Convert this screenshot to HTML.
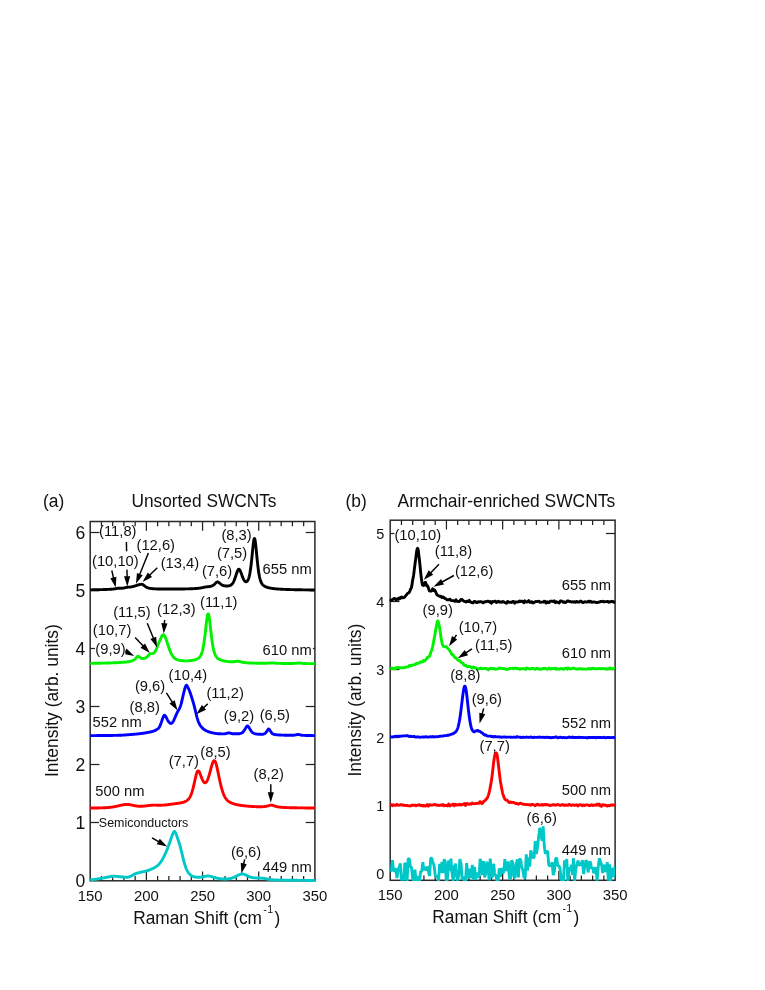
<!DOCTYPE html>
<html><head><meta charset="utf-8"><title>Raman spectra</title>
<style>html,body{margin:0;padding:0;background:#fff}body{width:765px;height:990px;overflow:hidden;font-family:"Liberation Sans",sans-serif}</style></head>
<body>
<svg width="765" height="990" viewBox="0 0 765 990" font-family='"Liberation Sans", sans-serif' fill="#111" style="display:block;will-change:transform">
<rect width="765" height="990" fill="#fff"/>
<rect x="90.20" y="521.50" width="224.70" height="359.30" fill="none" stroke="#2a2a2a" stroke-width="1.50"/>
<line x1="101.44" y1="880.80" x2="101.44" y2="876.00" stroke="#222" stroke-width="1.25"/>
<line x1="101.44" y1="521.50" x2="101.44" y2="526.30" stroke="#222" stroke-width="1.25"/>
<line x1="112.67" y1="880.80" x2="112.67" y2="876.00" stroke="#222" stroke-width="1.25"/>
<line x1="112.67" y1="521.50" x2="112.67" y2="526.30" stroke="#222" stroke-width="1.25"/>
<line x1="123.91" y1="880.80" x2="123.91" y2="876.00" stroke="#222" stroke-width="1.25"/>
<line x1="123.91" y1="521.50" x2="123.91" y2="526.30" stroke="#222" stroke-width="1.25"/>
<line x1="135.14" y1="880.80" x2="135.14" y2="876.00" stroke="#222" stroke-width="1.25"/>
<line x1="135.14" y1="521.50" x2="135.14" y2="526.30" stroke="#222" stroke-width="1.25"/>
<line x1="146.38" y1="880.80" x2="146.38" y2="871.50" stroke="#222" stroke-width="1.25"/>
<line x1="146.38" y1="521.50" x2="146.38" y2="530.80" stroke="#222" stroke-width="1.25"/>
<line x1="157.61" y1="880.80" x2="157.61" y2="876.00" stroke="#222" stroke-width="1.25"/>
<line x1="157.61" y1="521.50" x2="157.61" y2="526.30" stroke="#222" stroke-width="1.25"/>
<line x1="168.84" y1="880.80" x2="168.84" y2="876.00" stroke="#222" stroke-width="1.25"/>
<line x1="168.84" y1="521.50" x2="168.84" y2="526.30" stroke="#222" stroke-width="1.25"/>
<line x1="180.08" y1="880.80" x2="180.08" y2="876.00" stroke="#222" stroke-width="1.25"/>
<line x1="180.08" y1="521.50" x2="180.08" y2="526.30" stroke="#222" stroke-width="1.25"/>
<line x1="191.31" y1="880.80" x2="191.31" y2="876.00" stroke="#222" stroke-width="1.25"/>
<line x1="191.31" y1="521.50" x2="191.31" y2="526.30" stroke="#222" stroke-width="1.25"/>
<line x1="202.55" y1="880.80" x2="202.55" y2="871.50" stroke="#222" stroke-width="1.25"/>
<line x1="202.55" y1="521.50" x2="202.55" y2="530.80" stroke="#222" stroke-width="1.25"/>
<line x1="213.78" y1="880.80" x2="213.78" y2="876.00" stroke="#222" stroke-width="1.25"/>
<line x1="213.78" y1="521.50" x2="213.78" y2="526.30" stroke="#222" stroke-width="1.25"/>
<line x1="225.02" y1="880.80" x2="225.02" y2="876.00" stroke="#222" stroke-width="1.25"/>
<line x1="225.02" y1="521.50" x2="225.02" y2="526.30" stroke="#222" stroke-width="1.25"/>
<line x1="236.25" y1="880.80" x2="236.25" y2="876.00" stroke="#222" stroke-width="1.25"/>
<line x1="236.25" y1="521.50" x2="236.25" y2="526.30" stroke="#222" stroke-width="1.25"/>
<line x1="247.49" y1="880.80" x2="247.49" y2="876.00" stroke="#222" stroke-width="1.25"/>
<line x1="247.49" y1="521.50" x2="247.49" y2="526.30" stroke="#222" stroke-width="1.25"/>
<line x1="258.72" y1="880.80" x2="258.72" y2="871.50" stroke="#222" stroke-width="1.25"/>
<line x1="258.72" y1="521.50" x2="258.72" y2="530.80" stroke="#222" stroke-width="1.25"/>
<line x1="269.96" y1="880.80" x2="269.96" y2="876.00" stroke="#222" stroke-width="1.25"/>
<line x1="269.96" y1="521.50" x2="269.96" y2="526.30" stroke="#222" stroke-width="1.25"/>
<line x1="281.19" y1="880.80" x2="281.19" y2="876.00" stroke="#222" stroke-width="1.25"/>
<line x1="281.19" y1="521.50" x2="281.19" y2="526.30" stroke="#222" stroke-width="1.25"/>
<line x1="292.43" y1="880.80" x2="292.43" y2="876.00" stroke="#222" stroke-width="1.25"/>
<line x1="292.43" y1="521.50" x2="292.43" y2="526.30" stroke="#222" stroke-width="1.25"/>
<line x1="303.66" y1="880.80" x2="303.66" y2="876.00" stroke="#222" stroke-width="1.25"/>
<line x1="303.66" y1="521.50" x2="303.66" y2="526.30" stroke="#222" stroke-width="1.25"/>
<line x1="90.20" y1="822.50" x2="99.50" y2="822.50" stroke="#222" stroke-width="1.25"/>
<line x1="314.90" y1="822.50" x2="305.70" y2="822.50" stroke="#222" stroke-width="1.25"/>
<line x1="90.20" y1="764.50" x2="99.50" y2="764.50" stroke="#222" stroke-width="1.25"/>
<line x1="314.90" y1="764.50" x2="305.70" y2="764.50" stroke="#222" stroke-width="1.25"/>
<line x1="90.20" y1="706.50" x2="99.50" y2="706.50" stroke="#222" stroke-width="1.25"/>
<line x1="314.90" y1="706.50" x2="305.70" y2="706.50" stroke="#222" stroke-width="1.25"/>
<line x1="90.20" y1="648.50" x2="99.50" y2="648.50" stroke="#222" stroke-width="1.25"/>
<line x1="314.90" y1="648.50" x2="305.70" y2="648.50" stroke="#222" stroke-width="1.25"/>
<line x1="90.20" y1="590.50" x2="99.50" y2="590.50" stroke="#222" stroke-width="1.25"/>
<line x1="314.90" y1="590.50" x2="305.70" y2="590.50" stroke="#222" stroke-width="1.25"/>
<line x1="90.20" y1="532.50" x2="99.50" y2="532.50" stroke="#222" stroke-width="1.25"/>
<line x1="314.90" y1="532.50" x2="305.70" y2="532.50" stroke="#222" stroke-width="1.25"/>
<text transform="translate(90.20 900.60) scale(1 1.045)" font-size="14.90" text-anchor="middle">150</text>
<text transform="translate(146.38 900.60) scale(1 1.045)" font-size="14.90" text-anchor="middle">200</text>
<text transform="translate(202.55 900.60) scale(1 1.045)" font-size="14.90" text-anchor="middle">250</text>
<text transform="translate(258.72 900.60) scale(1 1.045)" font-size="14.90" text-anchor="middle">300</text>
<text transform="translate(314.90 900.60) scale(1 1.045)" font-size="14.90" text-anchor="middle">350</text>
<text transform="translate(85.20 886.92) scale(1 1.045)" font-size="17.60" text-anchor="end">0</text>
<text transform="translate(85.20 828.92) scale(1 1.045)" font-size="17.60" text-anchor="end">1</text>
<text transform="translate(85.20 770.92) scale(1 1.045)" font-size="17.60" text-anchor="end">2</text>
<text transform="translate(85.20 712.92) scale(1 1.045)" font-size="17.60" text-anchor="end">3</text>
<text transform="translate(85.20 654.92) scale(1 1.045)" font-size="17.60" text-anchor="end">4</text>
<text transform="translate(85.20 596.92) scale(1 1.045)" font-size="17.60" text-anchor="end">5</text>
<text transform="translate(85.20 538.92) scale(1 1.045)" font-size="17.60" text-anchor="end">6</text>
<g fill="none" stroke-width="2.9" stroke-linejoin="round" stroke-linecap="butt">
<path d="M90.20 879.80 L90.48 879.78 L90.76 879.75 L91.04 879.72 L91.32 879.69 L91.60 879.66 L91.89 879.64 L92.17 879.61 L92.45 879.58 L92.73 879.56 L93.01 879.53 L93.29 879.50 L93.57 879.47 L93.85 879.45 L94.13 879.42 L94.41 879.39 L94.69 879.36 L94.97 879.32 L95.26 879.29 L95.54 879.26 L95.82 879.22 L96.10 879.19 L96.38 879.15 L96.66 879.11 L96.94 879.07 L97.22 879.03 L97.50 878.99 L97.78 878.94 L98.06 878.90 L98.35 878.85 L98.63 878.80 L98.91 878.76 L99.19 878.71 L99.47 878.66 L99.75 878.61 L100.03 878.56 L100.31 878.51 L100.59 878.46 L100.87 878.41 L101.15 878.37 L101.44 878.32 L101.72 878.27 L102.00 878.22 L102.28 878.16 L102.56 878.11 L102.84 878.06 L103.12 878.00 L103.40 877.95 L103.68 877.89 L103.96 877.84 L104.24 877.78 L104.52 877.73 L104.81 877.67 L105.09 877.61 L105.37 877.56 L105.65 877.50 L105.93 877.45 L106.21 877.39 L106.49 877.34 L106.77 877.28 L107.05 877.23 L107.33 877.17 L107.61 877.12 L107.90 877.07 L108.18 877.02 L108.46 876.97 L108.74 876.91 L109.02 876.86 L109.30 876.80 L109.58 876.73 L109.86 876.67 L110.14 876.61 L110.42 876.55 L110.70 876.49 L110.98 876.43 L111.27 876.38 L111.55 876.33 L111.83 876.29 L112.11 876.25 L112.39 876.21 L112.67 876.18 L112.95 876.16 L113.23 876.15 L113.51 876.15 L113.79 876.15 L114.07 876.16 L114.36 876.17 L114.64 876.19 L114.92 876.21 L115.20 876.23 L115.48 876.25 L115.76 876.28 L116.04 876.31 L116.32 876.34 L116.60 876.37 L116.88 876.40 L117.16 876.43 L117.44 876.47 L117.73 876.50 L118.01 876.53 L118.29 876.56 L118.57 876.59 L118.85 876.62 L119.13 876.65 L119.41 876.67 L119.69 876.70 L119.97 876.72 L120.25 876.75 L120.53 876.77 L120.82 876.80 L121.10 876.83 L121.38 876.85 L121.66 876.88 L121.94 876.91 L122.22 876.94 L122.50 876.97 L122.78 876.99 L123.06 877.02 L123.34 877.05 L123.62 877.07 L123.91 877.10 L124.19 877.12 L124.47 877.14 L124.75 877.16 L125.03 877.18 L125.31 877.20 L125.59 877.21 L125.87 877.22 L126.15 877.23 L126.43 877.24 L126.71 877.25 L126.99 877.25 L127.28 877.25 L127.56 877.23 L127.84 877.19 L128.12 877.14 L128.40 877.07 L128.68 876.99 L128.96 876.89 L129.24 876.79 L129.52 876.68 L129.80 876.57 L130.08 876.45 L130.37 876.33 L130.65 876.21 L130.93 876.09 L131.21 875.98 L131.49 875.86 L131.77 875.73 L132.05 875.58 L132.33 875.43 L132.61 875.27 L132.89 875.10 L133.17 874.93 L133.45 874.76 L133.74 874.59 L134.02 874.43 L134.30 874.27 L134.58 874.11 L134.86 873.97 L135.14 873.84 L135.42 873.72 L135.70 873.62 L135.98 873.52 L136.26 873.43 L136.54 873.34 L136.83 873.25 L137.11 873.17 L137.39 873.09 L137.67 873.02 L137.95 872.94 L138.23 872.87 L138.51 872.80 L138.79 872.74 L139.07 872.67 L139.35 872.60 L139.63 872.53 L139.91 872.47 L140.20 872.40 L140.48 872.33 L140.76 872.26 L141.04 872.20 L141.32 872.13 L141.60 872.07 L141.88 872.00 L142.16 871.94 L142.44 871.88 L142.72 871.82 L143.00 871.76 L143.29 871.70 L143.57 871.64 L143.85 871.58 L144.13 871.52 L144.41 871.45 L144.69 871.39 L144.97 871.32 L145.25 871.25 L145.53 871.18 L145.81 871.10 L146.09 871.03 L146.38 870.95 L146.66 870.86 L146.94 870.78 L147.22 870.69 L147.50 870.60 L147.78 870.51 L148.06 870.42 L148.34 870.32 L148.62 870.22 L148.90 870.12 L149.18 870.02 L149.46 869.92 L149.75 869.81 L150.03 869.70 L150.31 869.59 L150.59 869.48 L150.87 869.36 L151.15 869.25 L151.43 869.13 L151.71 869.01 L151.99 868.89 L152.27 868.76 L152.55 868.63 L152.84 868.50 L153.12 868.36 L153.40 868.23 L153.68 868.08 L153.96 867.94 L154.24 867.79 L154.52 867.63 L154.80 867.47 L155.08 867.30 L155.36 867.13 L155.64 866.95 L155.92 866.77 L156.21 866.58 L156.49 866.38 L156.77 866.17 L157.05 865.95 L157.33 865.72 L157.61 865.48 L157.89 865.24 L158.17 864.98 L158.45 864.71 L158.73 864.43 L159.01 864.14 L159.30 863.84 L159.58 863.53 L159.86 863.21 L160.14 862.88 L160.42 862.53 L160.70 862.15 L160.98 861.74 L161.26 861.31 L161.54 860.86 L161.82 860.39 L162.10 859.90 L162.38 859.41 L162.67 858.90 L162.95 858.39 L163.23 857.88 L163.51 857.36 L163.79 856.82 L164.07 856.27 L164.35 855.71 L164.63 855.13 L164.91 854.54 L165.19 853.94 L165.47 853.33 L165.76 852.71 L166.04 852.08 L166.32 851.44 L166.60 850.79 L166.88 850.12 L167.16 849.44 L167.44 848.75 L167.72 848.04 L168.00 847.32 L168.28 846.59 L168.56 845.84 L168.84 845.06 L169.13 844.24 L169.41 843.41 L169.69 842.56 L169.97 841.70 L170.25 840.85 L170.53 840.02 L170.81 839.21 L171.09 838.43 L171.37 837.64 L171.65 836.86 L171.93 836.08 L172.22 835.33 L172.50 834.63 L172.78 833.98 L173.06 833.41 L173.34 832.82 L173.62 832.23 L173.90 831.74 L174.18 831.43 L174.46 831.40 L174.74 831.61 L175.02 832.00 L175.31 832.50 L175.59 833.02 L175.87 833.55 L176.15 834.19 L176.43 834.91 L176.71 835.71 L176.99 836.55 L177.27 837.40 L177.55 838.25 L177.83 839.06 L178.11 839.87 L178.39 840.69 L178.68 841.52 L178.96 842.36 L179.24 843.22 L179.52 844.11 L179.80 845.03 L180.08 845.99 L180.36 847.00 L180.64 848.07 L180.92 849.19 L181.20 850.34 L181.48 851.50 L181.77 852.68 L182.05 853.84 L182.33 854.98 L182.61 856.13 L182.89 857.31 L183.17 858.50 L183.45 859.68 L183.73 860.82 L184.01 861.91 L184.29 862.91 L184.57 863.84 L184.85 864.75 L185.14 865.63 L185.42 866.47 L185.70 867.27 L185.98 868.02 L186.26 868.72 L186.54 869.36 L186.82 869.95 L187.10 870.50 L187.38 871.03 L187.66 871.53 L187.94 872.00 L188.23 872.43 L188.51 872.83 L188.79 873.18 L189.07 873.51 L189.35 873.82 L189.63 874.12 L189.91 874.41 L190.19 874.67 L190.47 874.92 L190.75 875.15 L191.03 875.36 L191.31 875.55 L191.60 875.71 L191.88 875.86 L192.16 876.00 L192.44 876.14 L192.72 876.27 L193.00 876.40 L193.28 876.51 L193.56 876.62 L193.84 876.72 L194.12 876.81 L194.40 876.88 L194.69 876.95 L194.97 877.00 L195.25 877.03 L195.53 877.07 L195.81 877.10 L196.09 877.13 L196.37 877.16 L196.65 877.18 L196.93 877.21 L197.21 877.23 L197.49 877.25 L197.78 877.27 L198.06 877.28 L198.34 877.29 L198.62 877.30 L198.90 877.31 L199.18 877.31 L199.46 877.30 L199.74 877.29 L200.02 877.26 L200.30 877.22 L200.58 877.18 L200.86 877.13 L201.15 877.07 L201.43 877.01 L201.71 876.95 L201.99 876.89 L202.27 876.83 L202.55 876.77 L202.83 876.71 L203.11 876.65 L203.39 876.60 L203.67 876.56 L203.95 876.51 L204.24 876.47 L204.52 876.42 L204.80 876.37 L205.08 876.32 L205.36 876.28 L205.64 876.23 L205.92 876.18 L206.20 876.14 L206.48 876.10 L206.76 876.07 L207.04 876.04 L207.32 876.01 L207.61 875.99 L207.89 875.98 L208.17 875.98 L208.45 875.98 L208.73 876.00 L209.01 876.03 L209.29 876.07 L209.57 876.12 L209.85 876.18 L210.13 876.24 L210.41 876.31 L210.70 876.38 L210.98 876.45 L211.26 876.53 L211.54 876.61 L211.82 876.69 L212.10 876.76 L212.38 876.83 L212.66 876.90 L212.94 876.97 L213.22 877.05 L213.50 877.13 L213.78 877.21 L214.07 877.30 L214.35 877.39 L214.63 877.47 L214.91 877.56 L215.19 877.65 L215.47 877.74 L215.75 877.82 L216.03 877.90 L216.31 877.98 L216.59 878.05 L216.87 878.12 L217.16 878.18 L217.44 878.24 L217.72 878.29 L218.00 878.35 L218.28 878.41 L218.56 878.46 L218.84 878.51 L219.12 878.57 L219.40 878.62 L219.68 878.66 L219.96 878.71 L220.25 878.75 L220.53 878.78 L220.81 878.81 L221.09 878.84 L221.37 878.86 L221.65 878.88 L221.93 878.89 L222.21 878.90 L222.49 878.91 L222.77 878.92 L223.05 878.93 L223.33 878.94 L223.62 878.95 L223.90 878.96 L224.18 878.97 L224.46 878.97 L224.74 878.98 L225.02 878.98 L225.30 878.99 L225.58 878.99 L225.86 878.99 L226.14 878.99 L226.42 878.99 L226.71 878.98 L226.99 878.96 L227.27 878.94 L227.55 878.92 L227.83 878.88 L228.11 878.85 L228.39 878.81 L228.67 878.77 L228.95 878.72 L229.23 878.67 L229.51 878.62 L229.79 878.57 L230.08 878.52 L230.36 878.47 L230.64 878.41 L230.92 878.35 L231.20 878.28 L231.48 878.20 L231.76 878.12 L232.04 878.02 L232.32 877.92 L232.60 877.81 L232.88 877.70 L233.17 877.59 L233.45 877.47 L233.73 877.34 L234.01 877.22 L234.29 877.10 L234.57 876.97 L234.85 876.85 L235.13 876.73 L235.41 876.61 L235.69 876.47 L235.97 876.33 L236.25 876.18 L236.54 876.03 L236.82 875.88 L237.10 875.72 L237.38 875.57 L237.66 875.43 L237.94 875.29 L238.22 875.15 L238.50 875.03 L238.78 874.92 L239.06 874.82 L239.34 874.72 L239.63 874.63 L239.91 874.53 L240.19 874.44 L240.47 874.35 L240.75 874.26 L241.03 874.18 L241.31 874.12 L241.59 874.07 L241.87 874.03 L242.15 874.01 L242.43 874.01 L242.72 874.02 L243.00 874.06 L243.28 874.12 L243.56 874.19 L243.84 874.27 L244.12 874.36 L244.40 874.46 L244.68 874.56 L244.96 874.67 L245.24 874.78 L245.52 874.89 L245.80 874.99 L246.09 875.10 L246.37 875.22 L246.65 875.36 L246.93 875.51 L247.21 875.66 L247.49 875.82 L247.77 875.98 L248.05 876.14 L248.33 876.29 L248.61 876.44 L248.89 876.58 L249.18 876.70 L249.46 876.81 L249.74 876.90 L250.02 876.99 L250.30 877.06 L250.58 877.14 L250.86 877.22 L251.14 877.29 L251.42 877.36 L251.70 877.42 L251.98 877.49 L252.26 877.54 L252.55 877.60 L252.83 877.65 L253.11 877.70 L253.39 877.74 L253.67 877.77 L253.95 877.81 L254.23 877.83 L254.51 877.85 L254.79 877.87 L255.07 877.89 L255.35 877.91 L255.64 877.93 L255.92 877.94 L256.20 877.95 L256.48 877.97 L256.76 877.98 L257.04 877.99 L257.32 878.00 L257.60 878.01 L257.88 878.02 L258.16 878.04 L258.44 878.05 L258.72 878.06 L259.01 878.08 L259.29 878.09 L259.57 878.10 L259.85 878.12 L260.13 878.13 L260.41 878.14 L260.69 878.15 L260.97 878.16 L261.25 878.18 L261.53 878.19 L261.81 878.20 L262.10 878.22 L262.38 878.24 L262.66 878.25 L262.94 878.27 L263.22 878.30 L263.50 878.32 L263.78 878.36 L264.06 878.39 L264.34 878.44 L264.62 878.49 L264.90 878.54 L265.19 878.60 L265.47 878.65 L265.75 878.71 L266.03 878.77 L266.31 878.83 L266.59 878.89 L266.87 878.95 L267.15 879.01 L267.43 879.06 L267.71 879.11 L267.99 879.16 L268.27 879.21 L268.56 879.26 L268.84 879.31 L269.12 879.36 L269.40 879.41 L269.68 879.46 L269.96 879.51 L270.24 879.56 L270.52 879.61 L270.80 879.65 L271.08 879.69 L271.36 879.72 L271.65 879.76 L271.93 879.78 L272.21 879.80 L272.49 879.82 L272.77 879.84 L273.05 879.86 L273.33 879.87 L273.61 879.89 L273.89 879.91 L274.17 879.92 L274.45 879.93 L274.73 879.95 L275.02 879.96 L275.30 879.98 L275.58 879.99 L275.86 880.00 L276.14 880.01 L276.42 880.02 L276.70 880.03 L276.98 880.04 L277.26 880.05 L277.54 880.06 L277.82 880.07 L278.11 880.08 L278.39 880.09 L278.67 880.10 L278.95 880.10 L279.23 880.11 L279.51 880.12 L279.79 880.12 L280.07 880.13 L280.35 880.14 L280.63 880.14 L280.91 880.15 L281.19 880.15 L281.48 880.16 L281.76 880.16 L282.04 880.17 L282.32 880.17 L282.60 880.17 L282.88 880.18 L283.16 880.18 L283.44 880.19 L283.72 880.19 L284.00 880.19 L284.28 880.20 L284.57 880.20 L284.85 880.21 L285.13 880.21 L285.41 880.21 L285.69 880.22 L285.97 880.22 L286.25 880.22 L286.53 880.22 L286.81 880.23 L287.09 880.23 L287.37 880.23 L287.66 880.24 L287.94 880.24 L288.22 880.24 L288.50 880.24 L288.78 880.25 L289.06 880.25 L289.34 880.25 L289.62 880.25 L289.90 880.26 L290.18 880.26 L290.46 880.26 L290.74 880.26 L291.03 880.27 L291.31 880.27 L291.59 880.27 L291.87 880.27 L292.15 880.27 L292.43 880.28 L292.71 880.28 L292.99 880.28 L293.27 880.28 L293.55 880.29 L293.83 880.29 L294.12 880.29 L294.40 880.29 L294.68 880.29 L294.96 880.30 L295.24 880.30 L295.52 880.30 L295.80 880.30 L296.08 880.31 L296.36 880.31 L296.64 880.31 L296.92 880.31 L297.20 880.32 L297.49 880.32 L297.77 880.32 L298.05 880.33 L298.33 880.33 L298.61 880.33 L298.89 880.33 L299.17 880.34 L299.45 880.34 L299.73 880.34 L300.01 880.35 L300.29 880.35 L300.58 880.35 L300.86 880.36 L301.14 880.36 L301.42 880.36 L301.70 880.36 L301.98 880.37 L302.26 880.37 L302.54 880.37 L302.82 880.38 L303.10 880.38 L303.38 880.38 L303.66 880.38 L303.95 880.39 L304.23 880.39 L304.51 880.39 L304.79 880.40 L305.07 880.40 L305.35 880.40 L305.63 880.40 L305.91 880.41 L306.19 880.41 L306.47 880.41 L306.75 880.42 L307.04 880.42 L307.32 880.42 L307.60 880.42 L307.88 880.43 L308.16 880.43 L308.44 880.43 L308.72 880.44 L309.00 880.44 L309.28 880.44 L309.56 880.44 L309.84 880.45 L310.13 880.45 L310.41 880.45 L310.69 880.46 L310.97 880.46 L311.25 880.46 L311.53 880.47 L311.81 880.47 L312.09 880.47 L312.37 880.47 L312.65 880.48 L312.93 880.48 L313.21 880.48 L313.50 880.49 L313.78 880.49 L314.06 880.49 L314.34 880.49 L314.62 880.50 L314.90 880.50" stroke="#00c8c8"/>
<path d="M90.20 808.04 L90.48 808.04 L90.76 808.04 L91.04 808.04 L91.32 808.03 L91.60 808.03 L91.89 808.03 L92.17 808.02 L92.45 808.02 L92.73 808.02 L93.01 808.02 L93.29 808.01 L93.57 808.01 L93.85 808.01 L94.13 808.00 L94.41 808.00 L94.69 808.00 L94.97 807.99 L95.26 807.99 L95.54 807.98 L95.82 807.98 L96.10 807.98 L96.38 807.97 L96.66 807.97 L96.94 807.96 L97.22 807.96 L97.50 807.95 L97.78 807.95 L98.06 807.95 L98.35 807.94 L98.63 807.93 L98.91 807.93 L99.19 807.92 L99.47 807.92 L99.75 807.91 L100.03 807.91 L100.31 807.90 L100.59 807.89 L100.87 807.89 L101.15 807.88 L101.44 807.87 L101.72 807.86 L102.00 807.85 L102.28 807.85 L102.56 807.84 L102.84 807.83 L103.12 807.82 L103.40 807.81 L103.68 807.80 L103.96 807.78 L104.24 807.77 L104.52 807.76 L104.81 807.75 L105.09 807.73 L105.37 807.72 L105.65 807.70 L105.93 807.69 L106.21 807.67 L106.49 807.65 L106.77 807.63 L107.05 807.61 L107.33 807.59 L107.61 807.57 L107.90 807.55 L108.18 807.53 L108.46 807.50 L108.74 807.48 L109.02 807.45 L109.30 807.42 L109.58 807.39 L109.86 807.36 L110.14 807.33 L110.42 807.30 L110.70 807.27 L110.98 807.23 L111.27 807.20 L111.55 807.16 L111.83 807.12 L112.11 807.08 L112.39 807.04 L112.67 806.99 L112.95 806.95 L113.23 806.90 L113.51 806.85 L113.79 806.81 L114.07 806.76 L114.36 806.70 L114.64 806.65 L114.92 806.60 L115.20 806.54 L115.48 806.49 L115.76 806.43 L116.04 806.37 L116.32 806.31 L116.60 806.25 L116.88 806.19 L117.16 806.13 L117.44 806.06 L117.73 806.00 L118.01 805.93 L118.29 805.87 L118.57 805.80 L118.85 805.74 L119.13 805.67 L119.41 805.61 L119.69 805.54 L119.97 805.48 L120.25 805.41 L120.53 805.35 L120.82 805.28 L121.10 805.22 L121.38 805.16 L121.66 805.10 L121.94 805.04 L122.22 804.98 L122.50 804.93 L122.78 804.87 L123.06 804.82 L123.34 804.77 L123.62 804.73 L123.91 804.68 L124.19 804.64 L124.47 804.60 L124.75 804.57 L125.03 804.53 L125.31 804.51 L125.59 804.48 L125.87 804.46 L126.15 804.44 L126.43 804.43 L126.71 804.42 L126.99 804.41 L127.28 804.41 L127.56 804.42 L127.84 804.43 L128.12 804.45 L128.40 804.47 L128.68 804.50 L128.96 804.53 L129.24 804.57 L129.52 804.61 L129.80 804.66 L130.08 804.71 L130.37 804.76 L130.65 804.82 L130.93 804.87 L131.21 804.93 L131.49 804.99 L131.77 805.05 L132.05 805.12 L132.33 805.18 L132.61 805.24 L132.89 805.31 L133.17 805.37 L133.45 805.43 L133.74 805.49 L134.02 805.55 L134.30 805.61 L134.58 805.66 L134.86 805.72 L135.14 805.77 L135.42 805.82 L135.70 805.87 L135.98 805.91 L136.26 805.96 L136.54 806.00 L136.83 806.04 L137.11 806.07 L137.39 806.10 L137.67 806.13 L137.95 806.16 L138.23 806.19 L138.51 806.21 L138.79 806.23 L139.07 806.24 L139.35 806.26 L139.63 806.27 L139.91 806.27 L140.20 806.28 L140.48 806.28 L140.76 806.28 L141.04 806.28 L141.32 806.27 L141.60 806.26 L141.88 806.25 L142.16 806.24 L142.44 806.23 L142.72 806.21 L143.00 806.19 L143.29 806.17 L143.57 806.15 L143.85 806.12 L144.13 806.09 L144.41 806.07 L144.69 806.04 L144.97 806.01 L145.25 805.97 L145.53 805.94 L145.81 805.90 L146.09 805.87 L146.38 805.83 L146.66 805.80 L146.94 805.76 L147.22 805.72 L147.50 805.68 L147.78 805.64 L148.06 805.61 L148.34 805.57 L148.62 805.53 L148.90 805.50 L149.18 805.46 L149.46 805.43 L149.75 805.39 L150.03 805.36 L150.31 805.33 L150.59 805.31 L150.87 805.28 L151.15 805.26 L151.43 805.24 L151.71 805.22 L151.99 805.20 L152.27 805.19 L152.55 805.17 L152.84 805.16 L153.12 805.16 L153.40 805.15 L153.68 805.14 L153.96 805.14 L154.24 805.14 L154.52 805.14 L154.80 805.14 L155.08 805.15 L155.36 805.15 L155.64 805.16 L155.92 805.16 L156.21 805.17 L156.49 805.18 L156.77 805.18 L157.05 805.19 L157.33 805.20 L157.61 805.20 L157.89 805.21 L158.17 805.21 L158.45 805.22 L158.73 805.22 L159.01 805.22 L159.30 805.22 L159.58 805.22 L159.86 805.22 L160.14 805.22 L160.42 805.22 L160.70 805.21 L160.98 805.21 L161.26 805.20 L161.54 805.19 L161.82 805.18 L162.10 805.17 L162.38 805.16 L162.67 805.15 L162.95 805.13 L163.23 805.11 L163.51 805.10 L163.79 805.08 L164.07 805.06 L164.35 805.04 L164.63 805.01 L164.91 804.99 L165.19 804.96 L165.47 804.94 L165.76 804.91 L166.04 804.88 L166.32 804.85 L166.60 804.82 L166.88 804.79 L167.16 804.75 L167.44 804.72 L167.72 804.69 L168.00 804.65 L168.28 804.61 L168.56 804.58 L168.84 804.54 L169.13 804.50 L169.41 804.46 L169.69 804.43 L169.97 804.39 L170.25 804.35 L170.53 804.31 L170.81 804.27 L171.09 804.23 L171.37 804.19 L171.65 804.15 L171.93 804.11 L172.22 804.07 L172.50 804.03 L172.78 804.00 L173.06 803.96 L173.34 803.92 L173.62 803.88 L173.90 803.84 L174.18 803.81 L174.46 803.77 L174.74 803.73 L175.02 803.70 L175.31 803.66 L175.59 803.62 L175.87 803.59 L176.15 803.55 L176.43 803.52 L176.71 803.48 L176.99 803.44 L177.27 803.41 L177.55 803.37 L177.83 803.33 L178.11 803.29 L178.39 803.25 L178.68 803.21 L178.96 803.17 L179.24 803.12 L179.52 803.08 L179.80 803.03 L180.08 802.98 L180.36 802.93 L180.64 802.88 L180.92 802.83 L181.20 802.77 L181.48 802.71 L181.77 802.65 L182.05 802.58 L182.33 802.51 L182.61 802.44 L182.89 802.36 L183.17 802.28 L183.45 802.19 L183.73 802.10 L184.01 802.01 L184.29 801.90 L184.57 801.80 L184.85 801.68 L185.14 801.56 L185.42 801.43 L185.70 801.28 L185.98 801.13 L186.26 800.97 L186.54 800.80 L186.82 800.61 L187.10 800.40 L187.38 800.18 L187.66 799.94 L187.94 799.67 L188.23 799.39 L188.51 799.07 L188.79 798.73 L189.07 798.36 L189.35 797.96 L189.63 797.52 L189.91 797.04 L190.19 796.51 L190.47 795.95 L190.75 795.33 L191.03 794.67 L191.31 793.96 L191.60 793.19 L191.88 792.37 L192.16 791.49 L192.44 790.56 L192.72 789.57 L193.00 788.52 L193.28 787.43 L193.56 786.29 L193.84 785.10 L194.12 783.88 L194.40 782.62 L194.69 781.35 L194.97 780.07 L195.25 778.80 L195.53 777.55 L195.81 776.35 L196.09 775.21 L196.37 774.16 L196.65 773.23 L196.93 772.43 L197.21 771.79 L197.49 771.32 L197.78 771.03 L198.06 770.92 L198.34 770.96 L198.62 771.12 L198.90 771.41 L199.18 771.82 L199.46 772.32 L199.74 772.91 L200.02 773.56 L200.30 774.26 L200.58 774.99 L200.86 775.74 L201.15 776.50 L201.43 777.25 L201.71 777.98 L201.99 778.68 L202.27 779.35 L202.55 779.97 L202.83 780.55 L203.11 781.06 L203.39 781.51 L203.67 781.90 L203.95 782.22 L204.24 782.47 L204.52 782.64 L204.80 782.74 L205.08 782.77 L205.36 782.72 L205.64 782.59 L205.92 782.39 L206.20 782.12 L206.48 781.77 L206.76 781.34 L207.04 780.85 L207.32 780.29 L207.61 779.66 L207.89 778.96 L208.17 778.21 L208.45 777.40 L208.73 776.54 L209.01 775.62 L209.29 774.67 L209.57 773.68 L209.85 772.66 L210.13 771.62 L210.41 770.56 L210.70 769.50 L210.98 768.44 L211.26 767.39 L211.54 766.38 L211.82 765.40 L212.10 764.48 L212.38 763.63 L212.66 762.85 L212.94 762.18 L213.22 761.61 L213.50 761.16 L213.78 760.84 L214.07 760.66 L214.35 760.63 L214.63 760.74 L214.91 761.02 L215.19 761.46 L215.47 762.05 L215.75 762.79 L216.03 763.66 L216.31 764.65 L216.59 765.73 L216.87 766.90 L217.16 768.14 L217.44 769.44 L217.72 770.77 L218.00 772.14 L218.28 773.51 L218.56 774.89 L218.84 776.26 L219.12 777.62 L219.40 778.96 L219.68 780.28 L219.96 781.55 L220.25 782.80 L220.53 784.00 L220.81 785.16 L221.09 786.28 L221.37 787.35 L221.65 788.38 L221.93 789.36 L222.21 790.29 L222.49 791.17 L222.77 792.01 L223.05 792.81 L223.33 793.55 L223.62 794.26 L223.90 794.92 L224.18 795.54 L224.46 796.13 L224.74 796.67 L225.02 797.18 L225.30 797.66 L225.58 798.11 L225.86 798.52 L226.14 798.91 L226.42 799.28 L226.71 799.61 L226.99 799.93 L227.27 800.23 L227.55 800.50 L227.83 800.76 L228.11 801.00 L228.39 801.23 L228.67 801.44 L228.95 801.64 L229.23 801.83 L229.51 802.00 L229.79 802.17 L230.08 802.33 L230.36 802.48 L230.64 802.62 L230.92 802.76 L231.20 802.89 L231.48 803.01 L231.76 803.13 L232.04 803.24 L232.32 803.34 L232.60 803.45 L232.88 803.55 L233.17 803.64 L233.45 803.73 L233.73 803.82 L234.01 803.91 L234.29 803.99 L234.57 804.07 L234.85 804.15 L235.13 804.22 L235.41 804.30 L235.69 804.37 L235.97 804.44 L236.25 804.50 L236.54 804.57 L236.82 804.63 L237.10 804.69 L237.38 804.75 L237.66 804.81 L237.94 804.87 L238.22 804.92 L238.50 804.97 L238.78 805.03 L239.06 805.08 L239.34 805.13 L239.63 805.17 L239.91 805.22 L240.19 805.27 L240.47 805.31 L240.75 805.36 L241.03 805.40 L241.31 805.44 L241.59 805.48 L241.87 805.52 L242.15 805.56 L242.43 805.60 L242.72 805.63 L243.00 805.67 L243.28 805.71 L243.56 805.74 L243.84 805.77 L244.12 805.81 L244.40 805.84 L244.68 805.87 L244.96 805.90 L245.24 805.93 L245.52 805.96 L245.80 805.99 L246.09 806.02 L246.37 806.04 L246.65 806.07 L246.93 806.10 L247.21 806.12 L247.49 806.15 L247.77 806.17 L248.05 806.20 L248.33 806.22 L248.61 806.24 L248.89 806.27 L249.18 806.29 L249.46 806.31 L249.74 806.33 L250.02 806.35 L250.30 806.37 L250.58 806.39 L250.86 806.41 L251.14 806.43 L251.42 806.45 L251.70 806.46 L251.98 806.48 L252.26 806.50 L252.55 806.51 L252.83 806.53 L253.11 806.54 L253.39 806.56 L253.67 806.57 L253.95 806.59 L254.23 806.60 L254.51 806.61 L254.79 806.62 L255.07 806.64 L255.35 806.65 L255.64 806.66 L255.92 806.67 L256.20 806.68 L256.48 806.69 L256.76 806.70 L257.04 806.70 L257.32 806.71 L257.60 806.72 L257.88 806.72 L258.16 806.73 L258.44 806.73 L258.72 806.74 L259.01 806.74 L259.29 806.74 L259.57 806.74 L259.85 806.74 L260.13 806.74 L260.41 806.74 L260.69 806.74 L260.97 806.74 L261.25 806.73 L261.53 806.73 L261.81 806.72 L262.10 806.71 L262.38 806.70 L262.66 806.69 L262.94 806.67 L263.22 806.66 L263.50 806.64 L263.78 806.62 L264.06 806.59 L264.34 806.57 L264.62 806.54 L264.90 806.51 L265.19 806.47 L265.47 806.43 L265.75 806.39 L266.03 806.34 L266.31 806.29 L266.59 806.24 L266.87 806.18 L267.15 806.11 L267.43 806.04 L267.71 805.97 L267.99 805.89 L268.27 805.81 L268.56 805.73 L268.84 805.64 L269.12 805.55 L269.40 805.47 L269.68 805.39 L269.96 805.32 L270.24 805.25 L270.52 805.20 L270.80 805.16 L271.08 805.14 L271.36 805.14 L271.65 805.15 L271.93 805.18 L272.21 805.23 L272.49 805.29 L272.77 805.36 L273.05 805.45 L273.33 805.54 L273.61 805.64 L273.89 805.74 L274.17 805.84 L274.45 805.94 L274.73 806.04 L275.02 806.13 L275.30 806.22 L275.58 806.31 L275.86 806.39 L276.14 806.47 L276.42 806.54 L276.70 806.61 L276.98 806.67 L277.26 806.73 L277.54 806.79 L277.82 806.84 L278.11 806.89 L278.39 806.94 L278.67 806.98 L278.95 807.02 L279.23 807.06 L279.51 807.09 L279.79 807.13 L280.07 807.16 L280.35 807.19 L280.63 807.22 L280.91 807.24 L281.19 807.27 L281.48 807.29 L281.76 807.31 L282.04 807.34 L282.32 807.36 L282.60 807.38 L282.88 807.39 L283.16 807.41 L283.44 807.43 L283.72 807.44 L284.00 807.46 L284.28 807.47 L284.57 807.49 L284.85 807.50 L285.13 807.51 L285.41 807.53 L285.69 807.54 L285.97 807.55 L286.25 807.56 L286.53 807.57 L286.81 807.58 L287.09 807.59 L287.37 807.60 L287.66 807.61 L287.94 807.62 L288.22 807.63 L288.50 807.64 L288.78 807.65 L289.06 807.66 L289.34 807.66 L289.62 807.67 L289.90 807.68 L290.18 807.69 L290.46 807.69 L290.74 807.70 L291.03 807.71 L291.31 807.71 L291.59 807.72 L291.87 807.73 L292.15 807.73 L292.43 807.74 L292.71 807.75 L292.99 807.75 L293.27 807.76 L293.55 807.76 L293.83 807.77 L294.12 807.77 L294.40 807.78 L294.68 807.78 L294.96 807.79 L295.24 807.79 L295.52 807.80 L295.80 807.80 L296.08 807.81 L296.36 807.81 L296.64 807.82 L296.92 807.82 L297.20 807.83 L297.49 807.83 L297.77 807.84 L298.05 807.84 L298.33 807.84 L298.61 807.85 L298.89 807.85 L299.17 807.86 L299.45 807.86 L299.73 807.86 L300.01 807.87 L300.29 807.87 L300.58 807.88 L300.86 807.88 L301.14 807.88 L301.42 807.89 L301.70 807.89 L301.98 807.89 L302.26 807.90 L302.54 807.90 L302.82 807.90 L303.10 807.91 L303.38 807.91 L303.66 807.91 L303.95 807.92 L304.23 807.92 L304.51 807.92 L304.79 807.93 L305.07 807.93 L305.35 807.93 L305.63 807.94 L305.91 807.94 L306.19 807.94 L306.47 807.94 L306.75 807.95 L307.04 807.95 L307.32 807.95 L307.60 807.95 L307.88 807.96 L308.16 807.96 L308.44 807.96 L308.72 807.97 L309.00 807.97 L309.28 807.97 L309.56 807.97 L309.84 807.98 L310.13 807.98 L310.41 807.98 L310.69 807.98 L310.97 807.99 L311.25 807.99 L311.53 807.99 L311.81 807.99 L312.09 808.00 L312.37 808.00 L312.65 808.00 L312.93 808.00 L313.21 808.00 L313.50 808.01 L313.78 808.01 L314.06 808.01 L314.34 808.01 L314.62 808.01 L314.90 808.02" stroke="#ff0000"/>
<path d="M90.20 735.62 L90.48 735.61 L90.76 735.61 L91.04 735.61 L91.32 735.61 L91.60 735.61 L91.89 735.60 L92.17 735.60 L92.45 735.60 L92.73 735.60 L93.01 735.60 L93.29 735.60 L93.57 735.59 L93.85 735.59 L94.13 735.59 L94.41 735.59 L94.69 735.59 L94.97 735.59 L95.26 735.58 L95.54 735.58 L95.82 735.58 L96.10 735.58 L96.38 735.58 L96.66 735.58 L96.94 735.57 L97.22 735.57 L97.50 735.57 L97.78 735.57 L98.06 735.57 L98.35 735.57 L98.63 735.56 L98.91 735.56 L99.19 735.56 L99.47 735.56 L99.75 735.56 L100.03 735.56 L100.31 735.55 L100.59 735.55 L100.87 735.55 L101.15 735.55 L101.44 735.55 L101.72 735.54 L102.00 735.54 L102.28 735.54 L102.56 735.54 L102.84 735.54 L103.12 735.53 L103.40 735.53 L103.68 735.53 L103.96 735.53 L104.24 735.53 L104.52 735.52 L104.81 735.52 L105.09 735.52 L105.37 735.52 L105.65 735.51 L105.93 735.51 L106.21 735.51 L106.49 735.51 L106.77 735.50 L107.05 735.50 L107.33 735.50 L107.61 735.49 L107.90 735.49 L108.18 735.49 L108.46 735.49 L108.74 735.48 L109.02 735.48 L109.30 735.48 L109.58 735.47 L109.86 735.47 L110.14 735.46 L110.42 735.46 L110.70 735.46 L110.98 735.45 L111.27 735.45 L111.55 735.45 L111.83 735.44 L112.11 735.44 L112.39 735.43 L112.67 735.43 L112.95 735.42 L113.23 735.42 L113.51 735.41 L113.79 735.41 L114.07 735.40 L114.36 735.40 L114.64 735.39 L114.92 735.39 L115.20 735.38 L115.48 735.38 L115.76 735.37 L116.04 735.37 L116.32 735.36 L116.60 735.35 L116.88 735.35 L117.16 735.34 L117.44 735.33 L117.73 735.33 L118.01 735.32 L118.29 735.31 L118.57 735.31 L118.85 735.30 L119.13 735.29 L119.41 735.28 L119.69 735.28 L119.97 735.27 L120.25 735.26 L120.53 735.25 L120.82 735.24 L121.10 735.23 L121.38 735.21 L121.66 735.20 L121.94 735.19 L122.22 735.17 L122.50 735.16 L122.78 735.14 L123.06 735.12 L123.34 735.10 L123.62 735.09 L123.91 735.07 L124.19 735.05 L124.47 735.03 L124.75 735.01 L125.03 734.99 L125.31 734.96 L125.59 734.94 L125.87 734.92 L126.15 734.90 L126.43 734.88 L126.71 734.85 L126.99 734.83 L127.28 734.81 L127.56 734.79 L127.84 734.76 L128.12 734.74 L128.40 734.72 L128.68 734.70 L128.96 734.67 L129.24 734.65 L129.52 734.63 L129.80 734.61 L130.08 734.59 L130.37 734.56 L130.65 734.54 L130.93 734.52 L131.21 734.50 L131.49 734.48 L131.77 734.45 L132.05 734.43 L132.33 734.41 L132.61 734.38 L132.89 734.36 L133.17 734.34 L133.45 734.31 L133.74 734.29 L134.02 734.26 L134.30 734.24 L134.58 734.21 L134.86 734.19 L135.14 734.16 L135.42 734.14 L135.70 734.11 L135.98 734.08 L136.26 734.06 L136.54 734.03 L136.83 734.00 L137.11 733.97 L137.39 733.94 L137.67 733.92 L137.95 733.89 L138.23 733.86 L138.51 733.83 L138.79 733.80 L139.07 733.77 L139.35 733.73 L139.63 733.70 L139.91 733.67 L140.20 733.64 L140.48 733.60 L140.76 733.57 L141.04 733.53 L141.32 733.49 L141.60 733.46 L141.88 733.42 L142.16 733.38 L142.44 733.34 L142.72 733.30 L143.00 733.26 L143.29 733.22 L143.57 733.17 L143.85 733.13 L144.13 733.09 L144.41 733.04 L144.69 733.00 L144.97 732.95 L145.25 732.91 L145.53 732.86 L145.81 732.81 L146.09 732.76 L146.38 732.72 L146.66 732.67 L146.94 732.62 L147.22 732.57 L147.50 732.52 L147.78 732.47 L148.06 732.42 L148.34 732.37 L148.62 732.32 L148.90 732.27 L149.18 732.21 L149.46 732.16 L149.75 732.10 L150.03 732.04 L150.31 731.98 L150.59 731.92 L150.87 731.85 L151.15 731.79 L151.43 731.72 L151.71 731.65 L151.99 731.57 L152.27 731.49 L152.55 731.41 L152.84 731.33 L153.12 731.24 L153.40 731.15 L153.68 731.05 L153.96 730.94 L154.24 730.83 L154.52 730.71 L154.80 730.58 L155.08 730.45 L155.36 730.31 L155.64 730.17 L155.92 730.02 L156.21 729.86 L156.49 729.70 L156.77 729.53 L157.05 729.35 L157.33 729.16 L157.61 728.95 L157.89 728.72 L158.17 728.48 L158.45 728.21 L158.73 727.91 L159.01 727.59 L159.30 727.23 L159.58 726.76 L159.86 726.18 L160.14 725.53 L160.42 724.82 L160.70 724.08 L160.98 723.33 L161.26 722.59 L161.54 721.78 L161.82 720.88 L162.10 719.98 L162.38 719.12 L162.67 718.36 L162.95 717.72 L163.23 717.06 L163.51 716.43 L163.79 715.87 L164.07 715.45 L164.35 715.22 L164.63 715.23 L164.91 715.43 L165.19 715.75 L165.47 716.16 L165.76 716.61 L166.04 717.06 L166.32 717.50 L166.60 718.02 L166.88 718.60 L167.16 719.22 L167.44 719.83 L167.72 720.40 L168.00 720.90 L168.28 721.29 L168.56 721.62 L168.84 721.95 L169.13 722.26 L169.41 722.56 L169.69 722.84 L169.97 723.07 L170.25 723.26 L170.53 723.40 L170.81 723.48 L171.09 723.49 L171.37 723.39 L171.65 723.21 L171.93 722.97 L172.22 722.67 L172.50 722.35 L172.78 722.01 L173.06 721.65 L173.34 721.19 L173.62 720.64 L173.90 720.04 L174.18 719.41 L174.46 718.77 L174.74 718.15 L175.02 717.52 L175.31 716.85 L175.59 716.17 L175.87 715.49 L176.15 714.83 L176.43 714.21 L176.71 713.61 L176.99 713.02 L177.27 712.45 L177.55 711.89 L177.83 711.35 L178.11 710.84 L178.39 710.37 L178.68 709.92 L178.96 709.45 L179.24 708.93 L179.52 708.35 L179.80 707.74 L180.08 707.07 L180.36 706.35 L180.64 705.56 L180.92 704.68 L181.20 703.67 L181.48 702.55 L181.77 701.36 L182.05 700.15 L182.33 698.96 L182.61 697.76 L182.89 696.50 L183.17 695.23 L183.45 693.98 L183.73 692.79 L184.01 691.68 L184.29 690.56 L184.57 689.47 L184.85 688.48 L185.14 687.64 L185.42 686.96 L185.70 686.29 L185.98 685.71 L186.26 685.32 L186.54 685.22 L186.82 685.43 L187.10 685.87 L187.38 686.42 L187.66 686.97 L187.94 687.48 L188.23 688.03 L188.51 688.61 L188.79 689.23 L189.07 689.88 L189.35 690.55 L189.63 691.25 L189.91 691.97 L190.19 692.72 L190.47 693.53 L190.75 694.38 L191.03 695.27 L191.31 696.18 L191.60 697.10 L191.88 698.02 L192.16 698.93 L192.44 699.84 L192.72 700.76 L193.00 701.69 L193.28 702.64 L193.56 703.61 L193.84 704.61 L194.12 705.64 L194.40 706.73 L194.69 707.86 L194.97 709.01 L195.25 710.18 L195.53 711.33 L195.81 712.46 L196.09 713.63 L196.37 714.81 L196.65 715.97 L196.93 717.07 L197.21 718.09 L197.49 719.01 L197.78 719.89 L198.06 720.74 L198.34 721.53 L198.62 722.25 L198.90 722.91 L199.18 723.50 L199.46 724.05 L199.74 724.56 L200.02 725.03 L200.30 725.47 L200.58 725.88 L200.86 726.25 L201.15 726.61 L201.43 726.95 L201.71 727.27 L201.99 727.58 L202.27 727.88 L202.55 728.16 L202.83 728.42 L203.11 728.67 L203.39 728.90 L203.67 729.12 L203.95 729.33 L204.24 729.53 L204.52 729.72 L204.80 729.91 L205.08 730.09 L205.36 730.26 L205.64 730.42 L205.92 730.58 L206.20 730.73 L206.48 730.88 L206.76 731.01 L207.04 731.14 L207.32 731.27 L207.61 731.38 L207.89 731.49 L208.17 731.60 L208.45 731.70 L208.73 731.80 L209.01 731.90 L209.29 732.00 L209.57 732.09 L209.85 732.18 L210.13 732.26 L210.41 732.34 L210.70 732.42 L210.98 732.50 L211.26 732.57 L211.54 732.64 L211.82 732.71 L212.10 732.77 L212.38 732.83 L212.66 732.89 L212.94 732.95 L213.22 733.00 L213.50 733.06 L213.78 733.11 L214.07 733.17 L214.35 733.22 L214.63 733.27 L214.91 733.32 L215.19 733.37 L215.47 733.42 L215.75 733.46 L216.03 733.50 L216.31 733.54 L216.59 733.57 L216.87 733.61 L217.16 733.64 L217.44 733.66 L217.72 733.68 L218.00 733.70 L218.28 733.71 L218.56 733.73 L218.84 733.74 L219.12 733.75 L219.40 733.77 L219.68 733.78 L219.96 733.79 L220.25 733.80 L220.53 733.81 L220.81 733.82 L221.09 733.83 L221.37 733.84 L221.65 733.85 L221.93 733.85 L222.21 733.86 L222.49 733.86 L222.77 733.87 L223.05 733.87 L223.33 733.87 L223.62 733.88 L223.90 733.88 L224.18 733.87 L224.46 733.84 L224.74 733.80 L225.02 733.75 L225.30 733.69 L225.58 733.62 L225.86 733.54 L226.14 733.46 L226.42 733.38 L226.71 733.30 L226.99 733.22 L227.27 733.15 L227.55 733.08 L227.83 733.01 L228.11 732.96 L228.39 732.92 L228.67 732.90 L228.95 732.89 L229.23 732.90 L229.51 732.94 L229.79 732.99 L230.08 733.06 L230.36 733.14 L230.64 733.23 L230.92 733.33 L231.20 733.42 L231.48 733.51 L231.76 733.59 L232.04 733.66 L232.32 733.71 L232.60 733.75 L232.88 733.76 L233.17 733.76 L233.45 733.76 L233.73 733.76 L234.01 733.76 L234.29 733.76 L234.57 733.76 L234.85 733.76 L235.13 733.76 L235.41 733.76 L235.69 733.76 L235.97 733.76 L236.25 733.76 L236.54 733.76 L236.82 733.76 L237.10 733.76 L237.38 733.76 L237.66 733.76 L237.94 733.76 L238.22 733.76 L238.50 733.76 L238.78 733.75 L239.06 733.73 L239.34 733.70 L239.63 733.65 L239.91 733.59 L240.19 733.51 L240.47 733.43 L240.75 733.34 L241.03 733.23 L241.31 733.12 L241.59 733.00 L241.87 732.87 L242.15 732.74 L242.43 732.60 L242.72 732.41 L243.00 732.12 L243.28 731.77 L243.56 731.38 L243.84 730.95 L244.12 730.51 L244.40 730.09 L244.68 729.70 L244.96 729.30 L245.24 728.84 L245.52 728.34 L245.80 727.84 L246.09 727.35 L246.37 726.90 L246.65 726.51 L246.93 726.20 L247.21 726.00 L247.49 725.93 L247.77 726.00 L248.05 726.20 L248.33 726.51 L248.61 726.90 L248.89 727.35 L249.18 727.84 L249.46 728.34 L249.74 728.84 L250.02 729.30 L250.30 729.70 L250.58 730.09 L250.86 730.51 L251.14 730.93 L251.42 731.35 L251.70 731.74 L251.98 732.09 L252.26 732.39 L252.55 732.60 L252.83 732.77 L253.11 732.92 L253.39 733.07 L253.67 733.21 L253.95 733.34 L254.23 733.46 L254.51 733.58 L254.79 733.68 L255.07 733.77 L255.35 733.85 L255.64 733.92 L255.92 733.97 L256.20 734.02 L256.48 734.05 L256.76 734.08 L257.04 734.10 L257.32 734.13 L257.60 734.15 L257.88 734.17 L258.16 734.19 L258.44 734.21 L258.72 734.23 L259.01 734.25 L259.29 734.26 L259.57 734.28 L259.85 734.29 L260.13 734.30 L260.41 734.31 L260.69 734.32 L260.97 734.33 L261.25 734.33 L261.53 734.34 L261.81 734.34 L262.10 734.34 L262.38 734.33 L262.66 734.29 L262.94 734.24 L263.22 734.17 L263.50 734.08 L263.78 733.98 L264.06 733.87 L264.34 733.74 L264.62 733.61 L264.90 733.47 L265.19 733.28 L265.47 733.02 L265.75 732.69 L266.03 732.33 L266.31 731.95 L266.59 731.57 L266.87 731.22 L267.15 730.86 L267.43 730.43 L267.71 729.99 L267.99 729.57 L268.27 729.24 L268.56 729.04 L268.84 729.02 L269.12 729.18 L269.40 729.49 L269.68 729.88 L269.96 730.32 L270.24 730.76 L270.52 731.15 L270.80 731.53 L271.08 731.95 L271.36 732.39 L271.65 732.82 L271.93 733.20 L272.21 733.52 L272.49 733.73 L272.77 733.86 L273.05 733.98 L273.33 734.08 L273.61 734.18 L273.89 734.28 L274.17 734.36 L274.45 734.44 L274.73 734.51 L275.02 734.57 L275.30 734.62 L275.58 734.67 L275.86 734.71 L276.14 734.75 L276.42 734.78 L276.70 734.80 L276.98 734.83 L277.26 734.85 L277.54 734.87 L277.82 734.89 L278.11 734.91 L278.39 734.92 L278.67 734.94 L278.95 734.96 L279.23 734.98 L279.51 734.99 L279.79 735.01 L280.07 735.02 L280.35 735.04 L280.63 735.05 L280.91 735.07 L281.19 735.08 L281.48 735.09 L281.76 735.10 L282.04 735.12 L282.32 735.13 L282.60 735.14 L282.88 735.15 L283.16 735.15 L283.44 735.16 L283.72 735.17 L284.00 735.18 L284.28 735.18 L284.57 735.19 L284.85 735.19 L285.13 735.20 L285.41 735.20 L285.69 735.20 L285.97 735.21 L286.25 735.21 L286.53 735.21 L286.81 735.21 L287.09 735.21 L287.37 735.21 L287.66 735.21 L287.94 735.21 L288.22 735.21 L288.50 735.21 L288.78 735.21 L289.06 735.21 L289.34 735.21 L289.62 735.21 L289.90 735.21 L290.18 735.21 L290.46 735.21 L290.74 735.21 L291.03 735.21 L291.31 735.21 L291.59 735.21 L291.87 735.21 L292.15 735.21 L292.43 735.21 L292.71 735.21 L292.99 735.21 L293.27 735.21 L293.55 735.21 L293.83 735.20 L294.12 735.18 L294.40 735.15 L294.68 735.10 L294.96 735.05 L295.24 734.99 L295.52 734.93 L295.80 734.86 L296.08 734.80 L296.36 734.73 L296.64 734.68 L296.92 734.62 L297.20 734.58 L297.49 734.54 L297.77 734.52 L298.05 734.51 L298.33 734.52 L298.61 734.55 L298.89 734.58 L299.17 734.63 L299.45 734.69 L299.73 734.75 L300.01 734.82 L300.29 734.89 L300.58 734.97 L300.86 735.04 L301.14 735.11 L301.42 735.17 L301.70 735.22 L301.98 735.27 L302.26 735.31 L302.54 735.33 L302.82 735.34 L303.10 735.35 L303.38 735.36 L303.66 735.37 L303.95 735.39 L304.23 735.40 L304.51 735.41 L304.79 735.41 L305.07 735.42 L305.35 735.43 L305.63 735.44 L305.91 735.45 L306.19 735.45 L306.47 735.46 L306.75 735.47 L307.04 735.47 L307.32 735.48 L307.60 735.49 L307.88 735.49 L308.16 735.50 L308.44 735.50 L308.72 735.51 L309.00 735.51 L309.28 735.52 L309.56 735.52 L309.84 735.53 L310.13 735.53 L310.41 735.54 L310.69 735.54 L310.97 735.54 L311.25 735.55 L311.53 735.55 L311.81 735.56 L312.09 735.56 L312.37 735.57 L312.65 735.57 L312.93 735.58 L313.21 735.58 L313.50 735.59 L313.78 735.59 L314.06 735.60 L314.34 735.60 L314.62 735.61 L314.90 735.62" stroke="#0000ff"/>
<path d="M90.20 663.35 L90.48 663.35 L90.76 663.35 L91.04 663.34 L91.32 663.34 L91.60 663.33 L91.89 663.33 L92.17 663.33 L92.45 663.32 L92.73 663.32 L93.01 663.31 L93.29 663.31 L93.57 663.31 L93.85 663.30 L94.13 663.30 L94.41 663.29 L94.69 663.29 L94.97 663.29 L95.26 663.28 L95.54 663.28 L95.82 663.27 L96.10 663.27 L96.38 663.26 L96.66 663.26 L96.94 663.25 L97.22 663.25 L97.50 663.24 L97.78 663.24 L98.06 663.23 L98.35 663.23 L98.63 663.22 L98.91 663.22 L99.19 663.21 L99.47 663.21 L99.75 663.20 L100.03 663.20 L100.31 663.19 L100.59 663.18 L100.87 663.18 L101.15 663.17 L101.44 663.17 L101.72 663.16 L102.00 663.16 L102.28 663.15 L102.56 663.14 L102.84 663.14 L103.12 663.13 L103.40 663.12 L103.68 663.12 L103.96 663.11 L104.24 663.11 L104.52 663.10 L104.81 663.09 L105.09 663.08 L105.37 663.08 L105.65 663.07 L105.93 663.06 L106.21 663.06 L106.49 663.05 L106.77 663.04 L107.05 663.03 L107.33 663.03 L107.61 663.02 L107.90 663.01 L108.18 663.00 L108.46 662.99 L108.74 662.99 L109.02 662.98 L109.30 662.97 L109.58 662.96 L109.86 662.95 L110.14 662.94 L110.42 662.93 L110.70 662.92 L110.98 662.91 L111.27 662.90 L111.55 662.89 L111.83 662.88 L112.11 662.87 L112.39 662.86 L112.67 662.85 L112.95 662.84 L113.23 662.83 L113.51 662.82 L113.79 662.81 L114.07 662.80 L114.36 662.79 L114.64 662.78 L114.92 662.76 L115.20 662.75 L115.48 662.74 L115.76 662.73 L116.04 662.71 L116.32 662.70 L116.60 662.69 L116.88 662.68 L117.16 662.66 L117.44 662.65 L117.73 662.63 L118.01 662.62 L118.29 662.60 L118.57 662.59 L118.85 662.57 L119.13 662.56 L119.41 662.54 L119.69 662.52 L119.97 662.51 L120.25 662.49 L120.53 662.47 L120.82 662.45 L121.10 662.44 L121.38 662.42 L121.66 662.40 L121.94 662.38 L122.22 662.36 L122.50 662.34 L122.78 662.31 L123.06 662.29 L123.34 662.27 L123.62 662.25 L123.91 662.22 L124.19 662.20 L124.47 662.17 L124.75 662.15 L125.03 662.12 L125.31 662.09 L125.59 662.06 L125.87 662.03 L126.15 662.00 L126.43 661.97 L126.71 661.94 L126.99 661.90 L127.28 661.87 L127.56 661.83 L127.84 661.79 L128.12 661.75 L128.40 661.70 L128.68 661.66 L128.96 661.61 L129.24 661.56 L129.52 661.51 L129.80 661.45 L130.08 661.40 L130.37 661.33 L130.65 661.27 L130.93 661.19 L131.21 661.12 L131.49 661.04 L131.77 660.95 L132.05 660.85 L132.33 660.75 L132.61 660.64 L132.89 660.51 L133.17 660.38 L133.45 660.23 L133.74 660.07 L134.02 659.89 L134.30 659.70 L134.58 659.48 L134.86 659.25 L135.14 658.99 L135.42 658.71 L135.70 658.40 L135.98 658.09 L136.26 657.76 L136.54 657.43 L136.83 657.11 L137.11 656.82 L137.39 656.58 L137.67 656.41 L137.95 656.32 L138.23 656.31 L138.51 656.38 L138.79 656.52 L139.07 656.71 L139.35 656.92 L139.63 657.15 L139.91 657.37 L140.20 657.59 L140.48 657.78 L140.76 657.95 L141.04 658.10 L141.32 658.22 L141.60 658.32 L141.88 658.40 L142.16 658.46 L142.44 658.49 L142.72 658.51 L143.00 658.51 L143.29 658.50 L143.57 658.47 L143.85 658.42 L144.13 658.36 L144.41 658.28 L144.69 658.19 L144.97 658.08 L145.25 657.96 L145.53 657.83 L145.81 657.67 L146.09 657.50 L146.38 657.32 L146.66 657.11 L146.94 656.89 L147.22 656.65 L147.50 656.39 L147.78 656.12 L148.06 655.83 L148.34 655.54 L148.62 655.24 L148.90 654.95 L149.18 654.66 L149.46 654.40 L149.75 654.17 L150.03 653.98 L150.31 653.83 L150.59 653.72 L150.87 653.65 L151.15 653.62 L151.43 653.60 L151.71 653.61 L151.99 653.61 L152.27 653.60 L152.55 653.58 L152.84 653.52 L153.12 653.44 L153.40 653.32 L153.68 653.15 L153.96 652.94 L154.24 652.67 L154.52 652.36 L154.80 651.99 L155.08 651.56 L155.36 651.08 L155.64 650.55 L155.92 649.96 L156.21 649.32 L156.49 648.65 L156.77 647.94 L157.05 647.22 L157.33 646.49 L157.61 645.78 L157.89 645.08 L158.17 644.41 L158.45 643.76 L158.73 643.12 L159.01 642.49 L159.30 641.86 L159.58 641.22 L159.86 640.57 L160.14 639.91 L160.42 639.25 L160.70 638.59 L160.98 637.95 L161.26 637.33 L161.54 636.75 L161.82 636.22 L162.10 635.75 L162.38 635.36 L162.67 635.06 L162.95 634.86 L163.23 634.77 L163.51 634.79 L163.79 634.93 L164.07 635.16 L164.35 635.49 L164.63 635.91 L164.91 636.41 L165.19 637.00 L165.47 637.65 L165.76 638.36 L166.04 639.12 L166.32 639.92 L166.60 640.75 L166.88 641.60 L167.16 642.46 L167.44 643.33 L167.72 644.21 L168.00 645.07 L168.28 645.93 L168.56 646.77 L168.84 647.59 L169.13 648.40 L169.41 649.17 L169.69 649.92 L169.97 650.64 L170.25 651.33 L170.53 651.99 L170.81 652.61 L171.09 653.21 L171.37 653.77 L171.65 654.30 L171.93 654.80 L172.22 655.27 L172.50 655.71 L172.78 656.12 L173.06 656.50 L173.34 656.86 L173.62 657.18 L173.90 657.49 L174.18 657.77 L174.46 658.03 L174.74 658.27 L175.02 658.49 L175.31 658.70 L175.59 658.88 L175.87 659.06 L176.15 659.21 L176.43 659.36 L176.71 659.49 L176.99 659.61 L177.27 659.73 L177.55 659.83 L177.83 659.93 L178.11 660.01 L178.39 660.09 L178.68 660.17 L178.96 660.23 L179.24 660.30 L179.52 660.36 L179.80 660.41 L180.08 660.46 L180.36 660.50 L180.64 660.55 L180.92 660.58 L181.20 660.62 L181.48 660.65 L181.77 660.68 L182.05 660.71 L182.33 660.73 L182.61 660.76 L182.89 660.78 L183.17 660.80 L183.45 660.81 L183.73 660.83 L184.01 660.84 L184.29 660.85 L184.57 660.86 L184.85 660.86 L185.14 660.87 L185.42 660.87 L185.70 660.87 L185.98 660.87 L186.26 660.87 L186.54 660.87 L186.82 660.86 L187.10 660.85 L187.38 660.85 L187.66 660.83 L187.94 660.82 L188.23 660.81 L188.51 660.79 L188.79 660.77 L189.07 660.76 L189.35 660.73 L189.63 660.71 L189.91 660.68 L190.19 660.66 L190.47 660.63 L190.75 660.60 L191.03 660.56 L191.31 660.53 L191.60 660.49 L191.88 660.45 L192.16 660.40 L192.44 660.35 L192.72 660.30 L193.00 660.25 L193.28 660.19 L193.56 660.13 L193.84 660.07 L194.12 660.00 L194.40 659.93 L194.69 659.86 L194.97 659.78 L195.25 659.69 L195.53 659.60 L195.81 659.50 L196.09 659.40 L196.37 659.29 L196.65 659.17 L196.93 659.04 L197.21 658.90 L197.49 658.75 L197.78 658.59 L198.06 658.41 L198.34 658.22 L198.62 658.01 L198.90 657.78 L199.18 657.52 L199.46 657.23 L199.74 656.91 L200.02 656.55 L200.30 656.14 L200.58 655.68 L200.86 655.16 L201.15 654.57 L201.43 653.91 L201.71 653.16 L201.99 652.31 L202.27 651.36 L202.55 650.30 L202.83 649.11 L203.11 647.79 L203.39 646.33 L203.67 644.73 L203.95 642.98 L204.24 641.09 L204.52 639.04 L204.80 636.87 L205.08 634.57 L205.36 632.16 L205.64 629.68 L205.92 627.17 L206.20 624.66 L206.48 622.24 L206.76 619.97 L207.04 617.93 L207.32 616.22 L207.61 614.93 L207.89 614.12 L208.17 613.85 L208.45 614.13 L208.73 614.94 L209.01 616.25 L209.29 617.96 L209.57 620.01 L209.85 622.29 L210.13 624.72 L210.41 627.23 L210.70 629.76 L210.98 632.25 L211.26 634.66 L211.54 636.97 L211.82 639.15 L212.10 641.20 L212.38 643.11 L212.66 644.87 L212.94 646.48 L213.22 647.95 L213.50 649.27 L213.78 650.47 L214.07 651.54 L214.35 652.50 L214.63 653.36 L214.91 654.11 L215.19 654.79 L215.47 655.38 L215.75 655.91 L216.03 656.38 L216.31 656.80 L216.59 657.17 L216.87 657.50 L217.16 657.80 L217.44 658.07 L217.72 658.31 L218.00 658.54 L218.28 658.74 L218.56 658.92 L218.84 659.10 L219.12 659.26 L219.40 659.40 L219.68 659.54 L219.96 659.67 L220.25 659.80 L220.53 659.91 L220.81 660.02 L221.09 660.12 L221.37 660.22 L221.65 660.31 L221.93 660.40 L222.21 660.48 L222.49 660.56 L222.77 660.64 L223.05 660.71 L223.33 660.78 L223.62 660.84 L223.90 660.91 L224.18 660.97 L224.46 661.02 L224.74 661.08 L225.02 661.13 L225.30 661.18 L225.58 661.23 L225.86 661.27 L226.14 661.32 L226.42 661.36 L226.71 661.40 L226.99 661.43 L227.27 661.47 L227.55 661.50 L227.83 661.54 L228.11 661.57 L228.39 661.59 L228.67 661.62 L228.95 661.64 L229.23 661.67 L229.51 661.69 L229.79 661.71 L230.08 661.72 L230.36 661.74 L230.64 661.75 L230.92 661.76 L231.20 661.76 L231.48 661.77 L231.76 661.77 L232.04 661.77 L232.32 661.76 L232.60 661.76 L232.88 661.74 L233.17 661.73 L233.45 661.71 L233.73 661.69 L234.01 661.66 L234.29 661.63 L234.57 661.59 L234.85 661.55 L235.13 661.51 L235.41 661.46 L235.69 661.42 L235.97 661.37 L236.25 661.32 L236.54 661.28 L236.82 661.24 L237.10 661.21 L237.38 661.20 L237.66 661.19 L237.94 661.20 L238.22 661.23 L238.50 661.26 L238.78 661.31 L239.06 661.37 L239.34 661.44 L239.63 661.52 L239.91 661.60 L240.19 661.68 L240.47 661.76 L240.75 661.84 L241.03 661.92 L241.31 661.99 L241.59 662.06 L241.87 662.13 L242.15 662.19 L242.43 662.25 L242.72 662.30 L243.00 662.35 L243.28 662.40 L243.56 662.44 L243.84 662.48 L244.12 662.52 L244.40 662.56 L244.68 662.59 L244.96 662.63 L245.24 662.66 L245.52 662.68 L245.80 662.71 L246.09 662.74 L246.37 662.76 L246.65 662.78 L246.93 662.80 L247.21 662.83 L247.49 662.84 L247.77 662.86 L248.05 662.88 L248.33 662.90 L248.61 662.91 L248.89 662.93 L249.18 662.94 L249.46 662.96 L249.74 662.97 L250.02 662.99 L250.30 663.00 L250.58 663.01 L250.86 663.02 L251.14 663.03 L251.42 663.04 L251.70 663.05 L251.98 663.06 L252.26 663.07 L252.55 663.08 L252.83 663.09 L253.11 663.10 L253.39 663.11 L253.67 663.12 L253.95 663.13 L254.23 663.13 L254.51 663.14 L254.79 663.15 L255.07 663.16 L255.35 663.16 L255.64 663.17 L255.92 663.18 L256.20 663.18 L256.48 663.19 L256.76 663.19 L257.04 663.20 L257.32 663.20 L257.60 663.21 L257.88 663.21 L258.16 663.22 L258.44 663.22 L258.72 663.23 L259.01 663.23 L259.29 663.23 L259.57 663.24 L259.85 663.24 L260.13 663.24 L260.41 663.25 L260.69 663.25 L260.97 663.25 L261.25 663.25 L261.53 663.25 L261.81 663.25 L262.10 663.25 L262.38 663.25 L262.66 663.25 L262.94 663.25 L263.22 663.25 L263.50 663.25 L263.78 663.25 L264.06 663.25 L264.34 663.24 L264.62 663.24 L264.90 663.24 L265.19 663.23 L265.47 663.22 L265.75 663.22 L266.03 663.21 L266.31 663.20 L266.59 663.19 L266.87 663.18 L267.15 663.17 L267.43 663.16 L267.71 663.14 L267.99 663.13 L268.27 663.11 L268.56 663.09 L268.84 663.08 L269.12 663.06 L269.40 663.04 L269.68 663.02 L269.96 663.00 L270.24 662.98 L270.52 662.96 L270.80 662.94 L271.08 662.93 L271.36 662.91 L271.65 662.91 L271.93 662.90 L272.21 662.90 L272.49 662.91 L272.77 662.92 L273.05 662.93 L273.33 662.95 L273.61 662.97 L273.89 662.99 L274.17 663.01 L274.45 663.04 L274.73 663.07 L275.02 663.09 L275.30 663.12 L275.58 663.14 L275.86 663.17 L276.14 663.19 L276.42 663.21 L276.70 663.23 L276.98 663.25 L277.26 663.27 L277.54 663.29 L277.82 663.30 L278.11 663.32 L278.39 663.33 L278.67 663.35 L278.95 663.36 L279.23 663.37 L279.51 663.38 L279.79 663.39 L280.07 663.40 L280.35 663.41 L280.63 663.42 L280.91 663.42 L281.19 663.43 L281.48 663.44 L281.76 663.45 L282.04 663.45 L282.32 663.46 L282.60 663.46 L282.88 663.47 L283.16 663.47 L283.44 663.48 L283.72 663.48 L284.00 663.48 L284.28 663.49 L284.57 663.49 L284.85 663.49 L285.13 663.50 L285.41 663.50 L285.69 663.50 L285.97 663.50 L286.25 663.51 L286.53 663.51 L286.81 663.51 L287.09 663.51 L287.37 663.51 L287.66 663.51 L287.94 663.51 L288.22 663.51 L288.50 663.51 L288.78 663.51 L289.06 663.51 L289.34 663.51 L289.62 663.51 L289.90 663.51 L290.18 663.50 L290.46 663.50 L290.74 663.50 L291.03 663.49 L291.31 663.49 L291.59 663.48 L291.87 663.48 L292.15 663.47 L292.43 663.46 L292.71 663.45 L292.99 663.44 L293.27 663.43 L293.55 663.42 L293.83 663.41 L294.12 663.39 L294.40 663.37 L294.68 663.35 L294.96 663.33 L295.24 663.31 L295.52 663.28 L295.80 663.25 L296.08 663.22 L296.36 663.19 L296.64 663.15 L296.92 663.12 L297.20 663.08 L297.49 663.05 L297.77 663.01 L298.05 662.99 L298.33 662.97 L298.61 662.96 L298.89 662.96 L299.17 662.97 L299.45 662.98 L299.73 663.01 L300.01 663.04 L300.29 663.07 L300.58 663.11 L300.86 663.15 L301.14 663.19 L301.42 663.23 L301.70 663.26 L301.98 663.30 L302.26 663.33 L302.54 663.36 L302.82 663.38 L303.10 663.41 L303.38 663.43 L303.66 663.45 L303.95 663.47 L304.23 663.48 L304.51 663.50 L304.79 663.51 L305.07 663.52 L305.35 663.53 L305.63 663.55 L305.91 663.56 L306.19 663.56 L306.47 663.57 L306.75 663.58 L307.04 663.59 L307.32 663.59 L307.60 663.60 L307.88 663.61 L308.16 663.61 L308.44 663.62 L308.72 663.62 L309.00 663.63 L309.28 663.63 L309.56 663.63 L309.84 663.64 L310.13 663.64 L310.41 663.65 L310.69 663.65 L310.97 663.65 L311.25 663.65 L311.53 663.66 L311.81 663.66 L312.09 663.66 L312.37 663.67 L312.65 663.67 L312.93 663.67 L313.21 663.67 L313.50 663.67 L313.78 663.68 L314.06 663.68 L314.34 663.68 L314.62 663.68 L314.90 663.68" stroke="#00f200"/>
<path d="M90.20 589.85 L90.48 589.85 L90.76 589.85 L91.04 589.84 L91.32 589.84 L91.60 589.83 L91.89 589.83 L92.17 589.82 L92.45 589.82 L92.73 589.81 L93.01 589.81 L93.29 589.80 L93.57 589.80 L93.85 589.79 L94.13 589.79 L94.41 589.78 L94.69 589.78 L94.97 589.77 L95.26 589.76 L95.54 589.76 L95.82 589.75 L96.10 589.75 L96.38 589.74 L96.66 589.74 L96.94 589.73 L97.22 589.72 L97.50 589.72 L97.78 589.71 L98.06 589.70 L98.35 589.70 L98.63 589.69 L98.91 589.68 L99.19 589.68 L99.47 589.67 L99.75 589.66 L100.03 589.66 L100.31 589.65 L100.59 589.64 L100.87 589.64 L101.15 589.63 L101.44 589.62 L101.72 589.61 L102.00 589.60 L102.28 589.60 L102.56 589.59 L102.84 589.58 L103.12 589.57 L103.40 589.56 L103.68 589.55 L103.96 589.55 L104.24 589.54 L104.52 589.53 L104.81 589.52 L105.09 589.51 L105.37 589.50 L105.65 589.49 L105.93 589.48 L106.21 589.47 L106.49 589.46 L106.77 589.45 L107.05 589.43 L107.33 589.42 L107.61 589.41 L107.90 589.40 L108.18 589.39 L108.46 589.37 L108.74 589.36 L109.02 589.35 L109.30 589.33 L109.58 589.32 L109.86 589.30 L110.14 589.29 L110.42 589.27 L110.70 589.25 L110.98 589.23 L111.27 589.22 L111.55 589.20 L111.83 589.18 L112.11 589.15 L112.39 589.13 L112.67 589.11 L112.95 589.08 L113.23 589.05 L113.51 589.02 L113.79 588.99 L114.07 588.96 L114.36 588.92 L114.64 588.88 L114.92 588.84 L115.20 588.79 L115.48 588.74 L115.76 588.69 L116.04 588.63 L116.32 588.57 L116.60 588.51 L116.88 588.44 L117.16 588.38 L117.44 588.32 L117.73 588.27 L118.01 588.22 L118.29 588.19 L118.57 588.18 L118.85 588.17 L119.13 588.18 L119.41 588.19 L119.69 588.21 L119.97 588.22 L120.25 588.24 L120.53 588.25 L120.82 588.26 L121.10 588.26 L121.38 588.26 L121.66 588.25 L121.94 588.24 L122.22 588.22 L122.50 588.19 L122.78 588.16 L123.06 588.13 L123.34 588.09 L123.62 588.05 L123.91 588.00 L124.19 587.94 L124.47 587.88 L124.75 587.82 L125.03 587.75 L125.31 587.67 L125.59 587.59 L125.87 587.52 L126.15 587.44 L126.43 587.37 L126.71 587.31 L126.99 587.26 L127.28 587.22 L127.56 587.19 L127.84 587.18 L128.12 587.17 L128.40 587.16 L128.68 587.15 L128.96 587.15 L129.24 587.13 L129.52 587.12 L129.80 587.10 L130.08 587.07 L130.37 587.04 L130.65 587.00 L130.93 586.96 L131.21 586.91 L131.49 586.86 L131.77 586.81 L132.05 586.75 L132.33 586.68 L132.61 586.62 L132.89 586.55 L133.17 586.47 L133.45 586.40 L133.74 586.32 L134.02 586.24 L134.30 586.16 L134.58 586.07 L134.86 585.99 L135.14 585.90 L135.42 585.81 L135.70 585.72 L135.98 585.63 L136.26 585.53 L136.54 585.44 L136.83 585.35 L137.11 585.26 L137.39 585.17 L137.67 585.08 L137.95 585.00 L138.23 584.92 L138.51 584.84 L138.79 584.76 L139.07 584.69 L139.35 584.62 L139.63 584.56 L139.91 584.50 L140.20 584.45 L140.48 584.41 L140.76 584.37 L141.04 584.34 L141.32 584.32 L141.60 584.31 L141.88 584.30 L142.16 584.33 L142.44 584.40 L142.72 584.52 L143.00 584.68 L143.29 584.87 L143.57 585.08 L143.85 585.31 L144.13 585.54 L144.41 585.77 L144.69 586.00 L144.97 586.22 L145.25 586.44 L145.53 586.63 L145.81 586.82 L146.09 586.99 L146.38 587.15 L146.66 587.30 L146.94 587.44 L147.22 587.56 L147.50 587.68 L147.78 587.78 L148.06 587.88 L148.34 587.97 L148.62 588.05 L148.90 588.12 L149.18 588.19 L149.46 588.26 L149.75 588.31 L150.03 588.37 L150.31 588.42 L150.59 588.46 L150.87 588.50 L151.15 588.54 L151.43 588.58 L151.71 588.61 L151.99 588.64 L152.27 588.67 L152.55 588.70 L152.84 588.72 L153.12 588.75 L153.40 588.77 L153.68 588.79 L153.96 588.81 L154.24 588.82 L154.52 588.84 L154.80 588.85 L155.08 588.87 L155.36 588.88 L155.64 588.89 L155.92 588.91 L156.21 588.92 L156.49 588.93 L156.77 588.94 L157.05 588.94 L157.33 588.95 L157.61 588.96 L157.89 588.97 L158.17 588.98 L158.45 588.98 L158.73 588.99 L159.01 588.99 L159.30 589.00 L159.58 589.00 L159.86 589.01 L160.14 589.01 L160.42 589.02 L160.70 589.02 L160.98 589.02 L161.26 589.03 L161.54 589.03 L161.82 589.03 L162.10 589.04 L162.38 589.04 L162.67 589.04 L162.95 589.04 L163.23 589.04 L163.51 589.05 L163.79 589.05 L164.07 589.05 L164.35 589.05 L164.63 589.05 L164.91 589.05 L165.19 589.05 L165.47 589.05 L165.76 589.06 L166.04 589.06 L166.32 589.06 L166.60 589.06 L166.88 589.06 L167.16 589.06 L167.44 589.06 L167.72 589.06 L168.00 589.06 L168.28 589.06 L168.56 589.06 L168.84 589.06 L169.13 589.06 L169.41 589.06 L169.69 589.06 L169.97 589.06 L170.25 589.06 L170.53 589.05 L170.81 589.05 L171.09 589.05 L171.37 589.05 L171.65 589.05 L171.93 589.05 L172.22 589.05 L172.50 589.05 L172.78 589.05 L173.06 589.05 L173.34 589.04 L173.62 589.04 L173.90 589.04 L174.18 589.04 L174.46 589.04 L174.74 589.04 L175.02 589.04 L175.31 589.03 L175.59 589.03 L175.87 589.03 L176.15 589.03 L176.43 589.03 L176.71 589.02 L176.99 589.02 L177.27 589.02 L177.55 589.02 L177.83 589.02 L178.11 589.01 L178.39 589.01 L178.68 589.01 L178.96 589.01 L179.24 589.00 L179.52 589.00 L179.80 589.00 L180.08 588.99 L180.36 588.99 L180.64 588.99 L180.92 588.98 L181.20 588.98 L181.48 588.98 L181.77 588.97 L182.05 588.97 L182.33 588.97 L182.61 588.96 L182.89 588.96 L183.17 588.95 L183.45 588.95 L183.73 588.95 L184.01 588.94 L184.29 588.94 L184.57 588.93 L184.85 588.93 L185.14 588.92 L185.42 588.92 L185.70 588.91 L185.98 588.90 L186.26 588.90 L186.54 588.89 L186.82 588.89 L187.10 588.88 L187.38 588.87 L187.66 588.87 L187.94 588.86 L188.23 588.85 L188.51 588.84 L188.79 588.83 L189.07 588.83 L189.35 588.82 L189.63 588.81 L189.91 588.80 L190.19 588.79 L190.47 588.78 L190.75 588.77 L191.03 588.76 L191.31 588.75 L191.60 588.74 L191.88 588.72 L192.16 588.71 L192.44 588.70 L192.72 588.69 L193.00 588.67 L193.28 588.66 L193.56 588.64 L193.84 588.63 L194.12 588.61 L194.40 588.59 L194.69 588.58 L194.97 588.56 L195.25 588.54 L195.53 588.52 L195.81 588.50 L196.09 588.48 L196.37 588.46 L196.65 588.44 L196.93 588.41 L197.21 588.39 L197.49 588.36 L197.78 588.33 L198.06 588.31 L198.34 588.28 L198.62 588.25 L198.90 588.21 L199.18 588.18 L199.46 588.14 L199.74 588.11 L200.02 588.07 L200.30 588.03 L200.58 587.98 L200.86 587.94 L201.15 587.89 L201.43 587.84 L201.71 587.79 L201.99 587.73 L202.27 587.67 L202.55 587.61 L202.83 587.55 L203.11 587.49 L203.39 587.42 L203.67 587.36 L203.95 587.29 L204.24 587.23 L204.52 587.17 L204.80 587.11 L205.08 587.05 L205.36 587.00 L205.64 586.95 L205.92 586.90 L206.20 586.87 L206.48 586.83 L206.76 586.81 L207.04 586.78 L207.32 586.76 L207.61 586.74 L207.89 586.72 L208.17 586.69 L208.45 586.67 L208.73 586.64 L209.01 586.61 L209.29 586.58 L209.57 586.54 L209.85 586.49 L210.13 586.43 L210.41 586.37 L210.70 586.30 L210.98 586.23 L211.26 586.14 L211.54 586.04 L211.82 585.93 L212.10 585.81 L212.38 585.68 L212.66 585.54 L212.94 585.38 L213.22 585.20 L213.50 585.01 L213.78 584.81 L214.07 584.58 L214.35 584.34 L214.63 584.09 L214.91 583.82 L215.19 583.54 L215.47 583.26 L215.75 582.99 L216.03 582.72 L216.31 582.48 L216.59 582.26 L216.87 582.10 L217.16 581.98 L217.44 581.92 L217.72 581.93 L218.00 582.00 L218.28 582.12 L218.56 582.29 L218.84 582.50 L219.12 582.73 L219.40 582.98 L219.68 583.24 L219.96 583.49 L220.25 583.74 L220.53 583.98 L220.81 584.20 L221.09 584.41 L221.37 584.60 L221.65 584.77 L221.93 584.93 L222.21 585.07 L222.49 585.20 L222.77 585.32 L223.05 585.43 L223.33 585.52 L223.62 585.60 L223.90 585.67 L224.18 585.74 L224.46 585.80 L224.74 585.84 L225.02 585.89 L225.30 585.92 L225.58 585.95 L225.86 585.97 L226.14 585.99 L226.42 586.00 L226.71 586.01 L226.99 586.01 L227.27 586.01 L227.55 586.00 L227.83 585.98 L228.11 585.95 L228.39 585.92 L228.67 585.88 L228.95 585.83 L229.23 585.77 L229.51 585.69 L229.79 585.60 L230.08 585.50 L230.36 585.37 L230.64 585.23 L230.92 585.06 L231.20 584.86 L231.48 584.64 L231.76 584.38 L232.04 584.08 L232.32 583.75 L232.60 583.37 L232.88 582.95 L233.17 582.48 L233.45 581.96 L233.73 581.39 L234.01 580.78 L234.29 580.11 L234.57 579.40 L234.85 578.64 L235.13 577.85 L235.41 577.03 L235.69 576.18 L235.97 575.31 L236.25 574.44 L236.54 573.59 L236.82 572.76 L237.10 571.97 L237.38 571.25 L237.66 570.60 L237.94 570.07 L238.22 569.65 L238.50 569.37 L238.78 569.23 L239.06 569.25 L239.34 569.41 L239.63 569.72 L239.91 570.15 L240.19 570.69 L240.47 571.32 L240.75 572.01 L241.03 572.76 L241.31 573.54 L241.59 574.33 L241.87 575.12 L242.15 575.90 L242.43 576.65 L242.72 577.37 L243.00 578.05 L243.28 578.68 L243.56 579.25 L243.84 579.77 L244.12 580.24 L244.40 580.64 L244.68 580.98 L244.96 581.26 L245.24 581.48 L245.52 581.63 L245.80 581.73 L246.09 581.75 L246.37 581.72 L246.65 581.61 L246.93 581.43 L247.21 581.18 L247.49 580.84 L247.77 580.41 L248.05 579.89 L248.33 579.25 L248.61 578.50 L248.89 577.61 L249.18 576.58 L249.46 575.39 L249.74 574.04 L250.02 572.50 L250.30 570.79 L250.58 568.88 L250.86 566.78 L251.14 564.49 L251.42 562.02 L251.70 559.39 L251.98 556.64 L252.26 553.80 L252.55 550.93 L252.83 548.11 L253.11 545.44 L253.39 543.04 L253.67 541.04 L253.95 539.55 L254.23 538.68 L254.51 538.49 L254.79 539.01 L255.07 540.20 L255.35 541.97 L255.64 544.21 L255.92 546.79 L256.20 549.58 L256.48 552.49 L256.76 555.42 L257.04 558.29 L257.32 561.06 L257.60 563.69 L257.88 566.16 L258.16 568.44 L258.44 570.54 L258.72 572.44 L259.01 574.16 L259.29 575.70 L259.57 577.07 L259.85 578.29 L260.13 579.36 L260.41 580.30 L260.69 581.13 L260.97 581.85 L261.25 582.48 L261.53 583.04 L261.81 583.52 L262.10 583.95 L262.38 584.32 L262.66 584.66 L262.94 584.96 L263.22 585.22 L263.50 585.46 L263.78 585.68 L264.06 585.88 L264.34 586.07 L264.62 586.24 L264.90 586.39 L265.19 586.54 L265.47 586.67 L265.75 586.80 L266.03 586.92 L266.31 587.03 L266.59 587.13 L266.87 587.23 L267.15 587.33 L267.43 587.41 L267.71 587.50 L267.99 587.58 L268.27 587.65 L268.56 587.73 L268.84 587.79 L269.12 587.86 L269.40 587.92 L269.68 587.98 L269.96 588.04 L270.24 588.09 L270.52 588.14 L270.80 588.19 L271.08 588.24 L271.36 588.29 L271.65 588.33 L271.93 588.37 L272.21 588.41 L272.49 588.45 L272.77 588.49 L273.05 588.53 L273.33 588.56 L273.61 588.60 L273.89 588.63 L274.17 588.66 L274.45 588.69 L274.73 588.72 L275.02 588.75 L275.30 588.78 L275.58 588.81 L275.86 588.83 L276.14 588.86 L276.42 588.88 L276.70 588.91 L276.98 588.93 L277.26 588.95 L277.54 588.97 L277.82 589.00 L278.11 589.02 L278.39 589.04 L278.67 589.06 L278.95 589.08 L279.23 589.09 L279.51 589.11 L279.79 589.13 L280.07 589.15 L280.35 589.17 L280.63 589.18 L280.91 589.20 L281.19 589.21 L281.48 589.23 L281.76 589.24 L282.04 589.26 L282.32 589.27 L282.60 589.29 L282.88 589.30 L283.16 589.31 L283.44 589.33 L283.72 589.34 L284.00 589.35 L284.28 589.36 L284.57 589.38 L284.85 589.39 L285.13 589.40 L285.41 589.41 L285.69 589.42 L285.97 589.43 L286.25 589.44 L286.53 589.45 L286.81 589.47 L287.09 589.48 L287.37 589.49 L287.66 589.49 L287.94 589.50 L288.22 589.51 L288.50 589.52 L288.78 589.53 L289.06 589.54 L289.34 589.55 L289.62 589.56 L289.90 589.57 L290.18 589.57 L290.46 589.58 L290.74 589.59 L291.03 589.60 L291.31 589.61 L291.59 589.61 L291.87 589.62 L292.15 589.63 L292.43 589.64 L292.71 589.64 L292.99 589.65 L293.27 589.66 L293.55 589.66 L293.83 589.67 L294.12 589.68 L294.40 589.68 L294.68 589.69 L294.96 589.70 L295.24 589.70 L295.52 589.71 L295.80 589.71 L296.08 589.72 L296.36 589.73 L296.64 589.73 L296.92 589.74 L297.20 589.74 L297.49 589.75 L297.77 589.75 L298.05 589.76 L298.33 589.76 L298.61 589.77 L298.89 589.77 L299.17 589.78 L299.45 589.78 L299.73 589.79 L300.01 589.79 L300.29 589.80 L300.58 589.80 L300.86 589.81 L301.14 589.81 L301.42 589.82 L301.70 589.82 L301.98 589.83 L302.26 589.83 L302.54 589.83 L302.82 589.84 L303.10 589.84 L303.38 589.85 L303.66 589.85 L303.95 589.85 L304.23 589.86 L304.51 589.86 L304.79 589.87 L305.07 589.87 L305.35 589.87 L305.63 589.88 L305.91 589.88 L306.19 589.88 L306.47 589.89 L306.75 589.89 L307.04 589.90 L307.32 589.90 L307.60 589.90 L307.88 589.91 L308.16 589.91 L308.44 589.91 L308.72 589.92 L309.00 589.92 L309.28 589.92 L309.56 589.92 L309.84 589.93 L310.13 589.93 L310.41 589.93 L310.69 589.94 L310.97 589.94 L311.25 589.94 L311.53 589.95 L311.81 589.95 L312.09 589.95 L312.37 589.95 L312.65 589.96 L312.93 589.96 L313.21 589.96 L313.50 589.96 L313.78 589.97 L314.06 589.97 L314.34 589.97 L314.62 589.97 L314.90 589.98" stroke="#000000"/>
</g>
<line x1="126.40" y1="542.00" x2="127.13" y2="577.20" stroke="#000" stroke-width="1.45"/>
<polygon points="127.32,586.50 124.01,576.27 130.21,576.14" fill="#000"/>
<line x1="111.80" y1="570.50" x2="113.62" y2="578.41" stroke="#000" stroke-width="1.45"/>
<polygon points="115.70,587.48 110.37,578.13 116.42,576.74" fill="#000"/>
<line x1="148.40" y1="553.00" x2="139.46" y2="575.02" stroke="#000" stroke-width="1.45"/>
<polygon points="135.96,583.63 136.96,572.92 142.71,575.26" fill="#000"/>
<line x1="157.30" y1="567.70" x2="149.25" y2="575.47" stroke="#000" stroke-width="1.45"/>
<polygon points="142.55,581.92 147.81,572.54 152.12,577.01" fill="#000"/>
<line x1="164.60" y1="620.00" x2="164.33" y2="624.22" stroke="#000" stroke-width="1.45"/>
<polygon points="163.74,633.50 161.30,623.02 167.49,623.42" fill="#000"/>
<line x1="147.30" y1="623.20" x2="153.64" y2="638.82" stroke="#000" stroke-width="1.45"/>
<polygon points="157.14,647.43 150.39,639.06 156.14,636.72" fill="#000"/>
<line x1="135.10" y1="637.40" x2="143.45" y2="646.28" stroke="#000" stroke-width="1.45"/>
<polygon points="149.82,653.06 140.50,647.67 145.02,643.43" fill="#000"/>
<line x1="118.00" y1="647.80" x2="125.98" y2="651.76" stroke="#000" stroke-width="1.45"/>
<polygon points="134.31,655.90 123.70,654.09 126.46,648.54" fill="#000"/>
<line x1="166.40" y1="692.90" x2="172.61" y2="702.70" stroke="#000" stroke-width="1.45"/>
<polygon points="177.58,710.56 169.45,703.52 174.69,700.20" fill="#000"/>
<line x1="207.80" y1="703.90" x2="203.25" y2="707.99" stroke="#000" stroke-width="1.45"/>
<polygon points="196.33,714.20 201.92,705.01 206.06,709.63" fill="#000"/>
<line x1="270.80" y1="784.20" x2="270.80" y2="793.20" stroke="#000" stroke-width="1.45"/>
<polygon points="270.80,802.50 267.70,792.20 273.90,792.20" fill="#000"/>
<line x1="152.00" y1="837.90" x2="159.10" y2="841.94" stroke="#000" stroke-width="1.45"/>
<polygon points="167.18,846.55 156.70,844.14 159.77,838.75" fill="#000"/>
<line x1="244.70" y1="859.40" x2="243.51" y2="864.52" stroke="#000" stroke-width="1.45"/>
<polygon points="241.40,873.58 240.71,862.84 246.75,864.25" fill="#000"/>
<rect x="91.80" y="551.30" width="46.50" height="18.30" fill="#fff"/>
<rect x="95.00" y="642.00" width="30.30" height="16.20" fill="#fff"/>
<rect x="262.00" y="642.50" width="50.90" height="14.30" fill="#fff"/>
<rect x="99.20" y="816.00" width="89.30" height="13.50" fill="#fff"/>
<text transform="translate(99.10 536.40) scale(1 1.045)" font-size="14.75" text-anchor="start">(11,8)</text>
<text transform="translate(136.50 549.50) scale(1 1.045)" font-size="14.75" text-anchor="start">(12,6)</text>
<text transform="translate(92.00 565.50) scale(1 1.045)" font-size="14.75" text-anchor="start">(10,10)</text>
<text transform="translate(160.70 568.00) scale(1 1.045)" font-size="14.75" text-anchor="start">(13,4)</text>
<text transform="translate(201.90 576.00) scale(1 1.045)" font-size="14.75" text-anchor="start">(7,6)</text>
<text transform="translate(216.90 557.80) scale(1 1.045)" font-size="14.75" text-anchor="start">(7,5)</text>
<text transform="translate(221.40 540.20) scale(1 1.045)" font-size="14.75" text-anchor="start">(8,3)</text>
<text transform="translate(262.50 574.20) scale(1 1.045)" font-size="14.75" text-anchor="start">655 nm</text>
<text transform="translate(113.20 617.40) scale(1 1.045)" font-size="14.75" text-anchor="start">(11,5)</text>
<text transform="translate(157.10 614.10) scale(1 1.045)" font-size="14.75" text-anchor="start">(12,3)</text>
<text transform="translate(92.80 635.00) scale(1 1.045)" font-size="14.75" text-anchor="start">(10,7)</text>
<text transform="translate(95.30 654.30) scale(1 1.045)" font-size="14.75" text-anchor="start">(9,9)</text>
<text transform="translate(200.10 606.60) scale(1 1.045)" font-size="14.75" text-anchor="start">(11,1)</text>
<text transform="translate(262.50 655.10) scale(1 1.045)" font-size="14.75" text-anchor="start">610 nm</text>
<text transform="translate(168.60 679.90) scale(1 1.045)" font-size="14.75" text-anchor="start">(10,4)</text>
<text transform="translate(134.90 691.10) scale(1 1.045)" font-size="14.75" text-anchor="start">(9,6)</text>
<text transform="translate(129.60 712.30) scale(1 1.045)" font-size="14.75" text-anchor="start">(8,8)</text>
<text transform="translate(92.50 726.90) scale(1 1.045)" font-size="14.75" text-anchor="start">552 nm</text>
<text transform="translate(206.40 697.60) scale(1 1.045)" font-size="14.75" text-anchor="start">(11,2)</text>
<text transform="translate(223.80 721.40) scale(1 1.045)" font-size="14.75" text-anchor="start">(9,2)</text>
<text transform="translate(259.70 720.10) scale(1 1.045)" font-size="14.75" text-anchor="start">(6,5)</text>
<text transform="translate(168.70 765.60) scale(1 1.045)" font-size="14.75" text-anchor="start">(7,7)</text>
<text transform="translate(95.30 796.20) scale(1 1.045)" font-size="14.75" text-anchor="start">500 nm</text>
<text transform="translate(200.30 756.70) scale(1 1.045)" font-size="14.75" text-anchor="start">(8,5)</text>
<text transform="translate(253.50 779.40) scale(1 1.045)" font-size="14.75" text-anchor="start">(8,2)</text>
<text transform="translate(230.90 856.70) scale(1 1.045)" font-size="14.75" text-anchor="start">(6,6)</text>
<text transform="translate(262.50 872.10) scale(1 1.045)" font-size="14.75" text-anchor="start">449 nm</text>
<text transform="translate(98.80 826.50) scale(1 1.045)" font-size="12.50" text-anchor="start">Semiconductors</text>
<text transform="translate(43.00 507.00) scale(1 1.045)" font-size="17.40" text-anchor="start">(a)</text>
<text transform="translate(131.40 507.00) scale(1 1.045)" font-size="17.30" text-anchor="start">Unsorted SWCNTs</text>
<text transform="translate(133.2 924.1) scale(1 1.045)" font-size="17.3">Raman Shift (cm<tspan font-size="10.6" dy="-11.0" dx="1.3" letter-spacing="0.4">-1</tspan><tspan dy="11.0" dx="0.9">)</tspan></text>
<text transform="translate(57.5 777.0) rotate(-90) scale(1 1.045)" font-size="17.42">Intensity (arb. units)</text>
<defs><clipPath id="clipB"><rect x="390.20" y="520.20" width="224.90" height="360.80"/></clipPath></defs>
<rect x="390.20" y="520.20" width="224.90" height="360.10" fill="none" stroke="#2a2a2a" stroke-width="1.50"/>
<line x1="401.44" y1="880.30" x2="401.44" y2="875.50" stroke="#222" stroke-width="1.25"/>
<line x1="401.44" y1="520.20" x2="401.44" y2="525.00" stroke="#222" stroke-width="1.25"/>
<line x1="412.69" y1="880.30" x2="412.69" y2="875.50" stroke="#222" stroke-width="1.25"/>
<line x1="412.69" y1="520.20" x2="412.69" y2="525.00" stroke="#222" stroke-width="1.25"/>
<line x1="423.94" y1="880.30" x2="423.94" y2="875.50" stroke="#222" stroke-width="1.25"/>
<line x1="423.94" y1="520.20" x2="423.94" y2="525.00" stroke="#222" stroke-width="1.25"/>
<line x1="435.18" y1="880.30" x2="435.18" y2="875.50" stroke="#222" stroke-width="1.25"/>
<line x1="435.18" y1="520.20" x2="435.18" y2="525.00" stroke="#222" stroke-width="1.25"/>
<line x1="446.43" y1="880.30" x2="446.43" y2="871.00" stroke="#222" stroke-width="1.25"/>
<line x1="446.43" y1="520.20" x2="446.43" y2="529.50" stroke="#222" stroke-width="1.25"/>
<line x1="457.67" y1="880.30" x2="457.67" y2="875.50" stroke="#222" stroke-width="1.25"/>
<line x1="457.67" y1="520.20" x2="457.67" y2="525.00" stroke="#222" stroke-width="1.25"/>
<line x1="468.91" y1="880.30" x2="468.91" y2="875.50" stroke="#222" stroke-width="1.25"/>
<line x1="468.91" y1="520.20" x2="468.91" y2="525.00" stroke="#222" stroke-width="1.25"/>
<line x1="480.16" y1="880.30" x2="480.16" y2="875.50" stroke="#222" stroke-width="1.25"/>
<line x1="480.16" y1="520.20" x2="480.16" y2="525.00" stroke="#222" stroke-width="1.25"/>
<line x1="491.40" y1="880.30" x2="491.40" y2="875.50" stroke="#222" stroke-width="1.25"/>
<line x1="491.40" y1="520.20" x2="491.40" y2="525.00" stroke="#222" stroke-width="1.25"/>
<line x1="502.65" y1="880.30" x2="502.65" y2="871.00" stroke="#222" stroke-width="1.25"/>
<line x1="502.65" y1="520.20" x2="502.65" y2="529.50" stroke="#222" stroke-width="1.25"/>
<line x1="513.89" y1="880.30" x2="513.89" y2="875.50" stroke="#222" stroke-width="1.25"/>
<line x1="513.89" y1="520.20" x2="513.89" y2="525.00" stroke="#222" stroke-width="1.25"/>
<line x1="525.14" y1="880.30" x2="525.14" y2="875.50" stroke="#222" stroke-width="1.25"/>
<line x1="525.14" y1="520.20" x2="525.14" y2="525.00" stroke="#222" stroke-width="1.25"/>
<line x1="536.38" y1="880.30" x2="536.38" y2="875.50" stroke="#222" stroke-width="1.25"/>
<line x1="536.38" y1="520.20" x2="536.38" y2="525.00" stroke="#222" stroke-width="1.25"/>
<line x1="547.63" y1="880.30" x2="547.63" y2="875.50" stroke="#222" stroke-width="1.25"/>
<line x1="547.63" y1="520.20" x2="547.63" y2="525.00" stroke="#222" stroke-width="1.25"/>
<line x1="558.88" y1="880.30" x2="558.88" y2="871.00" stroke="#222" stroke-width="1.25"/>
<line x1="558.88" y1="520.20" x2="558.88" y2="529.50" stroke="#222" stroke-width="1.25"/>
<line x1="570.12" y1="880.30" x2="570.12" y2="875.50" stroke="#222" stroke-width="1.25"/>
<line x1="570.12" y1="520.20" x2="570.12" y2="525.00" stroke="#222" stroke-width="1.25"/>
<line x1="581.37" y1="880.30" x2="581.37" y2="875.50" stroke="#222" stroke-width="1.25"/>
<line x1="581.37" y1="520.20" x2="581.37" y2="525.00" stroke="#222" stroke-width="1.25"/>
<line x1="592.61" y1="880.30" x2="592.61" y2="875.50" stroke="#222" stroke-width="1.25"/>
<line x1="592.61" y1="520.20" x2="592.61" y2="525.00" stroke="#222" stroke-width="1.25"/>
<line x1="603.86" y1="880.30" x2="603.86" y2="875.50" stroke="#222" stroke-width="1.25"/>
<line x1="603.86" y1="520.20" x2="603.86" y2="525.00" stroke="#222" stroke-width="1.25"/>
<line x1="390.20" y1="805.50" x2="399.50" y2="805.50" stroke="#222" stroke-width="1.25"/>
<line x1="615.10" y1="805.50" x2="605.90" y2="805.50" stroke="#222" stroke-width="1.25"/>
<line x1="390.20" y1="737.50" x2="399.50" y2="737.50" stroke="#222" stroke-width="1.25"/>
<line x1="615.10" y1="737.50" x2="605.90" y2="737.50" stroke="#222" stroke-width="1.25"/>
<line x1="390.20" y1="669.50" x2="399.50" y2="669.50" stroke="#222" stroke-width="1.25"/>
<line x1="615.10" y1="669.50" x2="605.90" y2="669.50" stroke="#222" stroke-width="1.25"/>
<line x1="390.20" y1="601.50" x2="399.50" y2="601.50" stroke="#222" stroke-width="1.25"/>
<line x1="615.10" y1="601.50" x2="605.90" y2="601.50" stroke="#222" stroke-width="1.25"/>
<line x1="390.20" y1="533.50" x2="399.50" y2="533.50" stroke="#222" stroke-width="1.25"/>
<line x1="615.10" y1="533.50" x2="605.90" y2="533.50" stroke="#222" stroke-width="1.25"/>
<text transform="translate(390.20 900.10) scale(1 1.045)" font-size="14.90" text-anchor="middle">150</text>
<text transform="translate(446.43 900.10) scale(1 1.045)" font-size="14.90" text-anchor="middle">200</text>
<text transform="translate(502.65 900.10) scale(1 1.045)" font-size="14.90" text-anchor="middle">250</text>
<text transform="translate(558.88 900.10) scale(1 1.045)" font-size="14.90" text-anchor="middle">300</text>
<text transform="translate(615.10 900.10) scale(1 1.045)" font-size="14.90" text-anchor="middle">350</text>
<text transform="translate(384.40 878.79) scale(1 1.045)" font-size="14.50" text-anchor="end">0</text>
<text transform="translate(384.40 810.79) scale(1 1.045)" font-size="14.50" text-anchor="end">1</text>
<text transform="translate(384.40 742.79) scale(1 1.045)" font-size="14.50" text-anchor="end">2</text>
<text transform="translate(384.40 674.79) scale(1 1.045)" font-size="14.50" text-anchor="end">3</text>
<text transform="translate(384.40 606.79) scale(1 1.045)" font-size="14.50" text-anchor="end">4</text>
<text transform="translate(384.40 538.79) scale(1 1.045)" font-size="14.50" text-anchor="end">5</text>
<g fill="none" stroke-width="2.9" stroke-linejoin="round" stroke-linecap="butt">
<path d="M390.20 871.61 L390.31 871.34 L390.42 871.08 L390.54 870.82 L390.65 870.55 L390.76 870.29 L390.87 870.03 L390.99 869.77 L391.10 869.50 L391.21 869.24 L391.32 868.98 L391.44 868.08 L391.55 867.19 L391.66 866.30 L391.77 865.41 L391.89 864.52 L392.00 863.62 L392.11 862.73 L392.22 861.84 L392.34 860.95 L392.45 860.06 L392.56 861.18 L392.67 862.30 L392.79 863.42 L392.90 864.55 L393.01 865.67 L393.12 866.79 L393.24 867.91 L393.35 869.04 L393.46 870.16 L393.57 871.28 L393.69 871.18 L393.80 871.07 L393.91 870.97 L394.02 870.87 L394.14 870.76 L394.25 870.66 L394.36 870.56 L394.47 870.45 L394.59 870.35 L394.70 870.25 L394.81 870.05 L394.92 869.86 L395.04 869.66 L395.15 869.47 L395.26 869.27 L395.37 869.08 L395.49 868.88 L395.60 868.69 L395.71 868.50 L395.82 868.30 L395.93 869.29 L396.05 870.27 L396.16 871.26 L396.27 872.24 L396.38 873.23 L396.50 874.22 L396.61 875.20 L396.72 876.19 L396.83 877.17 L396.95 878.16 L397.06 877.36 L397.17 876.56 L397.28 875.76 L397.40 874.96 L397.51 874.15 L397.62 873.35 L397.73 872.55 L397.85 871.75 L397.96 870.95 L398.07 870.15 L398.18 869.86 L398.30 869.57 L398.41 869.28 L398.52 868.99 L398.63 868.70 L398.75 868.42 L398.86 868.13 L398.97 867.84 L399.08 867.55 L399.20 867.26 L399.31 866.86 L399.42 866.46 L399.53 866.06 L399.65 865.66 L399.76 865.26 L399.87 864.86 L399.98 864.47 L400.10 864.07 L400.21 863.67 L400.32 863.27 L400.43 864.98 L400.55 866.69 L400.66 868.40 L400.77 870.11 L400.88 871.82 L401.00 873.53 L401.11 875.24 L401.22 876.95 L401.33 878.67 L401.44 880.38 L401.56 879.86 L401.67 879.35 L401.78 878.84 L401.89 878.33 L402.01 877.81 L402.12 877.30 L402.23 876.79 L402.34 876.28 L402.46 875.77 L402.57 875.25 L402.68 875.77 L402.79 876.29 L402.91 876.82 L403.02 877.34 L403.13 877.86 L403.24 878.38 L403.36 878.90 L403.47 879.42 L403.58 879.94 L403.69 880.46 L403.81 878.70 L403.92 876.94 L404.03 875.18 L404.14 873.42 L404.26 871.66 L404.37 869.90 L404.48 868.14 L404.59 866.38 L404.71 864.62 L404.82 862.86 L404.93 863.14 L405.04 863.43 L405.16 863.71 L405.27 864.00 L405.38 864.28 L405.49 864.57 L405.61 864.85 L405.72 865.14 L405.83 865.42 L405.94 865.70 L406.06 867.30 L406.17 868.89 L406.28 870.49 L406.39 872.08 L406.51 873.68 L406.62 875.27 L406.73 876.87 L406.84 878.46 L406.96 880.06 L407.07 881.65 L407.18 879.35 L407.29 877.05 L407.40 874.75 L407.52 872.45 L407.63 870.15 L407.74 867.84 L407.85 865.54 L407.97 863.24 L408.08 860.94 L408.19 858.64 L408.30 858.68 L408.42 858.72 L408.53 858.76 L408.64 858.81 L408.75 858.85 L408.87 858.89 L408.98 858.93 L409.09 858.98 L409.20 859.02 L409.32 859.06 L409.43 859.82 L409.54 860.58 L409.65 861.35 L409.77 862.11 L409.88 862.87 L409.99 863.63 L410.10 864.39 L410.22 865.15 L410.33 865.91 L410.44 866.67 L410.55 866.77 L410.67 866.86 L410.78 866.95 L410.89 867.05 L411.00 867.14 L411.12 867.24 L411.23 867.33 L411.34 867.42 L411.45 867.52 L411.57 867.61 L411.68 868.73 L411.79 869.85 L411.90 870.98 L412.02 872.10 L412.13 873.22 L412.24 874.34 L412.35 875.46 L412.47 876.58 L412.58 877.70 L412.69 878.82 L412.80 879.17 L412.91 879.52 L413.03 879.87 L413.14 880.22 L413.25 880.57 L413.36 880.92 L413.48 881.27 L413.59 881.62 L413.70 881.96 L413.81 882.31 L413.93 881.06 L414.04 879.80 L414.15 878.54 L414.26 877.29 L414.38 876.03 L414.49 874.77 L414.60 873.52 L414.71 872.26 L414.83 871.00 L414.94 869.75 L415.05 870.89 L415.16 872.04 L415.28 873.19 L415.39 874.34 L415.50 875.48 L415.61 876.63 L415.73 877.78 L415.84 878.93 L415.95 880.07 L416.06 881.22 L416.18 880.90 L416.29 880.58 L416.40 880.26 L416.51 879.94 L416.63 879.62 L416.74 879.30 L416.85 878.98 L416.96 878.66 L417.08 878.34 L417.19 878.02 L417.30 877.90 L417.41 877.77 L417.53 877.64 L417.64 877.52 L417.75 877.39 L417.86 877.26 L417.98 877.14 L418.09 877.01 L418.20 876.88 L418.31 876.76 L418.42 877.28 L418.54 877.79 L418.65 878.31 L418.76 878.83 L418.87 879.35 L418.99 879.87 L419.10 880.39 L419.21 880.91 L419.32 881.42 L419.44 881.94 L419.55 880.88 L419.66 879.82 L419.77 878.76 L419.89 877.70 L420.00 876.63 L420.11 875.57 L420.22 874.51 L420.34 873.45 L420.45 872.38 L420.56 871.32 L420.67 871.38 L420.79 871.44 L420.90 871.49 L421.01 871.55 L421.12 871.61 L421.24 871.67 L421.35 871.72 L421.46 871.78 L421.57 871.84 L421.69 871.90 L421.80 870.91 L421.91 869.93 L422.02 868.94 L422.14 867.96 L422.25 866.98 L422.36 865.99 L422.47 865.01 L422.59 864.03 L422.70 863.04 L422.81 862.06 L422.92 862.85 L423.04 863.64 L423.15 864.43 L423.26 865.22 L423.37 866.01 L423.49 866.81 L423.60 867.60 L423.71 868.39 L423.82 869.18 L423.94 869.97 L424.05 869.68 L424.16 869.38 L424.27 869.08 L424.38 868.79 L424.50 868.49 L424.61 868.19 L424.72 867.90 L424.83 867.60 L424.95 867.30 L425.06 867.01 L425.17 867.35 L425.28 867.69 L425.40 868.04 L425.51 868.38 L425.62 868.73 L425.73 869.07 L425.85 869.41 L425.96 869.76 L426.07 870.10 L426.18 870.45 L426.30 870.05 L426.41 869.65 L426.52 869.25 L426.63 868.85 L426.75 868.45 L426.86 868.06 L426.97 867.66 L427.08 867.26 L427.20 866.86 L427.31 866.46 L427.42 866.97 L427.53 867.47 L427.65 867.97 L427.76 868.47 L427.87 868.97 L427.98 869.48 L428.10 869.98 L428.21 870.48 L428.32 870.98 L428.43 871.48 L428.55 871.92 L428.66 872.36 L428.77 872.80 L428.88 873.24 L429.00 873.68 L429.11 874.12 L429.22 874.55 L429.33 874.99 L429.45 875.43 L429.56 875.87 L429.67 874.11 L429.78 872.35 L429.89 870.59 L430.01 868.83 L430.12 867.06 L430.23 865.30 L430.34 863.54 L430.46 861.78 L430.57 860.02 L430.68 858.26 L430.79 858.26 L430.91 858.27 L431.02 858.27 L431.13 858.28 L431.24 858.28 L431.36 858.29 L431.47 858.29 L431.58 858.30 L431.69 858.30 L431.81 858.31 L431.92 858.69 L432.03 859.07 L432.14 859.45 L432.26 859.83 L432.37 860.21 L432.48 860.59 L432.59 860.97 L432.71 861.35 L432.82 861.73 L432.93 862.11 L433.04 862.44 L433.16 862.76 L433.27 863.08 L433.38 863.41 L433.49 863.73 L433.61 864.06 L433.72 864.38 L433.83 864.70 L433.94 865.03 L434.06 865.35 L434.17 866.31 L434.28 867.27 L434.39 868.24 L434.51 869.20 L434.62 870.16 L434.73 871.12 L434.84 872.08 L434.96 873.04 L435.07 874.00 L435.18 874.96 L435.29 875.17 L435.40 875.38 L435.52 875.59 L435.63 875.80 L435.74 876.01 L435.85 876.22 L435.97 876.43 L436.08 876.64 L436.19 876.85 L436.30 877.06 L436.42 876.91 L436.53 876.77 L436.64 876.62 L436.75 876.48 L436.87 876.33 L436.98 876.19 L437.09 876.04 L437.20 875.89 L437.32 875.75 L437.43 875.60 L437.54 876.14 L437.65 876.68 L437.77 877.21 L437.88 877.75 L437.99 878.28 L438.10 878.82 L438.22 879.35 L438.33 879.89 L438.44 880.43 L438.55 880.96 L438.67 879.26 L438.78 877.55 L438.89 875.85 L439.00 874.15 L439.12 872.44 L439.23 870.74 L439.34 869.03 L439.45 867.33 L439.57 865.63 L439.68 863.92 L439.79 864.82 L439.90 865.71 L440.02 866.61 L440.13 867.50 L440.24 868.40 L440.35 869.30 L440.47 870.19 L440.58 871.09 L440.69 871.98 L440.80 872.88 L440.91 871.79 L441.03 870.69 L441.14 869.60 L441.25 868.51 L441.36 867.42 L441.48 866.32 L441.59 865.23 L441.70 864.14 L441.81 863.05 L441.93 861.96 L442.04 863.08 L442.15 864.21 L442.26 865.33 L442.38 866.46 L442.49 867.59 L442.60 868.71 L442.71 869.84 L442.83 870.97 L442.94 872.09 L443.05 873.22 L443.16 871.82 L443.28 870.42 L443.39 869.02 L443.50 867.62 L443.61 866.22 L443.73 864.82 L443.84 863.42 L443.95 862.03 L444.06 860.63 L444.18 859.23 L444.29 859.50 L444.40 859.77 L444.51 860.04 L444.63 860.31 L444.74 860.58 L444.85 860.85 L444.96 861.12 L445.08 861.40 L445.19 861.67 L445.30 861.94 L445.41 864.01 L445.53 866.08 L445.64 868.16 L445.75 870.23 L445.86 872.30 L445.98 874.38 L446.09 876.45 L446.20 878.52 L446.31 880.59 L446.43 882.67 L446.54 882.15 L446.65 881.64 L446.76 881.13 L446.87 880.62 L446.99 880.11 L447.10 879.59 L447.21 879.08 L447.32 878.57 L447.44 878.06 L447.55 877.55 L447.66 875.83 L447.77 874.12 L447.89 872.40 L448.00 870.69 L448.11 868.97 L448.22 867.26 L448.34 865.54 L448.45 863.83 L448.56 862.11 L448.67 860.40 L448.79 861.47 L448.90 862.55 L449.01 863.63 L449.12 864.71 L449.24 865.79 L449.35 866.86 L449.46 867.94 L449.57 869.02 L449.69 870.10 L449.80 871.17 L449.91 869.93 L450.02 868.68 L450.14 867.43 L450.25 866.18 L450.36 864.93 L450.47 863.68 L450.59 862.43 L450.70 861.18 L450.81 859.93 L450.92 858.68 L451.04 860.11 L451.15 861.53 L451.26 862.96 L451.37 864.39 L451.49 865.82 L451.60 867.24 L451.71 868.67 L451.82 870.10 L451.94 871.52 L452.05 872.95 L452.16 873.75 L452.27 874.54 L452.38 875.33 L452.50 876.13 L452.61 876.92 L452.72 877.72 L452.83 878.51 L452.95 879.30 L453.06 880.10 L453.17 880.89 L453.28 879.53 L453.40 878.17 L453.51 876.81 L453.62 875.44 L453.73 874.08 L453.85 872.72 L453.96 871.36 L454.07 870.00 L454.18 868.63 L454.30 867.27 L454.41 866.91 L454.52 866.54 L454.63 866.18 L454.75 865.81 L454.86 865.45 L454.97 865.08 L455.08 864.72 L455.20 864.35 L455.31 863.99 L455.42 863.62 L455.53 864.87 L455.65 866.11 L455.76 867.36 L455.87 868.60 L455.98 869.85 L456.10 871.09 L456.21 872.34 L456.32 873.59 L456.43 874.83 L456.55 876.08 L456.66 876.52 L456.77 876.97 L456.88 877.42 L457.00 877.86 L457.11 878.31 L457.22 878.76 L457.33 879.21 L457.45 879.65 L457.56 880.10 L457.67 880.55 L457.78 879.95 L457.89 879.35 L458.01 878.74 L458.12 878.14 L458.23 877.54 L458.34 876.94 L458.46 876.34 L458.57 875.74 L458.68 875.14 L458.79 874.54 L458.91 872.99 L459.02 871.45 L459.13 869.90 L459.24 868.35 L459.36 866.81 L459.47 865.26 L459.58 863.72 L459.69 862.17 L459.81 860.63 L459.92 859.08 L460.03 859.58 L460.14 860.09 L460.26 860.59 L460.37 861.10 L460.48 861.60 L460.59 862.11 L460.71 862.61 L460.82 863.11 L460.93 863.62 L461.04 864.12 L461.16 865.69 L461.27 867.26 L461.38 868.82 L461.49 870.39 L461.61 871.96 L461.72 873.52 L461.83 875.09 L461.94 876.66 L462.06 878.22 L462.17 879.79 L462.28 879.48 L462.39 879.16 L462.51 878.85 L462.62 878.53 L462.73 878.22 L462.84 877.91 L462.96 877.59 L463.07 877.28 L463.18 876.96 L463.29 876.65 L463.40 877.00 L463.52 877.36 L463.63 877.72 L463.74 878.07 L463.85 878.43 L463.97 878.78 L464.08 879.14 L464.19 879.49 L464.30 879.85 L464.42 880.21 L464.53 880.31 L464.64 880.41 L464.75 880.51 L464.87 880.61 L464.98 880.71 L465.09 880.81 L465.20 880.91 L465.32 881.01 L465.43 881.11 L465.54 881.21 L465.65 879.41 L465.77 877.60 L465.88 875.80 L465.99 874.00 L466.10 872.19 L466.22 870.39 L466.33 868.58 L466.44 866.78 L466.55 864.97 L466.67 863.17 L466.78 864.69 L466.89 866.20 L467.00 867.72 L467.12 869.23 L467.23 870.75 L467.34 872.27 L467.45 873.78 L467.57 875.30 L467.68 876.81 L467.79 878.33 L467.90 877.40 L468.02 876.46 L468.13 875.53 L468.24 874.59 L468.35 873.66 L468.47 872.73 L468.58 871.79 L468.69 870.86 L468.80 869.92 L468.91 868.99 L469.03 869.26 L469.14 869.54 L469.25 869.81 L469.36 870.08 L469.48 870.36 L469.59 870.63 L469.70 870.91 L469.81 871.18 L469.93 871.45 L470.04 871.73 L470.15 872.36 L470.26 872.98 L470.38 873.61 L470.49 874.24 L470.60 874.87 L470.71 875.50 L470.83 876.13 L470.94 876.76 L471.05 877.38 L471.16 878.01 L471.28 876.69 L471.39 875.36 L471.50 874.04 L471.61 872.71 L471.73 871.39 L471.84 870.06 L471.95 868.74 L472.06 867.41 L472.18 866.09 L472.29 864.76 L472.40 866.23 L472.51 867.71 L472.63 869.18 L472.74 870.65 L472.85 872.12 L472.96 873.59 L473.08 875.06 L473.19 876.53 L473.30 878.00 L473.41 879.47 L473.53 878.22 L473.64 876.96 L473.75 875.71 L473.86 874.45 L473.98 873.20 L474.09 871.94 L474.20 870.69 L474.31 869.43 L474.43 868.18 L474.54 866.92 L474.65 868.21 L474.76 869.50 L474.87 870.79 L474.99 872.08 L475.10 873.37 L475.21 874.67 L475.32 875.96 L475.44 877.25 L475.55 878.54 L475.66 879.83 L475.77 879.08 L475.89 878.34 L476.00 877.59 L476.11 876.85 L476.22 876.10 L476.34 875.36 L476.45 874.61 L476.56 873.87 L476.67 873.12 L476.79 872.38 L476.90 872.89 L477.01 873.40 L477.12 873.91 L477.24 874.42 L477.35 874.92 L477.46 875.43 L477.57 875.94 L477.69 876.45 L477.80 876.96 L477.91 877.47 L478.02 877.33 L478.14 877.19 L478.25 877.05 L478.36 876.91 L478.47 876.77 L478.59 876.63 L478.70 876.49 L478.81 876.35 L478.92 876.21 L479.04 876.08 L479.15 874.36 L479.26 872.64 L479.37 870.93 L479.49 869.21 L479.60 867.49 L479.71 865.78 L479.82 864.06 L479.94 862.34 L480.05 860.63 L480.16 858.91 L480.27 859.32 L480.38 859.73 L480.50 860.14 L480.61 860.55 L480.72 860.96 L480.83 861.37 L480.95 861.78 L481.06 862.19 L481.17 862.60 L481.28 863.01 L481.40 864.23 L481.51 865.46 L481.62 866.68 L481.73 867.90 L481.85 869.12 L481.96 870.35 L482.07 871.57 L482.18 872.79 L482.30 874.01 L482.41 875.23 L482.52 873.81 L482.63 872.39 L482.75 870.97 L482.86 869.55 L482.97 868.13 L483.08 866.70 L483.20 865.28 L483.31 863.86 L483.42 862.44 L483.53 861.02 L483.65 862.67 L483.76 864.32 L483.87 865.97 L483.98 867.62 L484.10 869.27 L484.21 870.92 L484.32 872.57 L484.43 874.22 L484.55 875.87 L484.66 877.52 L484.77 877.07 L484.88 876.62 L485.00 876.17 L485.11 875.72 L485.22 875.27 L485.33 874.83 L485.45 874.38 L485.56 873.93 L485.67 873.48 L485.78 873.03 L485.89 871.90 L486.01 870.78 L486.12 869.65 L486.23 868.52 L486.34 867.40 L486.46 866.27 L486.57 865.14 L486.68 864.02 L486.79 862.89 L486.91 861.76 L487.02 862.29 L487.13 862.81 L487.24 863.33 L487.36 863.85 L487.47 864.37 L487.58 864.89 L487.69 865.41 L487.81 865.93 L487.92 866.45 L488.03 866.97 L488.14 868.29 L488.26 869.62 L488.37 870.94 L488.48 872.27 L488.59 873.60 L488.71 874.92 L488.82 876.25 L488.93 877.57 L489.04 878.90 L489.16 880.22 L489.27 878.05 L489.38 875.87 L489.49 873.70 L489.61 871.52 L489.72 869.34 L489.83 867.17 L489.94 864.99 L490.06 862.81 L490.17 860.64 L490.28 858.46 L490.39 860.36 L490.51 862.26 L490.62 864.16 L490.73 866.06 L490.84 867.96 L490.96 869.86 L491.07 871.76 L491.18 873.66 L491.29 875.56 L491.40 877.46 L491.52 877.35 L491.63 877.24 L491.74 877.13 L491.85 877.02 L491.97 876.91 L492.08 876.80 L492.19 876.69 L492.30 876.58 L492.42 876.47 L492.53 876.36 L492.64 875.10 L492.75 873.84 L492.87 872.58 L492.98 871.32 L493.09 870.06 L493.20 868.80 L493.32 867.54 L493.43 866.28 L493.54 865.02 L493.65 863.76 L493.77 864.85 L493.88 865.94 L493.99 867.02 L494.10 868.11 L494.22 869.20 L494.33 870.28 L494.44 871.37 L494.55 872.45 L494.67 873.54 L494.78 874.63 L494.89 874.71 L495.00 874.79 L495.12 874.87 L495.23 874.95 L495.34 875.03 L495.45 875.11 L495.57 875.19 L495.68 875.27 L495.79 875.35 L495.90 875.43 L496.02 875.97 L496.13 876.52 L496.24 877.06 L496.35 877.61 L496.47 878.15 L496.58 878.70 L496.69 879.25 L496.80 879.79 L496.92 880.34 L497.03 880.88 L497.14 880.84 L497.25 880.80 L497.36 880.76 L497.48 880.72 L497.59 880.68 L497.70 880.64 L497.81 880.60 L497.93 880.56 L498.04 880.51 L498.15 880.47 L498.26 879.27 L498.38 878.06 L498.49 876.86 L498.60 875.65 L498.71 874.44 L498.83 873.24 L498.94 872.03 L499.05 870.83 L499.16 869.62 L499.28 868.41 L499.39 869.25 L499.50 870.08 L499.61 870.91 L499.73 871.74 L499.84 872.57 L499.95 873.40 L500.06 874.24 L500.18 875.07 L500.29 875.90 L500.40 876.73 L500.51 875.85 L500.63 874.98 L500.74 874.10 L500.85 873.22 L500.96 872.35 L501.08 871.47 L501.19 870.59 L501.30 869.71 L501.41 868.84 L501.53 867.96 L501.64 868.52 L501.75 869.08 L501.86 869.65 L501.98 870.21 L502.09 870.77 L502.20 871.33 L502.31 871.89 L502.43 872.46 L502.54 873.02 L502.65 873.58 L502.76 873.38 L502.87 873.18 L502.99 872.98 L503.10 872.78 L503.21 872.58 L503.32 872.38 L503.44 872.18 L503.55 871.98 L503.66 871.78 L503.77 871.59 L503.89 870.35 L504.00 869.11 L504.11 867.87 L504.22 866.63 L504.34 865.39 L504.45 864.15 L504.56 862.92 L504.67 861.68 L504.79 860.44 L504.90 859.20 L505.01 860.36 L505.12 861.53 L505.24 862.69 L505.35 863.85 L505.46 865.02 L505.57 866.18 L505.69 867.35 L505.80 868.51 L505.91 869.67 L506.02 870.84 L506.14 870.61 L506.25 870.39 L506.36 870.17 L506.47 869.95 L506.59 869.72 L506.70 869.50 L506.81 869.28 L506.92 869.06 L507.04 868.83 L507.15 868.61 L507.26 867.90 L507.37 867.18 L507.49 866.47 L507.60 865.75 L507.71 865.04 L507.82 864.32 L507.94 863.61 L508.05 862.89 L508.16 862.18 L508.27 861.46 L508.38 863.13 L508.50 864.81 L508.61 866.48 L508.72 868.15 L508.83 869.83 L508.95 871.50 L509.06 873.17 L509.17 874.85 L509.28 876.52 L509.40 878.19 L509.51 878.26 L509.62 878.33 L509.73 878.40 L509.85 878.47 L509.96 878.54 L510.07 878.61 L510.18 878.68 L510.30 878.75 L510.41 878.82 L510.52 878.89 L510.63 877.04 L510.75 875.19 L510.86 873.34 L510.97 871.50 L511.08 869.65 L511.20 867.80 L511.31 865.95 L511.42 864.10 L511.53 862.26 L511.65 860.41 L511.76 860.63 L511.87 860.85 L511.98 861.07 L512.10 861.29 L512.21 861.51 L512.32 861.73 L512.43 861.95 L512.55 862.17 L512.66 862.38 L512.77 862.60 L512.88 863.99 L513.00 865.38 L513.11 866.77 L513.22 868.16 L513.33 869.54 L513.45 870.93 L513.56 872.32 L513.67 873.71 L513.78 875.09 L513.89 876.48 L514.01 876.62 L514.12 876.76 L514.23 876.90 L514.34 877.04 L514.46 877.18 L514.57 877.33 L514.68 877.47 L514.79 877.61 L514.91 877.75 L515.02 877.88 L515.13 876.53 L515.24 875.18 L515.36 873.83 L515.47 872.47 L515.58 871.12 L515.69 869.77 L515.81 868.41 L515.92 867.06 L516.03 865.70 L516.14 864.35 L516.26 863.84 L516.37 863.34 L516.48 862.84 L516.59 862.33 L516.71 861.83 L516.82 861.33 L516.93 860.82 L517.04 860.32 L517.16 859.81 L517.27 859.30 L517.38 861.11 L517.49 862.92 L517.61 864.72 L517.72 866.52 L517.83 868.33 L517.94 870.13 L518.06 871.93 L518.17 873.74 L518.28 875.54 L518.39 877.34 L518.51 875.47 L518.62 873.61 L518.73 871.74 L518.84 869.87 L518.96 868.01 L519.07 866.14 L519.18 864.27 L519.29 862.40 L519.41 860.52 L519.52 858.65 L519.63 858.79 L519.74 858.93 L519.85 859.06 L519.97 859.20 L520.08 859.33 L520.19 859.47 L520.30 859.60 L520.42 859.73 L520.53 859.86 L520.64 859.99 L520.75 860.64 L520.87 861.28 L520.98 861.92 L521.09 862.56 L521.20 863.20 L521.32 863.84 L521.43 864.48 L521.54 865.12 L521.65 865.75 L521.77 866.39 L521.88 866.78 L521.99 867.18 L522.10 867.57 L522.22 867.97 L522.33 868.36 L522.44 868.75 L522.55 869.13 L522.67 869.52 L522.78 869.91 L522.89 870.29 L523.00 871.00 L523.12 871.72 L523.23 872.43 L523.34 873.14 L523.45 873.85 L523.57 874.55 L523.68 875.26 L523.79 875.96 L523.90 876.66 L524.02 877.36 L524.13 877.44 L524.24 877.52 L524.35 877.59 L524.47 877.67 L524.58 877.74 L524.69 877.81 L524.80 877.87 L524.92 877.94 L525.03 878.00 L525.14 878.07 L525.25 875.70 L525.36 873.34 L525.48 870.97 L525.59 868.60 L525.70 866.23 L525.81 863.86 L525.93 861.48 L526.04 859.11 L526.15 856.72 L526.26 854.34 L526.38 855.99 L526.49 857.64 L526.60 859.28 L526.71 860.92 L526.83 862.56 L526.94 864.20 L527.05 865.83 L527.16 867.46 L527.28 869.09 L527.39 870.71 L527.50 869.42 L527.61 868.13 L527.73 866.83 L527.84 865.53 L527.95 864.22 L528.06 862.92 L528.18 861.61 L528.29 860.29 L528.40 858.98 L528.51 857.66 L528.63 858.57 L528.74 859.48 L528.85 860.39 L528.96 861.29 L529.08 862.19 L529.19 863.09 L529.30 863.98 L529.41 864.87 L529.53 865.76 L529.64 866.64 L529.75 865.04 L529.86 863.43 L529.98 861.82 L530.09 860.21 L530.20 858.59 L530.31 856.97 L530.43 855.34 L530.54 853.72 L530.65 852.08 L530.76 850.45 L530.87 850.75 L530.99 851.06 L531.10 851.35 L531.21 851.65 L531.32 851.94 L531.44 852.23 L531.55 852.51 L531.66 852.79 L531.77 853.07 L531.89 853.35 L532.00 853.80 L532.11 854.26 L532.22 854.71 L532.34 855.15 L532.45 855.60 L532.56 856.04 L532.67 856.48 L532.79 856.91 L532.90 857.35 L533.01 857.78 L533.12 857.75 L533.24 857.73 L533.35 857.70 L533.46 857.67 L533.57 857.65 L533.69 857.62 L533.80 857.59 L533.91 857.56 L534.02 857.53 L534.14 857.50 L534.25 855.85 L534.36 854.20 L534.47 852.55 L534.59 850.90 L534.70 849.25 L534.81 847.60 L534.92 845.95 L535.04 844.30 L535.15 842.65 L535.26 841.00 L535.37 842.29 L535.49 843.57 L535.60 844.86 L535.71 846.15 L535.82 847.44 L535.94 848.73 L536.05 850.02 L536.16 851.32 L536.27 852.62 L536.38 853.92 L536.50 853.23 L536.61 852.56 L536.72 851.88 L536.83 851.21 L536.95 850.54 L537.06 849.87 L537.17 849.21 L537.28 848.55 L537.40 847.89 L537.51 847.24 L537.62 846.17 L537.73 845.11 L537.85 844.06 L537.96 843.00 L538.07 841.96 L538.18 840.91 L538.30 839.88 L538.41 838.85 L538.52 837.82 L538.63 836.80 L538.75 835.88 L538.86 834.97 L538.97 834.06 L539.08 833.16 L539.20 832.27 L539.31 831.38 L539.42 830.50 L539.53 829.63 L539.65 828.76 L539.76 827.90 L539.87 828.36 L539.98 828.81 L540.10 829.28 L540.21 829.75 L540.32 830.24 L540.43 830.73 L540.55 831.23 L540.66 831.74 L540.77 832.25 L540.88 832.78 L541.00 833.55 L541.11 834.33 L541.22 835.12 L541.33 835.92 L541.45 836.72 L541.56 837.54 L541.67 838.36 L541.78 839.20 L541.90 840.04 L542.01 840.90 L542.12 839.39 L542.23 837.89 L542.34 836.40 L542.46 834.92 L542.57 833.46 L542.68 832.01 L542.79 830.58 L542.91 829.15 L543.02 827.74 L543.13 826.34 L543.24 828.26 L543.36 830.19 L543.47 832.13 L543.58 834.08 L543.69 836.05 L543.81 838.03 L543.92 840.01 L544.03 842.01 L544.14 844.02 L544.26 846.04 L544.37 846.78 L544.48 847.53 L544.59 848.29 L544.71 849.06 L544.82 849.83 L544.93 850.62 L545.04 851.41 L545.16 852.21 L545.27 853.02 L545.38 853.84 L545.49 853.58 L545.61 853.34 L545.72 853.10 L545.83 852.86 L545.94 852.63 L546.06 852.40 L546.17 852.18 L546.28 851.96 L546.39 851.75 L546.51 851.54 L546.62 851.52 L546.73 851.50 L546.84 851.48 L546.96 851.47 L547.07 851.46 L547.18 851.45 L547.29 851.44 L547.41 851.43 L547.52 851.42 L547.63 851.41 L547.74 852.77 L547.85 854.14 L547.97 855.50 L548.08 856.86 L548.19 858.22 L548.30 859.58 L548.42 860.93 L548.53 862.29 L548.64 863.64 L548.75 864.98 L548.87 865.10 L548.98 865.21 L549.09 865.32 L549.20 865.43 L549.32 865.53 L549.43 865.63 L549.54 865.72 L549.65 865.81 L549.77 865.89 L549.88 865.97 L549.99 865.85 L550.10 865.73 L550.22 865.60 L550.33 865.47 L550.44 865.33 L550.55 865.19 L550.67 865.04 L550.78 864.88 L550.89 864.72 L551.00 864.55 L551.12 864.35 L551.23 864.15 L551.34 863.93 L551.45 863.71 L551.57 863.49 L551.68 863.26 L551.79 863.02 L551.90 862.77 L552.02 862.52 L552.13 862.26 L552.24 863.58 L552.35 864.89 L552.47 866.19 L552.58 867.48 L552.69 868.77 L552.80 870.05 L552.92 871.33 L553.03 872.60 L553.14 873.87 L553.25 875.13 L553.36 874.74 L553.48 874.34 L553.59 873.94 L553.70 873.54 L553.81 873.13 L553.93 872.71 L554.04 872.29 L554.15 871.87 L554.26 871.44 L554.38 871.00 L554.49 869.84 L554.60 868.66 L554.71 867.48 L554.83 866.30 L554.94 865.11 L555.05 863.92 L555.16 862.73 L555.28 861.53 L555.39 860.33 L555.50 859.12 L555.61 858.99 L555.73 858.85 L555.84 858.71 L555.95 858.56 L556.06 858.41 L556.18 858.26 L556.29 858.11 L556.40 857.95 L556.51 857.79 L556.63 857.63 L556.74 858.48 L556.85 859.32 L556.96 860.17 L557.08 861.01 L557.19 861.84 L557.30 862.68 L557.41 863.51 L557.53 864.34 L557.64 865.17 L557.75 866.00 L557.86 865.95 L557.98 865.90 L558.09 865.84 L558.20 865.79 L558.31 865.73 L558.43 865.67 L558.54 865.61 L558.65 865.55 L558.76 865.49 L558.88 865.43 L558.99 865.71 L559.10 865.99 L559.21 866.27 L559.32 866.55 L559.44 866.83 L559.55 867.10 L559.66 867.38 L559.77 867.65 L559.89 867.93 L560.00 868.20 L560.11 869.30 L560.22 870.39 L560.34 871.49 L560.45 872.59 L560.56 873.68 L560.67 874.78 L560.79 875.87 L560.90 876.97 L561.01 878.06 L561.12 879.16 L561.24 879.42 L561.35 879.68 L561.46 879.95 L561.57 880.21 L561.69 880.47 L561.80 880.73 L561.91 880.99 L562.02 881.26 L562.14 881.52 L562.25 881.78 L562.36 881.82 L562.47 881.87 L562.59 881.91 L562.70 881.96 L562.81 882.00 L562.92 882.05 L563.04 882.09 L563.15 882.13 L563.26 882.18 L563.37 882.22 L563.49 880.04 L563.60 877.86 L563.71 875.67 L563.82 873.49 L563.94 871.31 L564.05 869.12 L564.16 866.94 L564.27 864.76 L564.39 862.57 L564.50 860.39 L564.61 860.90 L564.72 861.41 L564.83 861.93 L564.95 862.44 L565.06 862.95 L565.17 863.47 L565.28 863.98 L565.40 864.49 L565.51 865.00 L565.62 865.52 L565.73 864.88 L565.85 864.24 L565.96 863.59 L566.07 862.95 L566.18 862.31 L566.30 861.67 L566.41 861.03 L566.52 860.39 L566.63 859.75 L566.75 859.11 L566.86 861.41 L566.97 863.72 L567.08 866.02 L567.20 868.33 L567.31 870.63 L567.42 872.94 L567.53 875.24 L567.65 877.55 L567.76 879.85 L567.87 882.16 L567.98 880.65 L568.10 879.15 L568.21 877.64 L568.32 876.14 L568.43 874.63 L568.55 873.13 L568.66 871.62 L568.77 870.12 L568.88 868.61 L569.00 867.11 L569.11 867.48 L569.22 867.86 L569.33 868.24 L569.45 868.61 L569.56 868.99 L569.67 869.37 L569.78 869.74 L569.90 870.12 L570.01 870.50 L570.12 870.87 L570.23 870.27 L570.34 869.66 L570.46 869.05 L570.57 868.44 L570.68 867.84 L570.79 867.23 L570.91 866.62 L571.02 866.01 L571.13 865.41 L571.24 864.80 L571.36 865.80 L571.47 866.81 L571.58 867.82 L571.69 868.83 L571.81 869.84 L571.92 870.84 L572.03 871.85 L572.14 872.86 L572.26 873.87 L572.37 874.87 L572.48 873.21 L572.59 871.54 L572.71 869.88 L572.82 868.21 L572.93 866.54 L573.04 864.88 L573.16 863.21 L573.27 861.55 L573.38 859.88 L573.49 858.22 L573.61 860.48 L573.72 862.74 L573.83 865.00 L573.94 867.26 L574.06 869.53 L574.17 871.79 L574.28 874.05 L574.39 876.31 L574.51 878.58 L574.62 880.84 L574.73 879.68 L574.84 878.53 L574.96 877.38 L575.07 876.23 L575.18 875.07 L575.29 873.92 L575.41 872.77 L575.52 871.62 L575.63 870.46 L575.74 869.31 L575.85 868.84 L575.97 868.38 L576.08 867.91 L576.19 867.44 L576.30 866.97 L576.42 866.51 L576.53 866.04 L576.64 865.57 L576.75 865.11 L576.87 864.64 L576.98 864.24 L577.09 863.84 L577.20 863.44 L577.32 863.04 L577.43 862.64 L577.54 862.24 L577.65 861.84 L577.77 861.44 L577.88 861.04 L577.99 860.64 L578.10 861.04 L578.22 861.44 L578.33 861.84 L578.44 862.24 L578.55 862.64 L578.67 863.04 L578.78 863.44 L578.89 863.84 L579.00 864.24 L579.12 864.64 L579.23 864.72 L579.34 864.80 L579.45 864.88 L579.57 864.96 L579.68 865.04 L579.79 865.13 L579.90 865.21 L580.02 865.29 L580.13 865.37 L580.24 865.45 L580.35 865.23 L580.47 865.02 L580.58 864.80 L580.69 864.58 L580.80 864.36 L580.92 864.14 L581.03 863.92 L581.14 863.70 L581.25 863.48 L581.37 863.26 L581.48 862.96 L581.59 862.66 L581.70 862.37 L581.81 862.07 L581.93 861.77 L582.04 861.47 L582.15 861.17 L582.26 860.88 L582.38 860.58 L582.49 860.28 L582.60 861.66 L582.71 863.04 L582.83 864.42 L582.94 865.80 L583.05 867.17 L583.16 868.55 L583.28 869.93 L583.39 871.31 L583.50 872.69 L583.61 874.07 L583.73 873.25 L583.84 872.44 L583.95 871.62 L584.06 870.80 L584.18 869.99 L584.29 869.17 L584.40 868.36 L584.51 867.54 L584.63 866.72 L584.74 865.91 L584.85 865.38 L584.96 864.85 L585.08 864.32 L585.19 863.80 L585.30 863.27 L585.41 862.74 L585.53 862.21 L585.64 861.68 L585.75 861.16 L585.86 860.63 L585.98 860.70 L586.09 860.77 L586.20 860.85 L586.31 860.92 L586.43 860.99 L586.54 861.06 L586.65 861.14 L586.76 861.21 L586.88 861.28 L586.99 861.36 L587.10 862.47 L587.21 863.58 L587.32 864.69 L587.44 865.80 L587.55 866.91 L587.66 868.02 L587.77 869.13 L587.89 870.25 L588.00 871.36 L588.11 872.47 L588.22 871.55 L588.34 870.64 L588.45 869.73 L588.56 868.81 L588.67 867.90 L588.79 866.98 L588.90 866.07 L589.01 865.16 L589.12 864.24 L589.24 863.33 L589.35 863.15 L589.46 862.97 L589.57 862.79 L589.69 862.61 L589.80 862.43 L589.91 862.26 L590.02 862.08 L590.14 861.90 L590.25 861.72 L590.36 861.54 L590.47 862.25 L590.59 862.97 L590.70 863.68 L590.81 864.39 L590.92 865.10 L591.04 865.81 L591.15 866.52 L591.26 867.23 L591.37 867.95 L591.49 868.66 L591.60 868.53 L591.71 868.40 L591.82 868.27 L591.94 868.15 L592.05 868.02 L592.16 867.89 L592.27 867.76 L592.39 867.64 L592.50 867.51 L592.61 867.38 L592.72 867.97 L592.83 868.57 L592.95 869.16 L593.06 869.76 L593.17 870.35 L593.28 870.94 L593.40 871.54 L593.51 872.13 L593.62 872.73 L593.73 873.32 L593.85 872.83 L593.96 872.34 L594.07 871.85 L594.18 871.36 L594.30 870.87 L594.41 870.38 L594.52 869.89 L594.63 869.40 L594.75 868.91 L594.86 868.42 L594.97 868.35 L595.08 868.29 L595.20 868.22 L595.31 868.16 L595.42 868.10 L595.53 868.03 L595.65 867.97 L595.76 867.90 L595.87 867.84 L595.98 867.77 L596.10 869.07 L596.21 870.36 L596.32 871.66 L596.43 872.95 L596.55 874.25 L596.66 875.54 L596.77 876.83 L596.88 878.13 L597.00 879.42 L597.11 880.72 L597.22 879.35 L597.33 877.98 L597.45 876.61 L597.56 875.24 L597.67 873.87 L597.78 872.50 L597.90 871.13 L598.01 869.77 L598.12 868.40 L598.23 867.03 L598.34 866.16 L598.46 865.29 L598.57 864.43 L598.68 863.56 L598.79 862.70 L598.91 861.83 L599.02 860.96 L599.13 860.10 L599.24 859.23 L599.36 858.36 L599.47 858.64 L599.58 858.92 L599.69 859.20 L599.81 859.48 L599.92 859.75 L600.03 860.03 L600.14 860.31 L600.26 860.59 L600.37 860.86 L600.48 861.14 L600.59 861.51 L600.71 861.88 L600.82 862.26 L600.93 862.63 L601.04 863.00 L601.16 863.37 L601.27 863.74 L601.38 864.11 L601.49 864.48 L601.61 864.85 L601.72 865.69 L601.83 866.52 L601.94 867.35 L602.06 868.18 L602.17 869.01 L602.28 869.84 L602.39 870.68 L602.51 871.51 L602.62 872.34 L602.73 873.17 L602.84 872.32 L602.96 871.47 L603.07 870.63 L603.18 869.78 L603.29 868.93 L603.41 868.08 L603.52 867.23 L603.63 866.38 L603.74 865.53 L603.86 864.69 L603.97 865.06 L604.08 865.44 L604.19 865.82 L604.30 866.20 L604.42 866.57 L604.53 866.95 L604.64 867.33 L604.75 867.70 L604.87 868.08 L604.98 868.46 L605.09 868.80 L605.20 869.15 L605.32 869.49 L605.43 869.83 L605.54 870.18 L605.65 870.52 L605.77 870.86 L605.88 871.21 L605.99 871.55 L606.10 871.90 L606.22 870.92 L606.33 869.95 L606.44 868.97 L606.55 868.00 L606.67 867.03 L606.78 866.05 L606.89 865.08 L607.00 864.10 L607.12 863.13 L607.23 862.16 L607.34 864.00 L607.45 865.85 L607.57 867.70 L607.68 869.55 L607.79 871.39 L607.90 873.24 L608.02 875.09 L608.13 876.93 L608.24 878.78 L608.35 880.63 L608.47 879.00 L608.58 877.37 L608.69 875.73 L608.80 874.10 L608.92 872.47 L609.03 870.84 L609.14 869.21 L609.25 867.58 L609.37 865.95 L609.48 864.31 L609.59 866.08 L609.70 867.84 L609.81 869.61 L609.93 871.37 L610.04 873.13 L610.15 874.90 L610.26 876.66 L610.38 878.42 L610.49 880.19 L610.60 881.95 L610.71 880.55 L610.83 879.15 L610.94 877.75 L611.05 876.35 L611.16 874.96 L611.28 873.56 L611.39 872.16 L611.50 870.76 L611.61 869.36 L611.73 867.96 L611.84 868.26 L611.95 868.55 L612.06 868.84 L612.18 869.14 L612.29 869.43 L612.40 869.73 L612.51 870.02 L612.63 870.32 L612.74 870.61 L612.85 870.91 L612.96 871.52 L613.08 872.13 L613.19 872.75 L613.30 873.36 L613.41 873.98 L613.53 874.59 L613.64 875.20 L613.75 875.82 L613.86 876.43 L613.98 877.04 L614.09 875.90 L614.20 874.75 L614.31 873.61 L614.43 872.46 L614.54 871.31 L614.65 870.17 L614.76 869.02 L614.88 867.88 L614.99 866.73 L615.10 865.58" stroke="#00c8c8" stroke-linejoin="bevel" clip-path="url(#clipB)"/>
<path d="M390.20 805.16 L390.48 805.02 L390.76 804.89 L391.04 804.75 L391.32 804.61 L391.61 804.87 L391.89 805.13 L392.17 805.39 L392.45 805.65 L392.73 805.42 L393.01 805.19 L393.29 804.96 L393.57 804.73 L393.85 804.88 L394.14 805.03 L394.42 805.17 L394.70 805.32 L394.98 805.32 L395.26 805.32 L395.54 805.32 L395.82 805.32 L396.10 805.06 L396.38 804.81 L396.67 804.55 L396.95 804.29 L397.23 804.50 L397.51 804.70 L397.79 804.91 L398.07 805.12 L398.35 805.14 L398.63 805.16 L398.91 805.19 L399.20 805.21 L399.48 805.12 L399.76 805.03 L400.04 804.93 L400.32 804.84 L400.60 804.79 L400.88 804.75 L401.16 804.70 L401.44 804.65 L401.73 804.79 L402.01 804.92 L402.29 805.06 L402.57 805.20 L402.85 805.12 L403.13 805.05 L403.41 804.97 L403.69 804.90 L403.98 805.09 L404.26 805.27 L404.54 805.46 L404.82 805.64 L405.10 805.57 L405.38 805.50 L405.66 805.42 L405.94 805.35 L406.22 805.36 L406.51 805.36 L406.79 805.37 L407.07 805.38 L407.35 805.49 L407.63 805.59 L407.91 805.70 L408.19 805.80 L408.47 805.82 L408.75 805.84 L409.04 805.86 L409.32 805.88 L409.60 805.90 L409.88 805.91 L410.16 805.92 L410.44 805.94 L410.72 805.77 L411.00 805.60 L411.28 805.44 L411.57 805.27 L411.85 805.26 L412.13 805.25 L412.41 805.25 L412.69 805.24 L412.97 805.25 L413.25 805.27 L413.53 805.29 L413.81 805.30 L414.10 805.26 L414.38 805.21 L414.66 805.16 L414.94 805.11 L415.22 805.28 L415.50 805.45 L415.78 805.61 L416.06 805.78 L416.34 805.63 L416.63 805.48 L416.91 805.33 L417.19 805.18 L417.47 805.14 L417.75 805.10 L418.03 805.06 L418.31 805.02 L418.59 804.96 L418.87 804.90 L419.16 804.83 L419.44 804.77 L419.72 804.96 L420.00 805.15 L420.28 805.34 L420.56 805.53 L420.84 805.47 L421.12 805.42 L421.40 805.36 L421.69 805.31 L421.97 805.50 L422.25 805.69 L422.53 805.88 L422.81 806.07 L423.09 805.89 L423.37 805.71 L423.65 805.53 L423.94 805.35 L424.22 805.55 L424.50 805.75 L424.78 805.95 L425.06 806.15 L425.34 806.05 L425.62 805.96 L425.90 805.87 L426.18 805.77 L426.47 805.47 L426.75 805.17 L427.03 804.87 L427.31 804.57 L427.59 804.96 L427.87 805.35 L428.15 805.74 L428.43 806.13 L428.71 805.77 L429.00 805.41 L429.28 805.05 L429.56 804.70 L429.84 804.75 L430.12 804.80 L430.40 804.86 L430.68 804.91 L430.96 804.99 L431.24 805.06 L431.53 805.14 L431.81 805.21 L432.09 805.12 L432.37 805.02 L432.65 804.93 L432.93 804.83 L433.21 804.82 L433.49 804.81 L433.77 804.80 L434.06 804.79 L434.34 804.73 L434.62 804.67 L434.90 804.60 L435.18 804.54 L435.46 804.69 L435.74 804.84 L436.02 804.99 L436.30 805.13 L436.59 805.18 L436.87 805.22 L437.15 805.26 L437.43 805.30 L437.71 805.30 L437.99 805.29 L438.27 805.29 L438.55 805.29 L438.83 805.34 L439.12 805.38 L439.40 805.42 L439.68 805.46 L439.96 805.35 L440.24 805.23 L440.52 805.12 L440.80 805.00 L441.08 805.09 L441.36 805.17 L441.65 805.26 L441.93 805.34 L442.21 805.12 L442.49 804.89 L442.77 804.67 L443.05 804.45 L443.33 804.79 L443.61 805.14 L443.89 805.49 L444.18 805.83 L444.46 805.74 L444.74 805.64 L445.02 805.54 L445.30 805.45 L445.58 805.43 L445.86 805.41 L446.14 805.38 L446.43 805.36 L446.71 805.50 L446.99 805.63 L447.27 805.76 L447.55 805.89 L447.83 805.41 L448.11 804.93 L448.39 804.45 L448.67 803.97 L448.96 804.48 L449.24 804.99 L449.52 805.49 L449.80 806.00 L450.08 805.74 L450.36 805.49 L450.64 805.23 L450.92 804.97 L451.20 804.99 L451.49 805.02 L451.77 805.04 L452.05 805.06 L452.33 804.80 L452.61 804.53 L452.89 804.27 L453.17 804.00 L453.45 804.43 L453.73 804.85 L454.02 805.28 L454.30 805.71 L454.58 805.34 L454.86 804.97 L455.14 804.60 L455.42 804.23 L455.70 804.43 L455.98 804.64 L456.26 804.85 L456.55 805.05 L456.83 804.98 L457.11 804.90 L457.39 804.82 L457.67 804.75 L457.95 804.80 L458.23 804.85 L458.51 804.91 L458.79 804.96 L459.08 804.79 L459.36 804.63 L459.64 804.46 L459.92 804.30 L460.20 804.50 L460.48 804.70 L460.76 804.90 L461.04 805.10 L461.32 804.97 L461.61 804.83 L461.89 804.69 L462.17 804.55 L462.45 804.49 L462.73 804.43 L463.01 804.36 L463.29 804.30 L463.57 804.11 L463.85 803.92 L464.14 803.73 L464.42 803.54 L464.70 804.03 L464.98 804.52 L465.26 805.01 L465.54 805.50 L465.82 805.02 L466.10 804.54 L466.38 804.05 L466.67 803.57 L466.95 803.62 L467.23 803.67 L467.51 803.72 L467.79 803.78 L468.07 803.93 L468.35 804.08 L468.63 804.23 L468.91 804.38 L469.20 804.27 L469.48 804.15 L469.76 804.04 L470.04 803.92 L470.32 803.99 L470.60 804.06 L470.88 804.12 L471.16 804.19 L471.45 803.92 L471.73 803.64 L472.01 803.36 L472.29 803.08 L472.57 803.22 L472.85 803.37 L473.13 803.51 L473.41 803.65 L473.69 803.67 L473.98 803.68 L474.26 803.70 L474.54 803.72 L474.82 803.68 L475.10 803.65 L475.38 803.61 L475.66 803.57 L475.94 803.53 L476.22 803.48 L476.51 803.44 L476.79 803.39 L477.07 803.34 L477.35 803.29 L477.63 803.24 L477.91 803.18 L478.19 803.21 L478.47 803.24 L478.75 803.26 L479.04 803.29 L479.32 802.88 L479.60 802.46 L479.88 802.05 L480.16 801.63 L480.44 802.03 L480.72 802.42 L481.00 802.81 L481.28 803.20 L481.57 803.32 L481.85 803.42 L482.13 803.53 L482.41 803.63 L482.69 803.10 L482.97 802.57 L483.25 802.03 L483.53 801.48 L483.81 801.34 L484.10 801.19 L484.38 801.02 L484.66 800.84 L484.94 800.58 L485.22 800.29 L485.50 799.99 L485.78 799.65 L486.06 799.41 L486.34 799.14 L486.63 798.83 L486.91 798.47 L487.19 797.99 L487.47 797.45 L487.75 796.85 L488.03 796.17 L488.31 795.37 L488.59 794.49 L488.87 793.51 L489.16 792.44 L489.44 791.25 L489.72 789.95 L490.00 788.54 L490.28 787.02 L490.56 785.63 L490.84 784.12 L491.12 782.50 L491.40 780.77 L491.69 778.76 L491.97 776.66 L492.25 774.48 L492.53 772.25 L492.81 769.70 L493.09 767.15 L493.37 764.61 L493.65 762.12 L493.94 760.17 L494.22 758.35 L494.50 756.73 L494.78 755.34 L495.06 754.25 L495.34 753.48 L495.62 753.08 L495.90 753.07 L496.18 752.87 L496.47 753.07 L496.75 753.62 L497.03 754.50 L497.31 756.25 L497.59 758.23 L497.87 760.40 L498.15 762.71 L498.43 765.08 L498.71 767.51 L499.00 769.96 L499.28 772.39 L499.56 774.69 L499.84 776.93 L500.12 779.09 L500.40 781.15 L500.68 782.88 L500.96 784.49 L501.24 785.99 L501.53 787.38 L501.81 788.96 L502.09 790.43 L502.37 791.78 L502.65 793.03 L502.93 794.07 L503.21 795.01 L503.49 795.86 L503.77 796.63 L504.06 797.32 L504.34 797.95 L504.62 798.51 L504.90 799.01 L505.18 799.34 L505.46 799.62 L505.74 799.86 L506.02 800.07 L506.30 800.15 L506.59 800.20 L506.87 800.22 L507.15 800.23 L507.43 800.60 L507.71 800.95 L507.99 801.28 L508.27 801.60 L508.55 801.86 L508.83 802.10 L509.12 802.33 L509.40 802.56 L509.68 802.41 L509.96 802.25 L510.24 802.09 L510.52 801.92 L510.80 802.07 L511.08 802.22 L511.36 802.37 L511.65 802.51 L511.93 802.49 L512.21 802.46 L512.49 802.43 L512.77 802.39 L513.05 802.41 L513.33 802.42 L513.61 802.43 L513.89 802.44 L514.18 802.66 L514.46 802.87 L514.74 803.08 L515.02 803.28 L515.30 803.32 L515.58 803.36 L515.86 803.40 L516.14 803.44 L516.43 803.46 L516.71 803.49 L516.99 803.51 L517.27 803.54 L517.55 803.70 L517.83 803.86 L518.11 804.02 L518.39 804.18 L518.67 804.00 L518.96 803.81 L519.24 803.63 L519.52 803.44 L519.80 803.38 L520.08 803.33 L520.36 803.27 L520.64 803.21 L520.92 803.38 L521.20 803.54 L521.49 803.71 L521.77 803.87 L522.05 803.94 L522.33 804.01 L522.61 804.08 L522.89 804.15 L523.17 804.18 L523.45 804.20 L523.73 804.22 L524.02 804.24 L524.30 804.32 L524.58 804.40 L524.86 804.48 L525.14 804.56 L525.42 804.58 L525.70 804.60 L525.98 804.62 L526.26 804.63 L526.55 804.60 L526.83 804.57 L527.11 804.53 L527.39 804.50 L527.67 804.57 L527.95 804.63 L528.23 804.70 L528.51 804.77 L528.79 804.73 L529.08 804.69 L529.36 804.66 L529.64 804.62 L529.92 804.77 L530.20 804.92 L530.48 805.06 L530.76 805.21 L531.04 804.99 L531.32 804.77 L531.61 804.56 L531.89 804.34 L532.17 804.38 L532.45 804.43 L532.73 804.47 L533.01 804.52 L533.29 804.67 L533.57 804.82 L533.85 804.98 L534.14 805.13 L534.42 805.27 L534.70 805.42 L534.98 805.56 L535.26 805.71 L535.54 805.44 L535.82 805.18 L536.10 804.91 L536.38 804.65 L536.67 804.52 L536.95 804.40 L537.23 804.27 L537.51 804.15 L537.79 804.38 L538.07 804.60 L538.35 804.83 L538.63 805.05 L538.92 805.03 L539.20 805.01 L539.48 804.98 L539.76 804.96 L540.04 804.97 L540.32 804.99 L540.60 805.01 L540.88 805.02 L541.16 804.88 L541.45 804.74 L541.73 804.60 L542.01 804.46 L542.29 804.66 L542.57 804.85 L542.85 805.04 L543.13 805.23 L543.41 805.01 L543.69 804.79 L543.98 804.57 L544.26 804.35 L544.54 804.51 L544.82 804.66 L545.10 804.82 L545.38 804.98 L545.66 804.84 L545.94 804.70 L546.22 804.56 L546.51 804.41 L546.79 804.52 L547.07 804.64 L547.35 804.75 L547.63 804.86 L547.91 804.89 L548.19 804.93 L548.47 804.96 L548.75 805.00 L549.04 805.15 L549.32 805.30 L549.60 805.45 L549.88 805.61 L550.16 805.52 L550.44 805.43 L550.72 805.33 L551.00 805.24 L551.28 805.20 L551.57 805.15 L551.85 805.10 L552.13 805.05 L552.41 804.95 L552.69 804.84 L552.97 804.74 L553.25 804.63 L553.53 804.68 L553.81 804.73 L554.10 804.79 L554.38 804.84 L554.66 804.95 L554.94 805.07 L555.22 805.18 L555.50 805.30 L555.78 805.17 L556.06 805.04 L556.34 804.91 L556.63 804.78 L556.91 804.72 L557.19 804.65 L557.47 804.58 L557.75 804.52 L558.03 804.66 L558.31 804.79 L558.59 804.93 L558.88 805.07 L559.16 805.11 L559.44 805.14 L559.72 805.18 L560.00 805.22 L560.28 805.21 L560.56 805.21 L560.84 805.21 L561.12 805.20 L561.41 805.06 L561.69 804.92 L561.97 804.78 L562.25 804.64 L562.53 804.67 L562.81 804.71 L563.09 804.74 L563.37 804.78 L563.65 804.95 L563.94 805.13 L564.22 805.31 L564.50 805.48 L564.78 805.33 L565.06 805.18 L565.34 805.02 L565.62 804.87 L565.90 804.97 L566.18 805.08 L566.47 805.18 L566.75 805.29 L567.03 805.32 L567.31 805.35 L567.59 805.39 L567.87 805.42 L568.15 805.19 L568.43 804.95 L568.71 804.72 L569.00 804.48 L569.28 804.53 L569.56 804.58 L569.84 804.63 L570.12 804.69 L570.40 804.87 L570.68 805.06 L570.96 805.24 L571.24 805.43 L571.53 805.33 L571.81 805.24 L572.09 805.15 L572.37 805.05 L572.65 805.00 L572.93 804.95 L573.21 804.90 L573.49 804.86 L573.77 804.99 L574.06 805.13 L574.34 805.27 L574.62 805.40 L574.90 805.34 L575.18 805.28 L575.46 805.22 L575.74 805.16 L576.02 805.07 L576.30 804.98 L576.59 804.89 L576.87 804.79 L577.15 805.09 L577.43 805.38 L577.71 805.67 L577.99 805.97 L578.27 805.72 L578.55 805.47 L578.83 805.21 L579.12 804.96 L579.40 804.92 L579.68 804.87 L579.96 804.82 L580.24 804.77 L580.52 804.80 L580.80 804.83 L581.08 804.86 L581.37 804.89 L581.65 805.11 L581.93 805.33 L582.21 805.55 L582.49 805.77 L582.77 805.57 L583.05 805.38 L583.33 805.18 L583.61 804.98 L583.90 805.13 L584.18 805.27 L584.46 805.41 L584.74 805.55 L585.02 805.38 L585.30 805.21 L585.58 805.04 L585.86 804.87 L586.14 804.87 L586.43 804.87 L586.71 804.86 L586.99 804.86 L587.27 804.91 L587.55 804.95 L587.83 805.00 L588.11 805.05 L588.39 805.17 L588.67 805.28 L588.96 805.40 L589.24 805.52 L589.52 805.50 L589.80 805.48 L590.08 805.46 L590.36 805.44 L590.64 805.27 L590.92 805.10 L591.20 804.93 L591.49 804.75 L591.77 804.96 L592.05 805.17 L592.33 805.38 L592.61 805.59 L592.89 805.43 L593.17 805.26 L593.45 805.10 L593.73 804.93 L594.02 804.93 L594.30 804.93 L594.58 804.93 L594.86 804.93 L595.14 805.02 L595.42 805.12 L595.70 805.21 L595.98 805.30 L596.26 804.99 L596.55 804.67 L596.83 804.35 L597.11 804.03 L597.39 804.31 L597.67 804.59 L597.95 804.87 L598.23 805.14 L598.51 804.90 L598.79 804.65 L599.08 804.40 L599.36 804.16 L599.64 804.65 L599.92 805.15 L600.20 805.65 L600.48 806.14 L600.76 806.17 L601.04 806.20 L601.32 806.22 L601.61 806.25 L601.89 805.87 L602.17 805.49 L602.45 805.10 L602.73 804.72 L603.01 804.76 L603.29 804.80 L603.57 804.84 L603.86 804.89 L604.14 805.00 L604.42 805.11 L604.70 805.23 L604.98 805.34 L605.26 805.31 L605.54 805.28 L605.82 805.25 L606.10 805.22 L606.39 805.44 L606.67 805.66 L606.95 805.88 L607.23 806.10 L607.51 805.95 L607.79 805.80 L608.07 805.65 L608.35 805.50 L608.63 805.55 L608.92 805.59 L609.20 805.64 L609.48 805.69 L609.76 805.59 L610.04 805.50 L610.32 805.40 L610.60 805.31 L610.88 805.17 L611.16 805.04 L611.45 804.91 L611.73 804.78 L612.01 804.88 L612.29 804.98 L612.57 805.08 L612.85 805.18 L613.13 805.14 L613.41 805.10 L613.69 805.07 L613.98 805.03 L614.26 805.16 L614.54 805.28 L614.82 805.41 L615.10 805.54" stroke="#ff0000"/>
<path d="M390.20 737.06 L390.48 737.02 L390.76 736.98 L391.04 736.93 L391.32 736.89 L391.61 736.91 L391.89 736.94 L392.17 736.96 L392.45 736.98 L392.73 736.91 L393.01 736.84 L393.29 736.77 L393.57 736.70 L393.85 736.64 L394.14 736.59 L394.42 736.53 L394.70 736.47 L394.98 736.46 L395.26 736.46 L395.54 736.45 L395.82 736.45 L396.10 736.36 L396.38 736.27 L396.67 736.18 L396.95 736.09 L397.23 736.18 L397.51 736.27 L397.79 736.37 L398.07 736.46 L398.35 736.38 L398.63 736.31 L398.91 736.23 L399.20 736.16 L399.48 736.17 L399.76 736.18 L400.04 736.20 L400.32 736.22 L400.60 736.20 L400.88 736.18 L401.16 736.17 L401.44 736.16 L401.73 736.11 L402.01 736.07 L402.29 736.03 L402.57 735.98 L402.85 735.96 L403.13 735.93 L403.41 735.90 L403.69 735.88 L403.98 735.87 L404.26 735.86 L404.54 735.85 L404.82 735.85 L405.10 735.85 L405.38 735.85 L405.66 735.86 L405.94 735.86 L406.22 735.79 L406.51 735.71 L406.79 735.64 L407.07 735.57 L407.35 735.66 L407.63 735.75 L407.91 735.84 L408.19 735.93 L408.47 736.08 L408.75 736.23 L409.04 736.38 L409.32 736.53 L409.60 736.46 L409.88 736.40 L410.16 736.33 L410.44 736.27 L410.72 736.34 L411.00 736.41 L411.28 736.48 L411.57 736.55 L411.85 736.57 L412.13 736.59 L412.41 736.61 L412.69 736.63 L412.97 736.57 L413.25 736.50 L413.53 736.43 L413.81 736.36 L414.10 736.46 L414.38 736.57 L414.66 736.67 L414.94 736.77 L415.22 736.88 L415.50 736.98 L415.78 737.09 L416.06 737.20 L416.34 737.10 L416.63 737.00 L416.91 736.90 L417.19 736.80 L417.47 736.85 L417.75 736.89 L418.03 736.93 L418.31 736.98 L418.59 737.03 L418.87 737.09 L419.16 737.14 L419.44 737.19 L419.72 737.19 L420.00 737.18 L420.28 737.18 L420.56 737.17 L420.84 737.16 L421.12 737.15 L421.40 737.13 L421.69 737.12 L421.97 737.09 L422.25 737.06 L422.53 737.03 L422.81 737.00 L423.09 737.02 L423.37 737.04 L423.65 737.06 L423.94 737.08 L424.22 737.05 L424.50 737.02 L424.78 737.00 L425.06 736.97 L425.34 736.87 L425.62 736.78 L425.90 736.68 L426.18 736.59 L426.47 736.72 L426.75 736.85 L427.03 736.97 L427.31 737.10 L427.59 737.10 L427.87 737.09 L428.15 737.08 L428.43 737.08 L428.71 737.04 L429.00 737.00 L429.28 736.97 L429.56 736.93 L429.84 736.85 L430.12 736.77 L430.40 736.70 L430.68 736.62 L430.96 736.70 L431.24 736.78 L431.53 736.86 L431.81 736.95 L432.09 736.83 L432.37 736.70 L432.65 736.58 L432.93 736.46 L433.21 736.59 L433.49 736.72 L433.77 736.85 L434.06 736.97 L434.34 736.94 L434.62 736.92 L434.90 736.89 L435.18 736.86 L435.46 736.79 L435.74 736.73 L436.02 736.66 L436.30 736.60 L436.59 736.62 L436.87 736.65 L437.15 736.67 L437.43 736.69 L437.71 736.66 L437.99 736.63 L438.27 736.60 L438.55 736.57 L438.83 736.49 L439.12 736.42 L439.40 736.34 L439.68 736.26 L439.96 736.23 L440.24 736.19 L440.52 736.15 L440.80 736.11 L441.08 736.11 L441.36 736.12 L441.65 736.12 L441.93 736.12 L442.21 736.12 L442.49 736.10 L442.77 736.09 L443.05 736.08 L443.33 735.96 L443.61 735.85 L443.89 735.73 L444.18 735.61 L444.46 735.62 L444.74 735.63 L445.02 735.63 L445.30 735.64 L445.58 735.63 L445.86 735.62 L446.14 735.60 L446.43 735.59 L446.71 735.46 L446.99 735.34 L447.27 735.21 L447.55 735.08 L447.83 735.13 L448.11 735.17 L448.39 735.22 L448.67 735.26 L448.96 735.14 L449.24 735.02 L449.52 734.89 L449.80 734.76 L450.08 734.65 L450.36 734.54 L450.64 734.43 L450.92 734.32 L451.20 734.26 L451.49 734.19 L451.77 734.12 L452.05 734.05 L452.33 733.96 L452.61 733.87 L452.89 733.77 L453.17 733.67 L453.45 733.48 L453.73 733.27 L454.02 733.06 L454.30 732.83 L454.58 732.68 L454.86 732.50 L455.14 732.31 L455.42 732.08 L455.70 731.78 L455.98 731.44 L456.26 731.06 L456.55 730.62 L456.83 730.15 L457.11 729.60 L457.39 728.97 L457.67 728.26 L457.95 727.31 L458.23 726.25 L458.51 725.08 L458.79 723.78 L459.08 722.56 L459.36 721.21 L459.64 719.72 L459.92 718.09 L460.20 716.14 L460.48 714.06 L460.76 711.87 L461.04 709.57 L461.32 707.32 L461.61 705.01 L461.89 702.68 L462.17 700.34 L462.45 698.05 L462.73 695.84 L463.01 693.76 L463.29 691.85 L463.57 690.08 L463.85 688.58 L464.14 687.39 L464.42 686.54 L464.70 686.12 L464.98 686.10 L465.26 686.51 L465.54 687.36 L465.82 688.59 L466.10 690.18 L466.38 692.08 L466.67 694.22 L466.95 696.62 L467.23 699.15 L467.51 701.76 L467.79 704.40 L468.07 706.88 L468.35 709.31 L468.63 711.67 L468.91 713.91 L469.20 716.06 L469.48 718.08 L469.76 719.94 L470.04 721.64 L470.32 723.24 L470.60 724.68 L470.88 725.97 L471.16 727.10 L471.45 728.04 L471.73 728.85 L472.01 729.53 L472.29 730.09 L472.57 730.55 L472.85 730.90 L473.13 731.17 L473.41 731.35 L473.69 731.55 L473.98 731.67 L474.26 731.74 L474.54 731.75 L474.82 731.58 L475.10 731.37 L475.38 731.13 L475.66 730.86 L475.94 730.84 L476.22 730.81 L476.51 730.80 L476.79 730.82 L477.07 730.63 L477.35 730.51 L477.63 730.45 L477.91 730.45 L478.19 730.65 L478.47 730.88 L478.75 731.13 L479.04 731.41 L479.32 731.41 L479.60 731.42 L479.88 731.45 L480.16 731.49 L480.44 731.74 L480.72 731.99 L481.00 732.24 L481.28 732.50 L481.57 732.63 L481.85 732.75 L482.13 732.88 L482.41 732.99 L482.69 733.29 L482.97 733.58 L483.25 733.86 L483.53 734.13 L483.81 734.37 L484.10 734.61 L484.38 734.84 L484.66 735.06 L484.94 735.02 L485.22 734.98 L485.50 734.93 L485.78 734.87 L486.06 735.11 L486.34 735.34 L486.63 735.56 L486.91 735.79 L487.19 735.86 L487.47 735.94 L487.75 736.01 L488.03 736.07 L488.31 736.08 L488.59 736.09 L488.87 736.09 L489.16 736.09 L489.44 736.10 L489.72 736.11 L490.00 736.12 L490.28 736.12 L490.56 736.22 L490.84 736.32 L491.12 736.41 L491.40 736.51 L491.69 736.50 L491.97 736.50 L492.25 736.50 L492.53 736.49 L492.81 736.62 L493.09 736.76 L493.37 736.89 L493.65 737.02 L493.94 736.86 L494.22 736.70 L494.50 736.53 L494.78 736.37 L495.06 736.48 L495.34 736.59 L495.62 736.70 L495.90 736.81 L496.18 736.82 L496.47 736.83 L496.75 736.83 L497.03 736.84 L497.31 736.83 L497.59 736.82 L497.87 736.81 L498.15 736.80 L498.43 736.83 L498.71 736.87 L499.00 736.90 L499.28 736.93 L499.56 736.94 L499.84 736.95 L500.12 736.96 L500.40 736.97 L500.68 737.03 L500.96 737.10 L501.24 737.17 L501.53 737.24 L501.81 737.20 L502.09 737.17 L502.37 737.14 L502.65 737.10 L502.93 737.08 L503.21 737.06 L503.49 737.04 L503.77 737.02 L504.06 737.00 L504.34 736.97 L504.62 736.95 L504.90 736.92 L505.18 736.99 L505.46 737.05 L505.74 737.12 L506.02 737.18 L506.30 737.18 L506.59 737.17 L506.87 737.17 L507.15 737.16 L507.43 737.16 L507.71 737.15 L507.99 737.14 L508.27 737.13 L508.55 737.13 L508.83 737.12 L509.12 737.11 L509.40 737.10 L509.68 737.13 L509.96 737.15 L510.24 737.17 L510.52 737.19 L510.80 737.22 L511.08 737.25 L511.36 737.27 L511.65 737.30 L511.93 737.32 L512.21 737.34 L512.49 737.35 L512.77 737.37 L513.05 737.29 L513.33 737.21 L513.61 737.13 L513.89 737.05 L514.18 737.09 L514.46 737.14 L514.74 737.18 L515.02 737.23 L515.30 737.24 L515.58 737.26 L515.86 737.28 L516.14 737.29 L516.43 737.12 L516.71 736.95 L516.99 736.77 L517.27 736.60 L517.55 736.73 L517.83 736.87 L518.11 737.00 L518.39 737.14 L518.67 737.14 L518.96 737.15 L519.24 737.15 L519.52 737.15 L519.80 737.19 L520.08 737.23 L520.36 737.27 L520.64 737.30 L520.92 737.36 L521.20 737.43 L521.49 737.49 L521.77 737.55 L522.05 737.44 L522.33 737.33 L522.61 737.22 L522.89 737.12 L523.17 737.18 L523.45 737.24 L523.73 737.31 L524.02 737.37 L524.30 737.37 L524.58 737.36 L524.86 737.36 L525.14 737.35 L525.42 737.30 L525.70 737.25 L525.98 737.21 L526.26 737.16 L526.55 737.16 L526.83 737.16 L527.11 737.16 L527.39 737.16 L527.67 737.21 L527.95 737.25 L528.23 737.29 L528.51 737.33 L528.79 737.34 L529.08 737.35 L529.36 737.37 L529.64 737.38 L529.92 737.27 L530.20 737.17 L530.48 737.06 L530.76 736.96 L531.04 737.04 L531.32 737.12 L531.61 737.19 L531.89 737.27 L532.17 737.36 L532.45 737.44 L532.73 737.52 L533.01 737.60 L533.29 737.51 L533.57 737.42 L533.85 737.33 L534.14 737.24 L534.42 737.28 L534.70 737.31 L534.98 737.34 L535.26 737.37 L535.54 737.38 L535.82 737.38 L536.10 737.39 L536.38 737.40 L536.67 737.37 L536.95 737.33 L537.23 737.30 L537.51 737.27 L537.79 737.29 L538.07 737.32 L538.35 737.34 L538.63 737.36 L538.92 737.27 L539.20 737.18 L539.48 737.09 L539.76 737.01 L540.04 737.10 L540.32 737.19 L540.60 737.28 L540.88 737.38 L541.16 737.37 L541.45 737.37 L541.73 737.37 L542.01 737.37 L542.29 737.32 L542.57 737.28 L542.85 737.23 L543.13 737.19 L543.41 737.27 L543.69 737.36 L543.98 737.45 L544.26 737.54 L544.54 737.46 L544.82 737.38 L545.10 737.30 L545.38 737.22 L545.66 737.28 L545.94 737.33 L546.22 737.39 L546.51 737.44 L546.79 737.38 L547.07 737.32 L547.35 737.25 L547.63 737.19 L547.91 737.29 L548.19 737.40 L548.47 737.50 L548.75 737.61 L549.04 737.54 L549.32 737.48 L549.60 737.41 L549.88 737.35 L550.16 737.45 L550.44 737.56 L550.72 737.66 L551.00 737.76 L551.28 737.70 L551.57 737.65 L551.85 737.59 L552.13 737.53 L552.41 737.51 L552.69 737.48 L552.97 737.46 L553.25 737.44 L553.53 737.41 L553.81 737.39 L554.10 737.36 L554.38 737.34 L554.66 737.27 L554.94 737.19 L555.22 737.12 L555.50 737.04 L555.78 737.05 L556.06 737.06 L556.34 737.06 L556.63 737.07 L556.91 737.23 L557.19 737.39 L557.47 737.56 L557.75 737.72 L558.03 737.69 L558.31 737.66 L558.59 737.63 L558.88 737.60 L559.16 737.50 L559.44 737.40 L559.72 737.30 L560.00 737.19 L560.28 737.24 L560.56 737.28 L560.84 737.32 L561.12 737.36 L561.41 737.45 L561.69 737.55 L561.97 737.64 L562.25 737.73 L562.53 737.64 L562.81 737.54 L563.09 737.45 L563.37 737.35 L563.65 737.44 L563.94 737.52 L564.22 737.60 L564.50 737.68 L564.78 737.67 L565.06 737.66 L565.34 737.64 L565.62 737.63 L565.90 737.65 L566.18 737.67 L566.47 737.69 L566.75 737.71 L567.03 737.66 L567.31 737.61 L567.59 737.56 L567.87 737.51 L568.15 737.38 L568.43 737.25 L568.71 737.13 L569.00 737.00 L569.28 737.09 L569.56 737.19 L569.84 737.29 L570.12 737.38 L570.40 737.41 L570.68 737.43 L570.96 737.46 L571.24 737.48 L571.53 737.35 L571.81 737.21 L572.09 737.08 L572.37 736.95 L572.65 737.10 L572.93 737.25 L573.21 737.40 L573.49 737.56 L573.77 737.54 L574.06 737.52 L574.34 737.51 L574.62 737.49 L574.90 737.50 L575.18 737.50 L575.46 737.51 L575.74 737.52 L576.02 737.48 L576.30 737.45 L576.59 737.41 L576.87 737.38 L577.15 737.42 L577.43 737.45 L577.71 737.49 L577.99 737.53 L578.27 737.44 L578.55 737.35 L578.83 737.26 L579.12 737.17 L579.40 737.26 L579.68 737.35 L579.96 737.44 L580.24 737.53 L580.52 737.48 L580.80 737.44 L581.08 737.40 L581.37 737.35 L581.65 737.37 L581.93 737.39 L582.21 737.40 L582.49 737.42 L582.77 737.48 L583.05 737.53 L583.33 737.59 L583.61 737.64 L583.90 737.65 L584.18 737.66 L584.46 737.66 L584.74 737.67 L585.02 737.62 L585.30 737.57 L585.58 737.53 L585.86 737.48 L586.14 737.59 L586.43 737.71 L586.71 737.82 L586.99 737.94 L587.27 737.82 L587.55 737.70 L587.83 737.58 L588.11 737.47 L588.39 737.46 L588.67 737.46 L588.96 737.46 L589.24 737.45 L589.52 737.45 L589.80 737.45 L590.08 737.45 L590.36 737.44 L590.64 737.45 L590.92 737.46 L591.20 737.48 L591.49 737.49 L591.77 737.47 L592.05 737.44 L592.33 737.42 L592.61 737.40 L592.89 737.44 L593.17 737.47 L593.45 737.51 L593.73 737.54 L594.02 737.49 L594.30 737.44 L594.58 737.39 L594.86 737.34 L595.14 737.46 L595.42 737.57 L595.70 737.69 L595.98 737.81 L596.26 737.68 L596.55 737.55 L596.83 737.42 L597.11 737.29 L597.39 737.38 L597.67 737.47 L597.95 737.56 L598.23 737.65 L598.51 737.58 L598.79 737.52 L599.08 737.45 L599.36 737.38 L599.64 737.42 L599.92 737.47 L600.20 737.52 L600.48 737.57 L600.76 737.57 L601.04 737.57 L601.32 737.56 L601.61 737.56 L601.89 737.58 L602.17 737.60 L602.45 737.62 L602.73 737.64 L603.01 737.53 L603.29 737.42 L603.57 737.31 L603.86 737.20 L604.14 737.33 L604.42 737.45 L604.70 737.57 L604.98 737.70 L605.26 737.70 L605.54 737.71 L605.82 737.72 L606.10 737.72 L606.39 737.65 L606.67 737.58 L606.95 737.51 L607.23 737.43 L607.51 737.43 L607.79 737.43 L608.07 737.43 L608.35 737.43 L608.63 737.44 L608.92 737.45 L609.20 737.46 L609.48 737.47 L609.76 737.52 L610.04 737.57 L610.32 737.62 L610.60 737.68 L610.88 737.66 L611.16 737.64 L611.45 737.63 L611.73 737.61 L612.01 737.53 L612.29 737.45 L612.57 737.37 L612.85 737.30 L613.13 737.39 L613.41 737.49 L613.69 737.59 L613.98 737.69 L614.26 737.61 L614.54 737.52 L614.82 737.44 L615.10 737.36" stroke="#0000ff"/>
<path d="M390.20 668.65 L390.48 668.63 L390.76 668.62 L391.04 668.60 L391.32 668.52 L391.61 668.31 L391.89 668.11 L392.17 667.92 L392.45 668.11 L392.73 668.41 L393.01 668.71 L393.29 668.90 L393.57 668.66 L393.85 668.43 L394.14 668.19 L394.42 668.22 L394.70 668.43 L394.98 668.64 L395.26 668.85 L395.54 668.49 L395.82 668.13 L396.10 667.76 L396.38 667.58 L396.67 667.66 L396.95 667.74 L397.23 667.82 L397.51 667.73 L397.79 667.59 L398.07 667.46 L398.35 667.38 L398.63 667.56 L398.91 667.74 L399.20 667.92 L399.48 667.92 L399.76 667.81 L400.04 667.70 L400.32 667.59 L400.60 667.64 L400.88 667.69 L401.16 667.75 L401.44 667.79 L401.73 667.81 L402.01 667.84 L402.29 667.86 L402.57 667.78 L402.85 667.66 L403.13 667.54 L403.41 667.47 L403.69 667.59 L403.98 667.71 L404.26 667.83 L404.54 667.80 L404.82 667.67 L405.10 667.54 L405.38 667.41 L405.66 667.26 L405.94 667.10 L406.22 666.93 L406.51 666.83 L406.79 666.83 L407.07 666.83 L407.35 666.82 L407.63 666.79 L407.91 666.76 L408.19 666.72 L408.47 666.61 L408.75 666.25 L409.04 665.89 L409.32 665.52 L409.60 665.45 L409.88 665.57 L410.16 665.69 L410.44 665.81 L410.72 665.78 L411.00 665.74 L411.28 665.71 L411.57 665.61 L411.85 665.44 L412.13 665.26 L412.41 665.08 L412.69 665.03 L412.97 665.01 L413.25 664.99 L413.53 664.95 L413.81 664.85 L414.10 664.75 L414.38 664.65 L414.66 664.56 L414.94 664.47 L415.22 664.38 L415.50 664.29 L415.78 663.96 L416.06 663.63 L416.34 663.30 L416.63 663.15 L416.91 663.27 L417.19 663.39 L417.47 663.51 L417.75 663.45 L418.03 663.35 L418.31 663.24 L418.59 663.12 L418.87 662.97 L419.16 662.82 L419.44 662.67 L419.72 662.47 L420.00 662.23 L420.28 661.99 L420.56 661.75 L420.84 661.88 L421.12 662.01 L421.40 662.13 L421.69 662.18 L421.97 662.10 L422.25 662.03 L422.53 661.95 L422.81 661.57 L423.09 661.11 L423.37 660.65 L423.65 660.32 L423.94 660.57 L424.22 660.81 L424.50 661.05 L424.78 660.95 L425.06 660.64 L425.34 660.31 L425.62 659.98 L425.90 659.64 L426.18 659.29 L426.47 658.93 L426.75 658.53 L427.03 658.08 L427.31 657.63 L427.59 657.16 L427.87 657.07 L428.15 657.06 L428.43 657.03 L428.71 656.93 L429.00 656.67 L429.28 656.37 L429.56 656.05 L429.84 655.41 L430.12 654.55 L430.40 653.64 L430.68 652.65 L430.96 652.02 L431.24 651.32 L431.53 650.56 L431.81 649.68 L432.09 648.67 L432.37 647.63 L432.65 646.51 L432.93 645.21 L433.21 643.80 L433.49 642.32 L433.77 640.81 L434.06 639.35 L434.34 637.85 L434.62 636.23 L434.90 634.50 L435.18 632.75 L435.46 631.05 L435.74 629.46 L436.02 627.92 L436.30 626.42 L436.59 625.08 L436.87 623.89 L437.15 622.68 L437.43 621.59 L437.71 620.93 L437.99 621.10 L438.27 621.86 L438.55 622.86 L438.83 623.88 L439.12 625.19 L439.40 626.66 L439.68 628.26 L439.96 629.90 L440.24 631.70 L440.52 633.83 L440.80 636.06 L441.08 637.93 L441.36 639.44 L441.65 640.87 L441.93 642.29 L442.21 643.61 L442.49 644.61 L442.77 645.19 L443.05 645.67 L443.33 646.12 L443.61 646.51 L443.89 646.79 L444.18 646.83 L444.46 646.83 L444.74 646.82 L445.02 646.73 L445.30 646.60 L445.58 646.48 L445.86 646.37 L446.14 646.57 L446.43 646.83 L446.71 647.14 L446.99 647.47 L447.27 647.77 L447.55 648.11 L447.83 648.47 L448.11 648.77 L448.39 649.06 L448.67 649.35 L448.96 649.63 L449.24 650.00 L449.52 650.40 L449.80 650.81 L450.08 651.23 L450.36 651.64 L450.64 652.06 L450.92 652.48 L451.20 653.11 L451.49 653.72 L451.77 654.33 L452.05 654.68 L452.33 654.66 L452.61 654.61 L452.89 654.56 L453.17 654.93 L453.45 655.40 L453.73 655.86 L454.02 656.31 L454.30 656.72 L454.58 657.11 L454.86 657.51 L455.14 657.71 L455.42 657.79 L455.70 657.86 L455.98 657.94 L456.26 658.27 L456.55 658.60 L456.83 658.92 L457.11 659.23 L457.39 659.51 L457.67 659.79 L457.95 660.06 L458.23 660.22 L458.51 660.35 L458.79 660.48 L459.08 660.60 L459.36 660.70 L459.64 660.80 L459.92 660.90 L460.20 661.17 L460.48 661.56 L460.76 661.95 L461.04 662.34 L461.32 662.44 L461.61 662.55 L461.89 662.65 L462.17 662.77 L462.45 662.93 L462.73 663.08 L463.01 663.22 L463.29 663.68 L463.57 664.20 L463.85 664.72 L464.14 665.16 L464.42 665.28 L464.70 665.39 L464.98 665.49 L465.26 665.53 L465.54 665.52 L465.82 665.50 L466.10 665.49 L466.38 665.86 L466.67 666.23 L466.95 666.59 L467.23 666.79 L467.51 666.75 L467.79 666.69 L468.07 666.64 L468.35 666.57 L468.63 666.50 L468.91 666.42 L469.20 666.38 L469.48 666.48 L469.76 666.58 L470.04 666.68 L470.32 666.78 L470.60 666.89 L470.88 667.00 L471.16 667.11 L471.45 667.42 L471.73 667.73 L472.01 668.04 L472.29 668.07 L472.57 667.68 L472.85 667.29 L473.13 666.90 L473.41 667.01 L473.69 667.25 L473.98 667.48 L474.26 667.68 L474.54 667.70 L474.82 667.72 L475.10 667.74 L475.38 667.79 L475.66 667.86 L475.94 667.93 L476.22 667.99 L476.51 668.26 L476.79 668.52 L477.07 668.78 L477.35 668.94 L477.63 668.94 L477.91 668.93 L478.19 668.93 L478.47 668.93 L478.75 668.92 L479.04 668.92 L479.32 668.85 L479.60 668.54 L479.88 668.22 L480.16 667.90 L480.44 667.95 L480.72 668.25 L481.00 668.54 L481.28 668.84 L481.57 668.78 L481.85 668.73 L482.13 668.68 L482.41 668.65 L482.69 668.66 L482.97 668.66 L483.25 668.67 L483.53 668.61 L483.81 668.53 L484.10 668.45 L484.38 668.39 L484.66 668.41 L484.94 668.42 L485.22 668.43 L485.50 668.45 L485.78 668.48 L486.06 668.51 L486.34 668.54 L486.63 668.70 L486.91 668.87 L487.19 669.03 L487.47 669.21 L487.75 669.41 L488.03 669.60 L488.31 669.80 L488.59 669.57 L488.87 669.23 L489.16 668.89 L489.44 668.61 L489.72 668.60 L490.00 668.60 L490.28 668.59 L490.56 668.52 L490.84 668.42 L491.12 668.32 L491.40 668.22 L491.69 668.36 L491.97 668.50 L492.25 668.64 L492.53 668.74 L492.81 668.80 L493.09 668.85 L493.37 668.90 L493.65 668.83 L493.94 668.72 L494.22 668.62 L494.50 668.57 L494.78 668.78 L495.06 668.98 L495.34 669.18 L495.62 669.23 L495.90 669.18 L496.18 669.13 L496.47 669.07 L496.75 669.07 L497.03 669.07 L497.31 669.06 L497.59 669.01 L497.87 668.87 L498.15 668.74 L498.43 668.60 L498.71 668.43 L499.00 668.24 L499.28 668.05 L499.56 667.93 L499.84 668.07 L500.12 668.21 L500.40 668.34 L500.68 668.37 L500.96 668.34 L501.24 668.30 L501.53 668.26 L501.81 668.35 L502.09 668.44 L502.37 668.54 L502.65 668.59 L502.93 668.59 L503.21 668.58 L503.49 668.58 L503.77 668.64 L504.06 668.72 L504.34 668.79 L504.62 668.85 L504.90 668.83 L505.18 668.81 L505.46 668.80 L505.74 668.92 L506.02 669.15 L506.30 669.37 L506.59 669.59 L506.87 669.47 L507.15 669.34 L507.43 669.21 L507.71 669.14 L507.99 669.15 L508.27 669.15 L508.55 669.16 L508.83 668.99 L509.12 668.77 L509.40 668.55 L509.68 668.37 L509.96 668.39 L510.24 668.41 L510.52 668.43 L510.80 668.41 L511.08 668.36 L511.36 668.31 L511.65 668.26 L511.93 668.21 L512.21 668.17 L512.49 668.13 L512.77 668.18 L513.05 668.37 L513.33 668.57 L513.61 668.76 L513.89 668.69 L514.18 668.54 L514.46 668.40 L514.74 668.27 L515.02 668.18 L515.30 668.08 L515.58 667.99 L515.86 668.08 L516.14 668.28 L516.43 668.48 L516.71 668.69 L516.99 668.57 L517.27 668.46 L517.55 668.35 L517.83 668.33 L518.11 668.46 L518.39 668.59 L518.67 668.72 L518.96 668.87 L519.24 669.02 L519.52 669.17 L519.80 669.25 L520.08 669.07 L520.36 668.89 L520.64 668.71 L520.92 668.70 L521.20 668.80 L521.49 668.89 L521.77 668.99 L522.05 668.89 L522.33 668.80 L522.61 668.70 L522.89 668.67 L523.17 668.73 L523.45 668.79 L523.73 668.85 L524.02 668.79 L524.30 668.71 L524.58 668.63 L524.86 668.62 L525.14 668.87 L525.42 669.13 L525.70 669.38 L525.98 669.22 L526.26 668.78 L526.55 668.34 L526.83 667.90 L527.11 667.98 L527.39 668.06 L527.67 668.13 L527.95 668.25 L528.23 668.42 L528.51 668.60 L528.79 668.78 L529.08 668.86 L529.36 668.92 L529.64 668.98 L529.92 669.01 L530.20 668.91 L530.48 668.82 L530.76 668.72 L531.04 668.64 L531.32 668.57 L531.61 668.50 L531.89 668.43 L532.17 668.46 L532.45 668.48 L532.73 668.51 L533.01 668.53 L533.29 668.53 L533.57 668.53 L533.85 668.53 L534.14 668.73 L534.42 668.98 L534.70 669.22 L534.98 669.40 L535.26 669.32 L535.54 669.23 L535.82 669.14 L536.10 668.95 L536.38 668.70 L536.67 668.44 L536.95 668.18 L537.23 668.30 L537.51 668.41 L537.79 668.53 L538.07 668.67 L538.35 668.85 L538.63 669.03 L538.92 669.22 L539.20 669.20 L539.48 669.13 L539.76 669.06 L540.04 669.02 L540.32 669.08 L540.60 669.14 L540.88 669.20 L541.16 669.20 L541.45 669.15 L541.73 669.11 L542.01 669.07 L542.29 668.84 L542.57 668.61 L542.85 668.38 L543.13 668.30 L543.41 668.45 L543.69 668.59 L543.98 668.74 L544.26 668.65 L544.54 668.51 L544.82 668.37 L545.10 668.28 L545.38 668.38 L545.66 668.48 L545.94 668.57 L546.22 668.72 L546.51 668.90 L546.79 669.08 L547.07 669.25 L547.35 669.16 L547.63 669.07 L547.91 668.98 L548.19 668.81 L548.47 668.50 L548.75 668.19 L549.04 667.88 L549.32 668.07 L549.60 668.40 L549.88 668.72 L550.16 668.98 L550.44 669.01 L550.72 669.04 L551.00 669.07 L551.28 668.94 L551.57 668.70 L551.85 668.46 L552.13 668.21 L552.41 668.34 L552.69 668.46 L552.97 668.58 L553.25 668.65 L553.53 668.66 L553.81 668.67 L554.10 668.68 L554.38 668.56 L554.66 668.41 L554.94 668.25 L555.22 668.19 L555.50 668.54 L555.78 668.88 L556.06 669.22 L556.34 669.22 L556.63 668.99 L556.91 668.76 L557.19 668.53 L557.47 668.68 L557.75 668.84 L558.03 668.99 L558.31 669.10 L558.59 669.14 L558.88 669.17 L559.16 669.21 L559.44 669.17 L559.72 669.11 L560.00 669.04 L560.28 668.95 L560.56 668.74 L560.84 668.54 L561.12 668.33 L561.41 668.33 L561.69 668.46 L561.97 668.60 L562.25 668.74 L562.53 668.92 L562.81 669.10 L563.09 669.28 L563.37 669.35 L563.65 669.28 L563.94 669.20 L564.22 669.12 L564.50 668.88 L564.78 668.60 L565.06 668.33 L565.34 668.11 L565.62 668.17 L565.90 668.22 L566.18 668.27 L566.47 668.43 L566.75 668.65 L567.03 668.88 L567.31 669.10 L567.59 668.73 L567.87 668.35 L568.15 667.98 L568.43 667.88 L568.71 668.17 L569.00 668.47 L569.28 668.76 L569.56 668.89 L569.84 668.98 L570.12 669.07 L570.40 669.12 L570.68 669.01 L570.96 668.89 L571.24 668.78 L571.53 668.67 L571.81 668.55 L572.09 668.44 L572.37 668.33 L572.65 668.25 L572.93 668.18 L573.21 668.11 L573.49 668.09 L573.77 668.15 L574.06 668.22 L574.34 668.28 L574.62 668.41 L574.90 668.57 L575.18 668.72 L575.46 668.85 L575.74 668.86 L576.02 668.88 L576.30 668.89 L576.59 668.96 L576.87 669.05 L577.15 669.15 L577.43 669.24 L577.71 669.09 L577.99 668.95 L578.27 668.80 L578.55 668.73 L578.83 668.79 L579.12 668.85 L579.40 668.90 L579.68 668.84 L579.96 668.75 L580.24 668.66 L580.52 668.62 L580.80 668.78 L581.08 668.94 L581.37 669.10 L581.65 669.12 L581.93 669.04 L582.21 668.96 L582.49 668.88 L582.77 668.92 L583.05 668.96 L583.33 669.00 L583.61 669.03 L583.90 669.07 L584.18 669.10 L584.46 669.14 L584.74 669.14 L585.02 669.14 L585.30 669.14 L585.58 669.13 L585.86 669.12 L586.14 669.10 L586.43 669.08 L586.71 669.08 L586.99 669.10 L587.27 669.12 L587.55 669.14 L587.83 668.95 L588.11 668.76 L588.39 668.58 L588.67 668.49 L588.96 668.54 L589.24 668.59 L589.52 668.64 L589.80 668.77 L590.08 668.92 L590.36 669.07 L590.64 669.15 L590.92 668.96 L591.20 668.76 L591.49 668.57 L591.77 668.50 L592.05 668.53 L592.33 668.55 L592.61 668.57 L592.89 668.45 L593.17 668.32 L593.45 668.20 L593.73 668.20 L594.02 668.37 L594.30 668.55 L594.58 668.72 L594.86 668.76 L595.14 668.76 L595.42 668.76 L595.70 668.77 L595.98 668.83 L596.26 668.88 L596.55 668.93 L596.83 668.90 L597.11 668.81 L597.39 668.72 L597.67 668.64 L597.95 668.60 L598.23 668.56 L598.51 668.52 L598.79 668.51 L599.08 668.54 L599.36 668.58 L599.64 668.61 L599.92 668.65 L600.20 668.70 L600.48 668.74 L600.76 668.76 L601.04 668.68 L601.32 668.59 L601.61 668.50 L601.89 668.50 L602.17 668.55 L602.45 668.60 L602.73 668.65 L603.01 668.63 L603.29 668.62 L603.57 668.60 L603.86 668.64 L604.14 668.77 L604.42 668.89 L604.70 669.02 L604.98 668.94 L605.26 668.82 L605.54 668.70 L605.82 668.63 L606.10 668.76 L606.39 668.89 L606.67 669.01 L606.95 669.06 L607.23 669.04 L607.51 669.02 L607.79 669.01 L608.07 668.90 L608.35 668.79 L608.63 668.69 L608.92 668.54 L609.20 668.33 L609.48 668.13 L609.76 667.92 L610.04 667.97 L610.32 668.09 L610.60 668.21 L610.88 668.32 L611.16 668.43 L611.45 668.53 L611.73 668.64 L612.01 668.69 L612.29 668.71 L612.57 668.73 L612.85 668.75 L613.13 668.63 L613.41 668.50 L613.69 668.38 L613.98 668.29 L614.26 668.25 L614.54 668.21 L614.82 668.16 L615.10 668.17" stroke="#00f200"/>
<path d="M390.20 599.15 L390.48 599.52 L390.76 599.88 L391.04 600.25 L391.32 600.39 L391.61 600.20 L391.89 600.01 L392.17 599.81 L392.45 599.64 L392.73 599.48 L393.01 599.31 L393.29 599.13 L393.57 598.87 L393.85 598.61 L394.14 598.35 L394.42 598.38 L394.70 598.61 L394.98 598.84 L395.26 599.06 L395.54 599.32 L395.82 599.58 L396.10 599.83 L396.38 599.84 L396.67 599.48 L396.95 599.11 L397.23 598.74 L397.51 598.85 L397.79 599.07 L398.07 599.29 L398.35 599.38 L398.63 598.92 L398.91 598.46 L399.20 597.99 L399.48 597.92 L399.76 598.11 L400.04 598.30 L400.32 598.48 L400.60 598.06 L400.88 597.64 L401.16 597.20 L401.44 597.02 L401.73 597.24 L402.01 597.45 L402.29 597.66 L402.57 597.71 L402.85 597.73 L403.13 597.74 L403.41 597.73 L403.69 597.65 L403.98 597.56 L404.26 597.47 L404.54 597.22 L404.82 596.86 L405.10 596.49 L405.38 596.11 L405.66 595.78 L405.94 595.44 L406.22 595.08 L406.51 594.72 L406.79 594.36 L407.07 593.98 L407.35 593.58 L407.63 593.39 L407.91 593.25 L408.19 593.09 L408.47 592.91 L408.75 592.72 L409.04 592.50 L409.32 592.24 L409.60 591.70 L409.88 590.96 L410.16 590.16 L410.44 589.30 L410.72 588.91 L411.00 588.46 L411.28 587.93 L411.57 587.07 L411.85 585.64 L412.13 583.76 L412.41 581.64 L412.69 579.93 L412.97 578.52 L413.25 577.18 L413.53 575.71 L413.81 573.66 L414.10 571.41 L414.38 568.93 L414.66 566.64 L414.94 564.57 L415.22 562.51 L415.50 560.43 L415.78 558.35 L416.06 556.23 L416.34 553.81 L416.63 551.40 L416.91 549.79 L417.19 548.84 L417.47 548.38 L417.75 548.54 L418.03 549.33 L418.31 550.53 L418.59 552.66 L418.87 555.33 L419.16 557.75 L419.44 560.11 L419.72 562.58 L420.00 565.21 L420.28 568.03 L420.56 571.09 L420.84 573.79 L421.12 576.25 L421.40 578.52 L421.69 580.50 L421.97 582.50 L422.25 584.23 L422.53 584.98 L422.81 585.14 L423.09 585.32 L423.37 585.43 L423.65 585.44 L423.94 585.00 L424.22 584.35 L424.50 583.63 L424.78 582.97 L425.06 582.51 L425.34 582.35 L425.62 582.39 L425.90 583.23 L426.18 584.17 L426.47 585.19 L426.75 585.82 L427.03 585.82 L427.31 585.77 L427.59 585.77 L427.87 586.44 L428.15 587.30 L428.43 588.16 L428.71 588.99 L429.00 589.83 L429.28 590.48 L429.56 590.90 L429.84 591.04 L430.12 591.07 L430.40 591.08 L430.68 591.08 L430.96 591.07 L431.24 591.04 L431.53 591.01 L431.81 590.77 L432.09 590.18 L432.37 589.52 L432.65 588.86 L432.93 589.01 L433.21 589.45 L433.49 590.03 L433.77 590.57 L434.06 590.30 L434.34 590.14 L434.62 590.03 L434.90 590.36 L435.18 590.94 L435.46 591.51 L435.74 592.12 L436.02 592.78 L436.30 593.44 L436.59 594.07 L436.87 594.58 L437.15 594.91 L437.43 595.14 L437.71 595.34 L437.99 595.51 L438.27 595.67 L438.55 595.81 L438.83 595.94 L439.12 596.06 L439.40 596.17 L439.68 596.28 L439.96 596.29 L440.24 596.24 L440.52 596.18 L440.80 596.12 L441.08 596.54 L441.36 596.95 L441.65 597.36 L441.93 597.51 L442.21 597.30 L442.49 597.08 L442.77 596.86 L443.05 596.93 L443.33 597.06 L443.61 597.20 L443.89 597.38 L444.18 597.72 L444.46 598.07 L444.74 598.43 L445.02 598.58 L445.30 598.60 L445.58 598.61 L445.86 598.62 L446.14 598.97 L446.43 599.32 L446.71 599.65 L446.99 599.86 L447.27 599.87 L447.55 599.87 L447.83 599.84 L448.11 599.82 L448.39 599.81 L448.67 599.78 L448.96 599.73 L449.24 599.53 L449.52 599.33 L449.80 599.13 L450.08 599.28 L450.36 599.66 L450.64 600.04 L450.92 600.41 L451.20 600.46 L451.49 600.51 L451.77 600.56 L452.05 600.59 L452.33 600.59 L452.61 600.58 L452.89 600.58 L453.17 600.63 L453.45 600.69 L453.73 600.76 L454.02 600.84 L454.30 601.02 L454.58 601.20 L454.86 601.37 L455.14 601.16 L455.42 600.68 L455.70 600.20 L455.98 599.72 L456.26 600.17 L456.55 600.62 L456.83 601.07 L457.11 601.34 L457.39 601.36 L457.67 601.38 L457.95 601.39 L458.23 601.43 L458.51 601.47 L458.79 601.51 L459.08 601.50 L459.36 601.28 L459.64 601.07 L459.92 600.85 L460.20 600.54 L460.48 600.17 L460.76 599.80 L461.04 599.43 L461.32 599.44 L461.61 599.44 L461.89 599.45 L462.17 599.59 L462.45 599.96 L462.73 600.32 L463.01 600.68 L463.29 600.85 L463.57 600.98 L463.85 601.10 L464.14 601.21 L464.42 601.29 L464.70 601.36 L464.98 601.44 L465.26 601.57 L465.54 601.75 L465.82 601.93 L466.10 602.11 L466.38 601.82 L466.67 601.53 L466.95 601.24 L467.23 601.12 L467.51 601.27 L467.79 601.42 L468.07 601.57 L468.35 601.31 L468.63 600.95 L468.91 600.59 L469.20 600.38 L469.48 600.79 L469.76 601.20 L470.04 601.61 L470.32 601.85 L470.60 601.98 L470.88 602.11 L471.16 602.25 L471.45 602.39 L471.73 602.54 L472.01 602.69 L472.29 602.78 L472.57 602.77 L472.85 602.77 L473.13 602.77 L473.41 602.44 L473.69 602.04 L473.98 601.64 L474.26 601.33 L474.54 601.38 L474.82 601.43 L475.10 601.48 L475.38 601.66 L475.66 601.92 L475.94 602.18 L476.22 602.43 L476.51 602.50 L476.79 602.57 L477.07 602.64 L477.35 602.56 L477.63 602.25 L477.91 601.95 L478.19 601.64 L478.47 601.67 L478.75 601.78 L479.04 601.89 L479.32 601.96 L479.60 601.87 L479.88 601.77 L480.16 601.67 L480.44 601.66 L480.72 601.70 L481.00 601.75 L481.28 601.79 L481.57 601.92 L481.85 602.06 L482.13 602.19 L482.41 602.33 L482.69 602.50 L482.97 602.66 L483.25 602.83 L483.53 602.61 L483.81 602.29 L484.10 601.97 L484.38 601.72 L484.66 601.73 L484.94 601.73 L485.22 601.74 L485.50 601.74 L485.78 601.73 L486.06 601.71 L486.34 601.70 L486.63 601.57 L486.91 601.44 L487.19 601.31 L487.47 601.24 L487.75 601.24 L488.03 601.25 L488.31 601.25 L488.59 601.45 L488.87 601.69 L489.16 601.94 L489.44 602.09 L489.72 601.91 L490.00 601.73 L490.28 601.55 L490.56 601.76 L490.84 602.23 L491.12 602.70 L491.40 603.18 L491.69 602.69 L491.97 602.20 L492.25 601.72 L492.53 601.47 L492.81 601.60 L493.09 601.72 L493.37 601.84 L493.65 601.72 L493.94 601.54 L494.22 601.37 L494.50 601.22 L494.78 601.23 L495.06 601.24 L495.34 601.24 L495.62 601.44 L495.90 601.78 L496.18 602.11 L496.47 602.44 L496.75 602.30 L497.03 602.16 L497.31 602.02 L497.59 601.86 L497.87 601.64 L498.15 601.43 L498.43 601.22 L498.71 601.41 L499.00 601.69 L499.28 601.98 L499.56 602.19 L499.84 602.08 L500.12 601.98 L500.40 601.87 L500.68 601.90 L500.96 602.02 L501.24 602.13 L501.53 602.25 L501.81 602.05 L502.09 601.84 L502.37 601.64 L502.65 601.54 L502.93 601.59 L503.21 601.64 L503.49 601.69 L503.77 601.85 L504.06 602.05 L504.34 602.24 L504.62 602.42 L504.90 602.52 L505.18 602.62 L505.46 602.73 L505.74 602.85 L506.02 602.99 L506.30 603.12 L506.59 603.26 L506.87 602.73 L507.15 602.21 L507.43 601.68 L507.71 601.46 L507.99 601.68 L508.27 601.90 L508.55 602.13 L508.83 602.21 L509.12 602.25 L509.40 602.29 L509.68 602.32 L509.96 602.29 L510.24 602.26 L510.52 602.24 L510.80 602.27 L511.08 602.33 L511.36 602.40 L511.65 602.47 L511.93 602.20 L512.21 601.92 L512.49 601.65 L512.77 601.49 L513.05 601.50 L513.33 601.51 L513.61 601.52 L513.89 601.91 L514.18 602.41 L514.46 602.90 L514.74 603.22 L515.02 602.84 L515.30 602.46 L515.58 602.08 L515.86 601.92 L516.14 601.89 L516.43 601.87 L516.71 601.85 L516.99 601.92 L517.27 602.00 L517.55 602.07 L517.83 602.09 L518.11 602.01 L518.39 601.94 L518.67 601.87 L518.96 601.64 L519.24 601.37 L519.52 601.10 L519.80 600.93 L520.08 601.16 L520.36 601.40 L520.64 601.63 L520.92 601.63 L521.20 601.48 L521.49 601.33 L521.77 601.18 L522.05 601.21 L522.33 601.24 L522.61 601.28 L522.89 601.47 L523.17 601.90 L523.45 602.34 L523.73 602.78 L524.02 602.41 L524.30 601.85 L524.58 601.28 L524.86 600.88 L525.14 601.15 L525.42 601.42 L525.70 601.69 L525.98 601.85 L526.26 601.94 L526.55 602.02 L526.83 602.11 L527.11 601.91 L527.39 601.72 L527.67 601.53 L527.95 601.32 L528.23 601.08 L528.51 600.84 L528.79 600.60 L529.08 600.96 L529.36 601.49 L529.64 602.01 L529.92 602.42 L530.20 602.40 L530.48 602.38 L530.76 602.37 L531.04 602.25 L531.32 602.07 L531.61 601.90 L531.89 601.72 L532.17 602.08 L532.45 602.45 L532.73 602.82 L533.01 603.00 L533.29 602.88 L533.57 602.77 L533.85 602.66 L534.14 602.47 L534.42 602.27 L534.70 602.07 L534.98 601.89 L535.26 601.77 L535.54 601.65 L535.82 601.53 L536.10 601.50 L536.38 601.54 L536.67 601.57 L536.95 601.61 L537.23 601.56 L537.51 601.51 L537.79 601.46 L538.07 601.41 L538.35 601.37 L538.63 601.33 L538.92 601.28 L539.20 601.49 L539.48 601.75 L539.76 602.01 L540.04 602.22 L540.32 602.21 L540.60 602.19 L540.88 602.17 L541.16 602.17 L541.45 602.16 L541.73 602.16 L542.01 602.15 L542.29 602.15 L542.57 602.16 L542.85 602.16 L543.13 602.06 L543.41 601.81 L543.69 601.56 L543.98 601.32 L544.26 601.30 L544.54 601.34 L544.82 601.39 L545.10 601.52 L545.38 602.03 L545.66 602.53 L545.94 603.04 L546.22 602.98 L546.51 602.54 L546.79 602.10 L547.07 601.66 L547.35 601.93 L547.63 602.19 L547.91 602.46 L548.19 602.63 L548.47 602.64 L548.75 602.65 L549.04 602.66 L549.32 602.33 L549.60 601.91 L549.88 601.49 L550.16 601.16 L550.44 601.16 L550.72 601.15 L551.00 601.14 L551.28 601.16 L551.57 601.18 L551.85 601.21 L552.13 601.24 L552.41 601.32 L552.69 601.41 L552.97 601.50 L553.25 601.47 L553.53 601.27 L553.81 601.08 L554.10 600.88 L554.38 601.25 L554.66 601.76 L554.94 602.27 L555.22 602.61 L555.50 602.27 L555.78 601.93 L556.06 601.59 L556.34 601.61 L556.63 601.87 L556.91 602.13 L557.19 602.40 L557.47 602.38 L557.75 602.37 L558.03 602.36 L558.31 602.43 L558.59 602.60 L558.88 602.78 L559.16 602.96 L559.44 602.56 L559.72 602.01 L560.00 601.46 L560.28 601.02 L560.56 600.97 L560.84 600.93 L561.12 600.89 L561.41 600.96 L561.69 601.12 L561.97 601.27 L562.25 601.43 L562.53 601.68 L562.81 601.94 L563.09 602.19 L563.37 602.29 L563.65 602.16 L563.94 602.03 L564.22 601.89 L564.50 602.04 L564.78 602.26 L565.06 602.47 L565.34 602.62 L565.62 602.48 L565.90 602.34 L566.18 602.20 L566.47 601.96 L566.75 601.65 L567.03 601.35 L567.31 601.04 L567.59 601.02 L567.87 601.01 L568.15 600.99 L568.43 601.04 L568.71 601.21 L569.00 601.37 L569.28 601.53 L569.56 601.55 L569.84 601.53 L570.12 601.51 L570.40 601.53 L570.68 601.68 L570.96 601.84 L571.24 602.00 L571.53 602.01 L571.81 601.93 L572.09 601.84 L572.37 601.76 L572.65 601.85 L572.93 601.94 L573.21 602.04 L573.49 602.05 L573.77 601.93 L574.06 601.82 L574.34 601.71 L574.62 601.84 L574.90 602.04 L575.18 602.23 L575.46 602.33 L575.74 602.04 L576.02 601.76 L576.30 601.48 L576.59 601.49 L576.87 601.71 L577.15 601.92 L577.43 602.14 L577.71 602.06 L577.99 601.99 L578.27 601.91 L578.55 601.89 L578.83 601.95 L579.12 602.01 L579.40 602.06 L579.68 601.85 L579.96 601.56 L580.24 601.27 L580.52 601.06 L580.80 601.17 L581.08 601.28 L581.37 601.38 L581.65 601.61 L581.93 601.90 L582.21 602.20 L582.49 602.49 L582.77 602.52 L583.05 602.55 L583.33 602.57 L583.61 602.48 L583.90 602.22 L584.18 601.95 L584.46 601.69 L584.74 601.70 L585.02 601.79 L585.30 601.87 L585.58 601.94 L585.86 602.00 L586.14 602.06 L586.43 602.12 L586.71 602.10 L586.99 602.02 L587.27 601.94 L587.55 601.87 L587.83 601.62 L588.11 601.37 L588.39 601.12 L588.67 601.09 L588.96 601.39 L589.24 601.70 L589.52 602.00 L589.80 601.85 L590.08 601.59 L590.36 601.32 L590.64 601.18 L590.92 601.51 L591.20 601.84 L591.49 602.18 L591.77 602.28 L592.05 602.24 L592.33 602.20 L592.61 602.15 L592.89 602.06 L593.17 601.96 L593.45 601.87 L593.73 601.84 L594.02 601.91 L594.30 601.97 L594.58 602.04 L594.86 602.11 L595.14 602.19 L595.42 602.26 L595.70 602.34 L595.98 602.44 L596.26 602.54 L596.55 602.64 L596.83 602.60 L597.11 602.47 L597.39 602.35 L597.67 602.22 L597.95 602.23 L598.23 602.25 L598.51 602.26 L598.79 602.24 L599.08 602.17 L599.36 602.10 L599.64 602.03 L599.92 601.87 L600.20 601.69 L600.48 601.51 L600.76 601.38 L601.04 601.47 L601.32 601.57 L601.61 601.66 L601.89 601.63 L602.17 601.52 L602.45 601.41 L602.73 601.29 L603.01 601.46 L603.29 601.62 L603.57 601.79 L603.86 601.87 L604.14 601.83 L604.42 601.79 L604.70 601.75 L604.98 601.71 L605.26 601.68 L605.54 601.65 L605.82 601.63 L606.10 601.61 L606.39 601.59 L606.67 601.58 L606.95 601.54 L607.23 601.49 L607.51 601.44 L607.79 601.39 L608.07 601.66 L608.35 601.93 L608.63 602.20 L608.92 602.30 L609.20 602.13 L609.48 601.96 L609.76 601.79 L610.04 601.79 L610.32 601.83 L610.60 601.87 L610.88 601.86 L611.16 601.69 L611.45 601.51 L611.73 601.33 L612.01 601.30 L612.29 601.37 L612.57 601.44 L612.85 601.50 L613.13 601.75 L613.41 601.99 L613.69 602.24 L613.98 602.31 L614.26 602.14 L614.54 601.97 L614.82 601.80 L615.10 601.73" stroke="#000000"/>
</g>
<line x1="439.00" y1="564.20" x2="430.26" y2="573.18" stroke="#000" stroke-width="1.45"/>
<polygon points="423.77,579.84 428.73,570.30 433.18,574.63" fill="#000"/>
<line x1="453.90" y1="575.50" x2="441.66" y2="582.25" stroke="#000" stroke-width="1.45"/>
<polygon points="433.51,586.73 441.04,579.05 444.03,584.48" fill="#000"/>
<line x1="456.50" y1="634.80" x2="454.07" y2="638.55" stroke="#000" stroke-width="1.45"/>
<polygon points="449.01,646.36 452.01,636.03 457.21,639.40" fill="#000"/>
<line x1="471.90" y1="648.90" x2="465.58" y2="653.13" stroke="#000" stroke-width="1.45"/>
<polygon points="457.85,658.30 464.69,650.00 468.14,655.15" fill="#000"/>
<line x1="483.70" y1="708.40" x2="482.02" y2="714.50" stroke="#000" stroke-width="1.45"/>
<polygon points="479.56,723.47 479.30,712.71 485.28,714.36" fill="#000"/>
<rect x="394.40" y="528.50" width="45.80" height="15.30" fill="#fff"/>
<text transform="translate(394.40 540.40) scale(1 1.045)" font-size="14.75" text-anchor="start">(10,10)</text>
<text transform="translate(434.80 556.40) scale(1 1.045)" font-size="14.75" text-anchor="start">(11,8)</text>
<text transform="translate(454.90 576.10) scale(1 1.045)" font-size="14.75" text-anchor="start">(12,6)</text>
<text transform="translate(561.80 590.30) scale(1 1.045)" font-size="14.75" text-anchor="start">655 nm</text>
<text transform="translate(422.60 614.90) scale(1 1.045)" font-size="14.75" text-anchor="start">(9,9)</text>
<text transform="translate(458.70 632.30) scale(1 1.045)" font-size="14.75" text-anchor="start">(10,7)</text>
<text transform="translate(474.90 650.30) scale(1 1.045)" font-size="14.75" text-anchor="start">(11,5)</text>
<text transform="translate(561.80 657.70) scale(1 1.045)" font-size="14.75" text-anchor="start">610 nm</text>
<text transform="translate(450.20 680.20) scale(1 1.045)" font-size="14.75" text-anchor="start">(8,8)</text>
<text transform="translate(471.70 704.30) scale(1 1.045)" font-size="14.75" text-anchor="start">(9,6)</text>
<text transform="translate(561.80 727.70) scale(1 1.045)" font-size="14.75" text-anchor="start">552 nm</text>
<text transform="translate(479.50 750.70) scale(1 1.045)" font-size="14.75" text-anchor="start">(7,7)</text>
<text transform="translate(561.80 794.60) scale(1 1.045)" font-size="14.75" text-anchor="start">500 nm</text>
<text transform="translate(526.60 823.00) scale(1 1.045)" font-size="14.75" text-anchor="start">(6,6)</text>
<text transform="translate(561.80 854.90) scale(1 1.045)" font-size="14.75" text-anchor="start">449 nm</text>
<text transform="translate(345.50 506.60) scale(1 1.045)" font-size="17.40" text-anchor="start">(b)</text>
<text transform="translate(397.60 506.60) scale(1 1.045)" font-size="17.42" text-anchor="start">Armchair-enriched SWCNTs</text>
<text transform="translate(432.3 923.2) scale(1 1.045)" font-size="17.3">Raman Shift (cm<tspan font-size="10.6" dy="-11.0" dx="1.3" letter-spacing="0.4">-1</tspan><tspan dy="11.0" dx="0.9">)</tspan></text>
<text transform="translate(361.0 776.5) rotate(-90) scale(1 1.045)" font-size="17.42">Intensity (arb. units)</text>
</svg>
</body></html>
